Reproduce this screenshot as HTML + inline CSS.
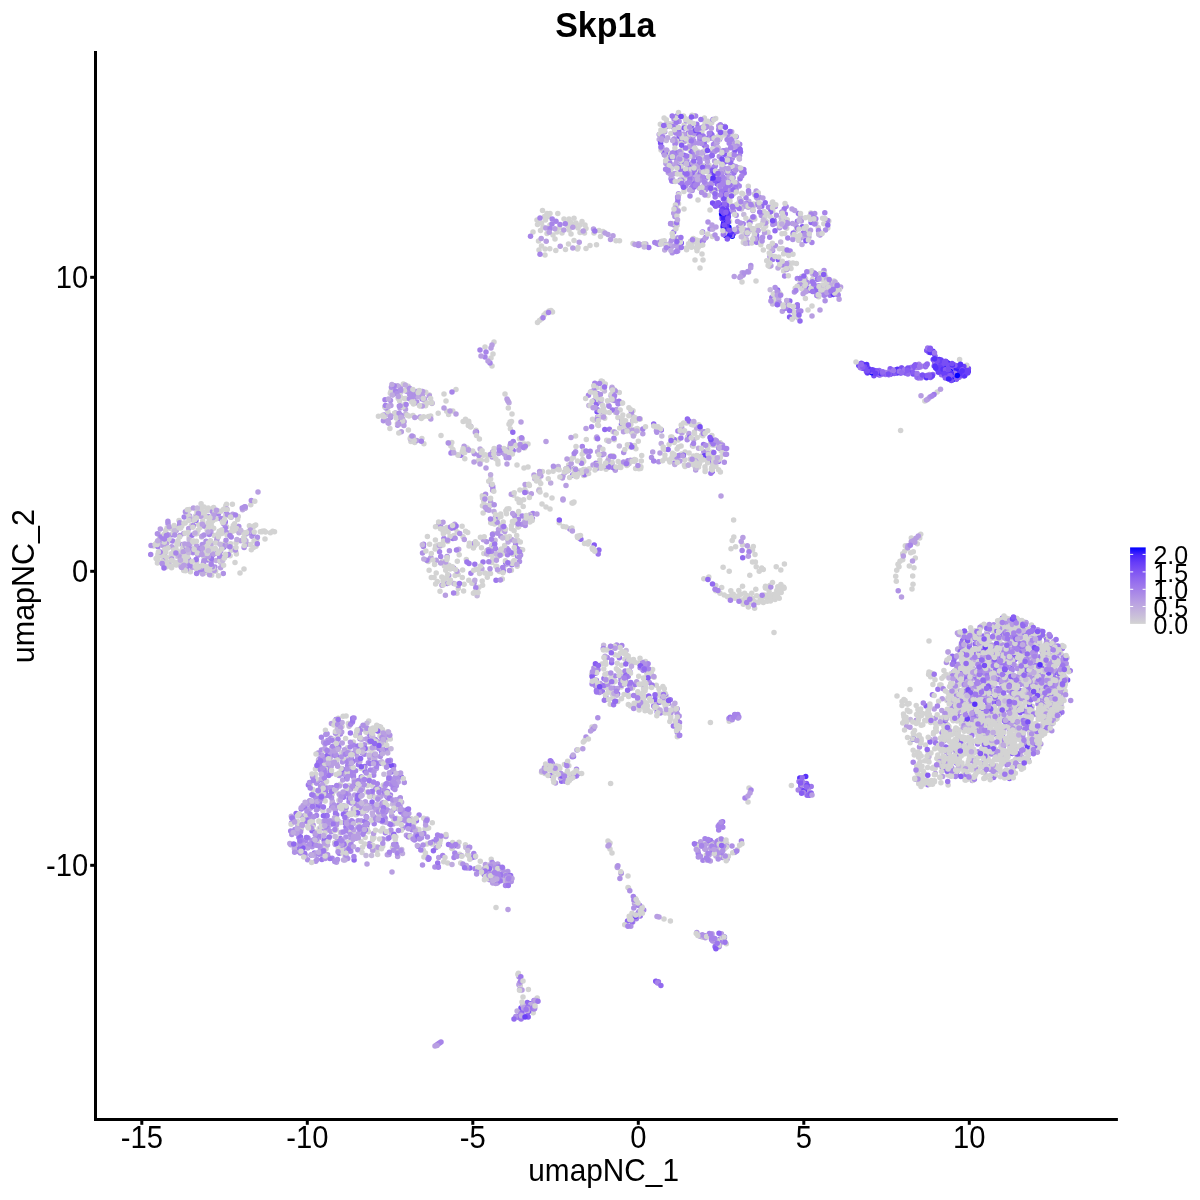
<!DOCTYPE html>
<html><head><meta charset="utf-8"><title>Skp1a</title>
<style>
html,body{margin:0;padding:0;background:#fff;}
body{width:1200px;height:1200px;overflow:hidden;}
svg{display:block;will-change:transform;}
text{font-family:"Liberation Sans",Arial,Helvetica,sans-serif;fill:#000;}
.tk{font-size:29.2px;}
.ax{font-size:29.8px;}
.lg{font-size:25px;}
</style></head>
<body>
<svg width="1200" height="1200" viewBox="0 0 1200 1200">
<defs>
<linearGradient id="cb" x1="0" y1="1" x2="0" y2="0">
<stop offset="0" stop-color="#d3d3d3"/><stop offset=".1" stop-color="#cac0d9"/><stop offset=".2" stop-color="#c1aede"/>
<stop offset=".3" stop-color="#b69ce3"/><stop offset=".4" stop-color="#aa89e7"/><stop offset=".5" stop-color="#9d77ec"/>
<stop offset=".6" stop-color="#8e65f0"/><stop offset=".7" stop-color="#7c51f4"/><stop offset=".8" stop-color="#673df8"/>
<stop offset=".9" stop-color="#4926fb"/><stop offset="1" stop-color="#0000ff"/>
</linearGradient>
</defs>
<text transform="translate(555.2 37.2) scale(1 1.045)" font-size="34" font-weight="bold">Skp1a</text>
<g fill="none" stroke-width="5.5" stroke-linecap="round">
<path stroke="#9d77ec" d="M728.1 195.6h.01M727.1 172.9h.01M706.2 186.8h.01M720.3 135.3h.01M680.1 182.2h.01M661.8 147.0h.01M732.4 184.2h.01M721.1 178.7h.01M667.0 153.1h.01M666.1 126.8h.01M667.3 158.2h.01M732.2 191.0h.01M743.8 169.5h.01M736.3 182.9h.01M738.3 144.3h.01M671.1 178.8h.01M699.9 139.5h.01M680.6 165.9h.01M723.4 198.6h.01M797.4 221.3h.01M737.8 229.5h.01M798.4 213.4h.01M786.1 220.3h.01M788.7 263.3h.01M836.8 291.6h.01M771.8 297.4h.01M673.7 231.9h.01M659.0 243.9h.01M461.0 455.2h.01M517.5 520.1h.01M453.5 567.9h.01M593.4 401.0h.01M597.8 393.8h.01M674.5 462.9h.01M892.3 370.1h.01M890.7 373.7h.01M918.3 377.9h.01M932.8 374.5h.01M928.4 348.8h.01M944.2 375.7h.01M946.0 372.8h.01M951.6 375.2h.01M947.8 374.8h.01M194.1 541.6h.01M953.9 687.0h.01M1015.7 748.2h.01M987.8 639.0h.01M1057.9 713.3h.01M982.8 742.2h.01M1070.2 670.7h.01M965.9 653.7h.01M994.2 662.2h.01M968.2 654.1h.01M1030.9 689.5h.01M947.2 760.3h.01M994.0 754.0h.01M1009.5 730.8h.01M1023.9 724.6h.01M1014.5 623.6h.01M1034.9 653.5h.01M1031.0 643.4h.01M1013.5 637.1h.01M1038.4 645.4h.01M1038.6 637.1h.01M1042.7 665.8h.01M1034.0 634.1h.01M981.6 638.0h.01M1025.8 622.6h.01M1004.3 623.4h.01M1018.5 641.1h.01M981.2 692.2h.01M1010.9 676.6h.01M1056.2 658.9h.01M980.8 675.7h.01M1040.6 696.2h.01M991.8 699.1h.01M1036.6 677.1h.01M1026.2 671.3h.01M1021.5 709.6h.01M979.2 687.2h.01M991.8 734.9h.01M970.0 680.8h.01M1034.0 674.7h.01M1009.6 653.6h.01M1044.8 727.2h.01M1057.7 708.5h.01M990.1 749.6h.01M998.6 703.3h.01M959.8 676.1h.01M981.0 684.8h.01M927.8 784.8h.01M314.4 853.0h.01M383.2 744.6h.01M344.5 822.4h.01M330.0 739.8h.01M328.8 821.2h.01M374.4 817.3h.01M350.4 733.0h.01M385.3 812.0h.01M383.4 820.4h.01M296.7 847.0h.01M336.1 719.4h.01M340.3 838.4h.01M301.3 809.1h.01M384.7 740.6h.01M348.0 830.9h.01M376.9 742.4h.01M345.9 826.9h.01M372.5 849.2h.01M437.7 862.9h.01M427.3 857.3h.01M602.4 691.2h.01M603.9 678.4h.01M665.7 695.2h.01M573.5 756.4h.01M577.6 774.0h.01M698.2 853.2h.01M712.0 842.6h.01M710.5 840.6h.01M716.1 845.8h.01M637.6 913.7h.01M526.3 1007.5h.01"/>
<path stroke="#0000ff" d="M725.4 215.4h.01M859.0 365.2h.01"/>
<path stroke="#794ff4" d="M733.6 233.5h.01M681.3 243.0h.01M597.1 411.7h.01M621.5 424.0h.01M859.0 365.7h.01M873.9 375.7h.01M904.1 370.9h.01M905.3 373.0h.01M913.1 374.1h.01M931.5 376.3h.01M930.4 352.5h.01M964.0 376.1h.01M947.0 374.7h.01M961.0 370.8h.01M987.8 631.5h.01M978.4 686.6h.01M1067.6 680.0h.01M966.9 651.4h.01M521.0 1008.1h.01"/>
<path stroke="#926aef" d="M714.2 138.1h.01M715.1 189.9h.01M712.8 150.2h.01M692.5 182.0h.01M697.0 184.6h.01M715.2 205.1h.01M725.1 202.6h.01M717.7 176.6h.01M721.7 211.0h.01M755.4 204.4h.01M775.0 230.8h.01M756.6 235.3h.01M598.9 550.0h.01M661.3 429.9h.01M883.2 372.7h.01M928.9 352.3h.01M950.7 364.6h.01M941.5 374.7h.01M959.2 377.2h.01M1049.7 677.9h.01M973.2 670.1h.01M993.2 625.9h.01M986.5 664.2h.01M1009.5 778.5h.01M1033.7 647.6h.01M954.7 702.9h.01M1053.4 687.8h.01M994.2 702.7h.01M1011.1 661.8h.01M996.6 643.9h.01M995.8 658.2h.01M985.9 682.2h.01M1039.7 633.1h.01M1063.6 675.3h.01M966.6 649.0h.01M1006.9 662.5h.01M973.8 638.2h.01M1019.4 733.9h.01M1044.6 645.9h.01M999.5 739.7h.01M1003.1 685.1h.01M1008.2 649.6h.01M401.5 777.1h.01M296.1 813.5h.01M333.5 822.4h.01M384.0 791.6h.01M361.3 776.9h.01M386.3 733.8h.01M379.4 796.9h.01M498.1 877.1h.01M469.9 868.1h.01M617.6 694.1h.01M804.1 790.6h.01M627.5 921.1h.01M711.4 938.6h.01"/>
<path stroke="#875cf2" d="M716.9 205.6h.01M724.5 196.8h.01M712.4 461.9h.01M867.8 369.1h.01M904.4 372.0h.01M916.8 373.9h.01M956.4 379.3h.01M956.5 372.4h.01M942.0 371.5h.01M943.6 373.1h.01M940.0 368.1h.01M953.5 373.2h.01M948.7 370.3h.01M999.0 734.7h.01M958.1 755.0h.01M953.9 671.9h.01M989.2 766.7h.01M1015.3 685.9h.01M956.8 763.2h.01M1007.8 638.0h.01M995.9 658.2h.01M1031.8 663.8h.01M1011.8 670.8h.01M1003.8 720.3h.01M987.0 633.0h.01M1015.3 650.3h.01M969.8 694.0h.01M348.2 762.7h.01M336.8 756.7h.01M386.6 750.6h.01M629.8 671.5h.01M605.7 696.4h.01M800.8 786.0h.01M656.6 981.6h.01M658.2 982.6h.01"/>
<path stroke="#c6b9db" d="M690.5 124.7h.01M683.2 179.2h.01M754.7 194.1h.01M746.5 239.6h.01M800.3 217.0h.01M818.4 287.3h.01M820.0 290.4h.01M772.6 304.1h.01M495.1 540.3h.01M604.4 391.0h.01M1023.5 738.4h.01M1065.2 656.8h.01M973.0 678.6h.01M973.9 697.1h.01M331.5 748.1h.01M351.4 773.7h.01M376.6 741.8h.01M391.3 833.8h.01M372.7 850.8h.01M401.7 849.4h.01M494.9 874.5h.01M626.1 650.4h.01M657.6 709.3h.01"/>
<path stroke="#3e1ffc" d="M723.5 223.9h.01M959.6 371.2h.01M964.4 372.3h.01M947.8 363.1h.01M945.4 371.9h.01M958.3 370.2h.01M1006.4 619.2h.01"/>
<path stroke="#6a40f7" d="M730.8 170.2h.01M720.9 204.9h.01M877.5 371.5h.01M862.3 366.7h.01M874.4 370.5h.01M876.0 371.4h.01M922.4 376.6h.01M933.2 359.5h.01M938.5 369.2h.01M934.9 360.0h.01M961.0 374.9h.01"/>
<path stroke="#af91e5" d="M726.9 171.5h.01M711.4 168.3h.01M719.7 171.4h.01M702.2 152.3h.01M659.2 134.5h.01M732.4 145.5h.01M689.3 167.6h.01M723.4 151.4h.01M733.1 177.8h.01M715.3 140.6h.01M691.4 187.8h.01M738.4 227.4h.01M814.7 213.5h.01M748.6 243.0h.01M818.7 285.7h.01M837.3 286.6h.01M822.7 289.5h.01M831.9 283.7h.01M786.7 308.1h.01M678.5 193.8h.01M673.5 224.8h.01M640.2 244.4h.01M657.0 243.6h.01M415.1 397.0h.01M470.6 426.2h.01M501.7 452.2h.01M452.5 450.6h.01M506.2 457.8h.01M525.2 525.6h.01M532.4 518.4h.01M486.6 541.7h.01M492.6 534.7h.01M430.5 558.4h.01M447.1 556.6h.01M438.5 524.9h.01M507.3 548.6h.01M422.5 553.1h.01M568.2 470.6h.01M569.8 528.9h.01M597.5 417.3h.01M602.5 411.5h.01M726.5 454.3h.01M909.3 370.6h.01M929.4 374.5h.01M208.2 516.5h.01M209.4 549.2h.01M217.3 553.1h.01M187.4 557.8h.01M251.9 536.3h.01M203.1 553.3h.01M177.9 556.6h.01M212.0 511.3h.01M197.9 555.2h.01M228.3 545.4h.01M188.6 559.3h.01M165.1 556.4h.01M1040.8 743.9h.01M1006.9 684.8h.01M971.0 674.0h.01M946.1 751.5h.01M972.2 760.3h.01M970.3 678.8h.01M985.0 712.9h.01M1051.2 656.0h.01M1006.8 740.1h.01M994.2 637.4h.01M1051.2 658.9h.01M1053.2 667.7h.01M1025.3 696.0h.01M972.3 780.6h.01M1014.8 638.9h.01M990.5 644.3h.01M975.9 654.5h.01M1022.6 638.4h.01M993.8 624.8h.01M1036.6 664.0h.01M979.2 688.6h.01M998.4 699.4h.01M1007.9 686.1h.01M996.7 664.0h.01M1009.6 723.7h.01M1049.6 707.8h.01M1035.0 652.2h.01M980.4 656.6h.01M1052.0 723.8h.01M1004.7 681.3h.01M974.4 657.5h.01M1050.4 663.6h.01M1045.4 693.4h.01M973.9 711.1h.01M1043.2 681.3h.01M916.3 720.3h.01M404.3 782.5h.01M374.0 729.8h.01M396.4 782.3h.01M351.3 802.9h.01M317.0 859.6h.01M359.6 790.8h.01M383.2 821.8h.01M321.4 750.1h.01M351.1 838.9h.01M400.1 806.5h.01M347.7 858.6h.01M312.9 794.9h.01M403.2 827.7h.01M380.3 756.4h.01M306.0 821.5h.01M343.1 796.5h.01M364.7 825.9h.01M370.7 796.3h.01M345.6 811.5h.01M399.4 820.8h.01M315.3 834.5h.01M320.6 849.0h.01M317.9 800.8h.01M336.0 808.5h.01M298.0 825.4h.01M303.7 806.9h.01M327.8 740.3h.01M314.2 840.4h.01M353.4 774.7h.01M373.6 759.1h.01M342.5 762.0h.01M307.6 859.8h.01M372.8 807.1h.01M370.6 757.0h.01M328.2 830.0h.01M369.7 843.6h.01M382.8 839.1h.01M403.8 820.0h.01M467.0 867.9h.01M511.2 881.4h.01M497.3 883.0h.01M485.5 870.7h.01M501.3 877.3h.01M502.2 869.1h.01M628.0 672.6h.01M649.3 682.5h.01M627.8 660.5h.01M613.8 688.3h.01M677.2 719.8h.01M643.4 662.5h.01M717.1 846.5h.01M717.7 850.6h.01M697.9 850.8h.01M722.4 857.5h.01M700.1 844.0h.01M630.3 916.8h.01M719.4 945.6h.01M711.9 936.5h.01M519.0 984.7h.01"/>
<path stroke="#d3d3d3" d="M712.0 180.2h.01M663.8 150.6h.01M709.5 126.5h.01M690.8 132.0h.01M674.7 139.1h.01M697.1 170.0h.01M671.9 173.3h.01M685.8 136.7h.01M718.5 148.7h.01M684.1 125.1h.01M698.4 129.1h.01M730.9 135.4h.01M660.9 130.1h.01M681.5 150.5h.01M697.1 130.4h.01M659.8 133.9h.01M705.1 122.7h.01M669.7 154.3h.01M684.1 188.6h.01M690.1 175.4h.01M679.3 166.7h.01M719.5 182.7h.01M732.7 154.1h.01M705.5 148.2h.01M702.3 137.5h.01M784.1 213.6h.01M764.8 214.1h.01M786.7 228.2h.01M740.0 231.1h.01M796.7 236.5h.01M761.4 204.8h.01M741.8 193.2h.01M787.3 219.8h.01M753.1 207.0h.01M818.2 227.7h.01M739.9 205.9h.01M781.3 222.8h.01M757.9 198.9h.01M761.4 241.0h.01M749.1 231.8h.01M735.4 205.3h.01M828.8 220.9h.01M772.8 210.9h.01M772.2 203.1h.01M753.4 204.0h.01M768.0 232.2h.01M729.6 221.5h.01M763.9 211.6h.01M780.0 266.2h.01M772.7 245.4h.01M789.7 266.0h.01M773.2 245.5h.01M772.5 256.2h.01M789.8 263.2h.01M811.7 270.7h.01M805.6 278.8h.01M818.7 296.8h.01M774.6 299.4h.01M779.0 292.6h.01M793.2 311.4h.01M780.7 294.6h.01M677.9 209.9h.01M676.4 207.9h.01M678.5 203.7h.01M677.1 225.3h.01M664.3 240.7h.01M688.5 243.8h.01M697.0 250.7h.01M700.2 240.7h.01M686.6 249.7h.01M712.4 236.4h.01M425.6 405.8h.01M413.2 439.6h.01M412.1 399.1h.01M424.9 400.9h.01M408.1 386.3h.01M429.4 394.9h.01M384.1 418.2h.01M405.7 398.6h.01M394.6 413.6h.01M391.0 391.2h.01M438.2 413.2h.01M468.8 423.3h.01M468.3 425.4h.01M476.0 430.3h.01M470.9 426.4h.01M508.3 454.1h.01M448.2 442.8h.01M452.9 449.5h.01M486.7 460.3h.01M483.3 455.2h.01M519.5 438.8h.01M494.1 448.4h.01M509.6 446.0h.01M490.6 479.1h.01M482.3 495.7h.01M527.6 518.3h.01M531.2 514.6h.01M501.4 529.9h.01M497.9 518.1h.01M517.9 514.0h.01M438.4 544.9h.01M458.1 574.6h.01M431.3 577.6h.01M517.2 566.2h.01M458.3 588.6h.01M511.4 570.3h.01M480.5 566.4h.01M490.5 573.5h.01M435.4 540.0h.01M512.0 553.5h.01M493.4 533.6h.01M451.6 538.0h.01M493.1 543.8h.01M447.7 541.4h.01M496.8 566.6h.01M449.0 565.2h.01M427.0 560.4h.01M483.8 553.5h.01M487.0 550.5h.01M503.7 567.6h.01M492.8 558.4h.01M478.9 587.2h.01M447.2 557.5h.01M474.3 546.1h.01M443.1 531.1h.01M516.7 535.4h.01M467.7 532.5h.01M428.2 561.4h.01M500.5 550.4h.01M513.0 554.2h.01M492.2 554.7h.01M515.0 552.1h.01M502.1 550.6h.01M455.2 528.6h.01M453.7 525.4h.01M569.8 468.6h.01M539.0 480.8h.01M523.2 506.4h.01M580.6 470.7h.01M553.8 468.4h.01M589.2 468.8h.01M519.9 489.9h.01M583.7 461.4h.01M599.8 460.1h.01M579.0 537.9h.01M579.2 536.2h.01M592.7 549.4h.01M572.0 530.6h.01M625.9 423.7h.01M593.1 391.8h.01M603.8 410.2h.01M624.3 426.0h.01M605.3 384.0h.01M622.0 403.0h.01M598.5 425.5h.01M601.2 380.9h.01M613.5 397.3h.01M617.9 417.6h.01M620.0 401.9h.01M635.7 420.8h.01M640.3 419.1h.01M596.5 387.9h.01M582.4 463.3h.01M619.7 428.1h.01M596.2 438.2h.01M634.5 445.4h.01M586.3 439.5h.01M608.7 458.1h.01M638.3 441.3h.01M638.9 468.7h.01M606.0 469.3h.01M583.6 475.5h.01M640.6 468.4h.01M599.7 463.2h.01M641.3 461.1h.01M620.8 467.6h.01M620.2 466.2h.01M720.1 442.8h.01M678.2 440.1h.01M699.9 462.0h.01M702.5 431.5h.01M714.4 444.8h.01M708.3 456.4h.01M684.4 464.9h.01M658.0 426.8h.01M696.6 455.4h.01M718.6 469.8h.01M710.4 443.9h.01M701.7 435.0h.01M684.8 459.8h.01M705.0 466.8h.01M720.4 472.1h.01M691.4 424.5h.01M723.0 454.0h.01M703.4 459.4h.01M693.4 456.1h.01M720.3 457.1h.01M765.5 587.9h.01M768.5 595.4h.01M765.2 587.3h.01M773.5 594.4h.01M784.1 588.3h.01M776.4 594.6h.01M256.7 540.0h.01M225.8 505.7h.01M205.1 572.8h.01M195.1 517.8h.01M176.0 564.5h.01M179.7 544.1h.01M238.3 516.5h.01M171.2 553.8h.01M196.9 511.8h.01M187.7 556.5h.01M180.6 553.1h.01M236.0 552.6h.01M211.2 524.1h.01M243.3 532.6h.01M225.0 543.3h.01M214.2 535.6h.01M200.1 512.3h.01M211.6 548.2h.01M198.8 550.3h.01M232.4 504.2h.01M187.2 511.6h.01M226.5 504.3h.01M227.4 515.3h.01M159.8 537.5h.01M157.6 557.2h.01M201.6 536.9h.01M163.2 552.9h.01M198.1 530.2h.01M164.3 536.9h.01M175.8 547.8h.01M253.3 526.8h.01M200.0 527.6h.01M215.0 511.7h.01M171.6 567.8h.01M213.7 528.3h.01M189.1 536.9h.01M211.7 575.2h.01M163.4 540.0h.01M256.0 546.2h.01M204.1 557.3h.01M249.0 531.0h.01M170.7 528.6h.01M161.7 540.5h.01M201.1 571.9h.01M236.4 553.9h.01M201.3 568.8h.01M190.4 571.7h.01M223.2 523.4h.01M169.0 541.1h.01M163.8 559.5h.01M250.8 504.7h.01M260.3 531.8h.01M265.5 532.0h.01M997.3 649.3h.01M952.1 750.0h.01M1049.7 694.9h.01M996.6 643.8h.01M986.2 673.3h.01M996.2 652.1h.01M1028.7 745.0h.01M963.9 746.2h.01M961.5 635.6h.01M1045.4 666.8h.01M973.3 685.6h.01M1038.9 640.5h.01M1037.8 734.4h.01M948.0 774.9h.01M1057.1 651.3h.01M1029.7 713.3h.01M1004.0 688.5h.01M1032.2 706.2h.01M987.9 744.5h.01M954.3 678.6h.01M961.5 743.0h.01M968.8 641.5h.01M988.8 720.7h.01M1027.3 671.2h.01M963.4 719.9h.01M1008.9 773.3h.01M1044.4 655.5h.01M1003.4 638.0h.01M983.6 643.8h.01M1031.5 624.9h.01M1027.7 692.6h.01M994.8 732.2h.01M1002.6 657.4h.01M962.4 661.3h.01M969.8 693.6h.01M961.0 748.2h.01M1000.1 626.8h.01M952.1 716.1h.01M1063.5 692.4h.01M1039.4 690.7h.01M1052.7 683.1h.01M949.5 741.4h.01M1024.9 652.6h.01M987.8 649.4h.01M1004.9 687.7h.01M986.3 667.9h.01M989.6 753.9h.01M996.5 646.4h.01M1067.5 667.5h.01M991.3 740.3h.01M986.0 775.4h.01M1057.8 691.5h.01M964.9 684.5h.01M1008.1 762.2h.01M983.2 658.6h.01M952.5 760.2h.01M996.3 767.5h.01M966.4 767.0h.01M950.4 757.3h.01M984.5 717.5h.01M1034.9 736.6h.01M1008.7 774.1h.01M991.6 656.2h.01M941.6 766.9h.01M1021.7 749.6h.01M956.8 679.3h.01M979.5 648.1h.01M1039.3 738.4h.01M968.2 762.0h.01M970.8 632.3h.01M1020.3 648.0h.01M1055.7 696.9h.01M946.4 726.4h.01M975.9 690.3h.01M981.9 723.7h.01M954.6 755.4h.01M938.5 764.3h.01M1022.4 717.9h.01M1061.5 668.4h.01M983.0 718.3h.01M1012.4 636.6h.01M951.1 685.0h.01M984.2 738.8h.01M1037.5 676.3h.01M1031.6 694.0h.01M952.3 746.0h.01M958.7 694.5h.01M1020.4 629.7h.01M1065.6 677.7h.01M973.4 694.4h.01M974.8 758.3h.01M984.8 706.6h.01M1022.8 621.5h.01M1019.5 681.7h.01M1036.0 635.6h.01M1026.9 750.2h.01M1000.4 757.1h.01M1007.6 705.2h.01M975.8 773.8h.01M1050.8 721.5h.01M964.4 680.5h.01M1008.1 756.8h.01M981.2 661.2h.01M1042.4 633.9h.01M1030.2 642.3h.01M988.6 652.4h.01M987.8 724.3h.01M952.2 700.2h.01M1062.1 664.8h.01M1038.6 681.6h.01M1005.9 689.6h.01M1015.8 710.9h.01M1001.4 674.6h.01M1060.1 678.4h.01M1015.7 706.4h.01M1048.9 701.9h.01M1001.6 732.2h.01M1008.7 717.7h.01M989.6 737.6h.01M1039.6 709.3h.01M1038.2 719.0h.01M1044.6 636.5h.01M988.8 738.1h.01M984.5 772.7h.01M1003.2 757.4h.01M986.9 691.8h.01M990.5 660.0h.01M945.6 734.4h.01M1005.7 648.0h.01M973.8 716.1h.01M980.5 696.1h.01M1033.6 729.5h.01M1017.2 618.9h.01M1010.5 661.6h.01M1013.9 741.1h.01M997.1 695.2h.01M1015.6 630.5h.01M991.6 669.8h.01M1060.4 707.9h.01M983.3 732.6h.01M1024.7 667.6h.01M1034.6 741.8h.01M1054.8 661.3h.01M998.3 668.8h.01M1003.2 692.8h.01M1037.6 729.1h.01M967.6 776.5h.01M983.0 720.1h.01M1038.0 675.6h.01M969.4 751.0h.01M975.1 760.4h.01M1017.8 728.5h.01M1026.5 711.5h.01M985.7 697.9h.01M971.9 694.2h.01M1001.6 772.5h.01M984.1 749.6h.01M1012.0 648.5h.01M965.0 719.8h.01M1033.8 687.4h.01M999.5 648.4h.01M986.3 658.8h.01M945.8 750.4h.01M1022.6 623.3h.01M968.3 744.8h.01M1016.5 719.3h.01M959.9 648.3h.01M1001.9 744.8h.01M949.0 770.4h.01M1011.5 645.5h.01M970.5 669.8h.01M973.3 660.8h.01M945.7 735.9h.01M1021.6 632.9h.01M973.1 780.2h.01M1003.7 705.3h.01M1004.9 649.9h.01M954.3 760.4h.01M976.4 767.8h.01M947.2 709.3h.01M971.8 757.2h.01M996.3 756.9h.01M953.0 701.9h.01M948.9 726.4h.01M1000.1 627.7h.01M1012.2 697.6h.01M986.1 706.9h.01M993.6 745.4h.01M968.1 762.6h.01M1023.4 638.0h.01M990.0 686.8h.01M993.6 766.7h.01M989.7 717.7h.01M995.6 661.5h.01M1017.4 645.5h.01M1008.3 727.4h.01M1026.6 727.8h.01M1044.3 672.2h.01M1009.3 732.5h.01M954.5 750.1h.01M1050.5 714.6h.01M973.3 726.3h.01M1004.4 759.4h.01M993.9 660.4h.01M1013.5 696.7h.01M989.0 682.4h.01M1003.9 632.2h.01M945.0 723.0h.01M1037.0 733.4h.01M982.1 657.3h.01M990.6 669.8h.01M965.7 769.5h.01M968.2 693.2h.01M983.7 696.4h.01M963.3 766.9h.01M1060.5 711.5h.01M1012.7 686.9h.01M1013.2 770.9h.01M1034.8 642.0h.01M989.0 626.8h.01M965.2 655.4h.01M1022.8 731.7h.01M996.2 728.4h.01M1003.5 691.3h.01M990.2 713.7h.01M964.9 639.8h.01M1015.0 648.5h.01M1056.0 719.2h.01M982.4 733.8h.01M1057.7 677.7h.01M1004.1 623.1h.01M946.3 769.6h.01M996.2 673.7h.01M1001.4 764.6h.01M964.9 683.5h.01M1016.2 633.7h.01M1006.1 638.8h.01M1046.8 637.9h.01M1034.6 697.5h.01M914.3 755.1h.01M930.7 722.5h.01M940.9 782.8h.01M921.0 786.4h.01M908.9 711.5h.01M907.1 703.9h.01M930.4 672.7h.01M916.5 714.4h.01M921.1 725.3h.01M917.9 721.4h.01M921.2 756.0h.01M948.2 651.7h.01M917.9 709.4h.01M940.1 723.5h.01M918.4 711.7h.01M946.9 700.6h.01M922.6 713.6h.01M907.6 704.3h.01M902.0 705.5h.01M939.8 685.0h.01M922.0 766.3h.01M933.4 733.9h.01M904.3 720.7h.01M918.3 720.0h.01M924.7 720.6h.01M935.0 768.2h.01M920.7 775.3h.01M920.0 767.5h.01M918.7 783.8h.01M917.2 772.5h.01M349.1 785.4h.01M320.2 768.0h.01M360.2 737.4h.01M382.4 748.2h.01M319.1 828.5h.01M326.1 848.7h.01M362.3 777.6h.01M368.9 742.3h.01M339.7 795.3h.01M326.8 789.9h.01M398.3 773.7h.01M360.8 787.8h.01M362.3 831.1h.01M353.4 742.0h.01M378.9 805.4h.01M378.8 813.8h.01M345.0 856.1h.01M347.3 747.7h.01M356.9 797.7h.01M340.3 784.3h.01M314.6 831.8h.01M324.0 840.9h.01M298.6 823.7h.01M373.0 770.6h.01M315.4 769.1h.01M319.5 805.3h.01M379.6 797.6h.01M366.9 826.6h.01M346.2 808.1h.01M345.9 847.2h.01M348.3 723.6h.01M385.9 740.4h.01M349.3 758.6h.01M310.8 783.6h.01M363.8 729.7h.01M398.2 849.1h.01M395.8 836.7h.01M376.4 846.8h.01M364.7 844.1h.01M377.0 850.5h.01M423.3 850.3h.01M443.7 861.8h.01M413.7 823.7h.01M447.6 862.9h.01M428.6 828.0h.01M425.0 828.9h.01M465.4 844.8h.01M491.2 859.3h.01M409.0 836.9h.01M467.6 854.5h.01M504.1 871.5h.01M494.0 870.7h.01M495.8 865.0h.01M630.5 706.0h.01M655.0 708.2h.01M633.5 659.5h.01M613.3 681.7h.01M631.3 660.4h.01M631.1 661.9h.01M660.2 694.5h.01M628.2 655.9h.01M660.7 696.1h.01M621.2 687.1h.01M612.5 694.6h.01M605.6 699.6h.01M676.3 710.7h.01M656.3 685.2h.01M629.8 683.0h.01M638.7 696.7h.01M616.4 668.7h.01M594.9 681.1h.01M591.6 674.5h.01M670.8 715.8h.01M661.9 694.0h.01M605.4 687.2h.01M621.4 672.7h.01M642.2 693.4h.01M632.7 687.9h.01M608.0 692.6h.01M648.7 675.3h.01M572.5 773.8h.01M567.4 771.1h.01M575.5 773.4h.01M541.5 772.2h.01M544.9 773.4h.01M729.2 721.3h.01M737.7 717.7h.01M707.7 842.0h.01M702.9 844.0h.01M725.0 847.4h.01M714.4 851.5h.01M726.7 843.6h.01M716.1 848.5h.01M621.0 873.9h.01M628.0 887.6h.01M632.0 913.3h.01M702.5 937.3h.01M726.3 943.8h.01M715.5 944.5h.01M724.4 938.3h.01M518.4 973.3h.01M537.2 998.1h.01"/>
<path stroke="#5731fa" d="M729.0 235.4h.01M728.1 222.3h.01M723.3 210.4h.01M877.2 371.1h.01M897.1 373.0h.01M947.9 373.1h.01M946.1 361.7h.01M950.9 374.8h.01M963.0 368.1h.01M963.8 370.9h.01M1062.2 686.0h.01M809.0 793.3h.01"/>
<path stroke="#b89ee2" d="M696.5 166.9h.01M721.1 134.7h.01M662.7 150.2h.01M703.8 143.7h.01M720.8 181.9h.01M732.1 146.0h.01M692.0 136.4h.01M684.5 141.6h.01M705.1 151.0h.01M667.2 151.5h.01M732.1 140.9h.01M717.4 182.1h.01M689.6 173.8h.01M677.1 157.4h.01M665.9 163.4h.01M766.3 222.1h.01M781.2 222.2h.01M801.3 221.1h.01M737.1 205.1h.01M796.8 227.6h.01M840.6 287.1h.01M838.1 287.1h.01M822.6 291.8h.01M741.0 276.6h.01M743.0 275.2h.01M429.3 395.7h.01M404.1 421.7h.01M400.5 387.2h.01M424.5 399.0h.01M492.1 457.1h.01M490.6 501.8h.01M443.0 522.2h.01M430.9 557.5h.01M483.4 539.8h.01M454.7 524.3h.01M563.0 476.1h.01M526.0 492.1h.01M531.3 493.8h.01M562.4 477.9h.01M531.1 515.4h.01M530.7 514.6h.01M616.4 409.5h.01M586.2 451.9h.01M656.4 430.8h.01M681.7 427.4h.01M240.6 540.8h.01M210.9 531.7h.01M196.4 545.7h.01M232.7 514.2h.01M189.6 515.9h.01M171.7 546.7h.01M258.0 492.0h.01M965.3 738.4h.01M1036.9 714.7h.01M1001.7 743.3h.01M961.1 672.2h.01M938.9 764.7h.01M1031.0 717.6h.01M949.3 730.5h.01M1029.0 718.5h.01M1061.0 694.1h.01M1025.8 622.8h.01M1002.0 650.4h.01M1022.3 680.5h.01M1010.0 645.9h.01M1043.6 690.4h.01M990.1 726.1h.01M1002.6 712.8h.01M1024.4 675.1h.01M1018.4 678.1h.01M1016.2 736.8h.01M1010.9 750.9h.01M1020.8 730.7h.01M935.3 773.6h.01M353.2 768.3h.01M310.4 808.2h.01M321.5 806.8h.01M362.4 788.7h.01M339.1 794.1h.01M386.3 810.2h.01M366.3 739.1h.01M332.1 804.1h.01M361.2 820.7h.01M314.7 776.2h.01M376.5 740.7h.01M373.5 769.8h.01M378.6 762.9h.01M393.3 824.0h.01M331.1 821.0h.01M374.6 759.8h.01M328.7 838.6h.01M376.4 768.4h.01M408.8 813.5h.01M347.3 752.4h.01M314.8 802.8h.01M350.9 838.2h.01M342.7 779.9h.01M380.8 796.2h.01M397.6 856.6h.01M406.4 835.2h.01M438.7 857.4h.01M417.4 829.6h.01M495.7 883.4h.01M497.7 864.1h.01M487.3 869.9h.01M600.2 683.4h.01M593.0 728.5h.01M710.6 848.1h.01M637.1 902.3h.01M534.5 1005.2h.01"/>
<path stroke="#a784e9" d="M729.2 175.8h.01M706.6 166.9h.01M722.0 163.9h.01M695.4 153.4h.01M663.6 152.4h.01M727.1 139.4h.01M707.9 137.9h.01M717.1 141.9h.01M701.1 132.6h.01M732.3 158.3h.01M693.5 151.4h.01M662.7 136.7h.01M665.1 152.9h.01M727.8 134.6h.01M736.1 136.7h.01M697.7 182.5h.01M670.0 153.8h.01M723.3 190.7h.01M768.5 207.2h.01M815.8 218.8h.01M757.9 204.1h.01M786.1 206.6h.01M787.8 238.1h.01M814.0 291.5h.01M829.4 293.8h.01M677.3 203.1h.01M422.1 399.1h.01M476.5 432.0h.01M439.5 551.7h.01M423.6 544.3h.01M595.9 463.2h.01M624.9 426.6h.01M629.1 427.7h.01M712.7 457.0h.01M921.0 366.0h.01M946.7 374.4h.01M209.3 534.6h.01M200.8 547.9h.01M199.3 570.1h.01M218.4 513.9h.01M222.0 530.4h.01M172.6 541.1h.01M244.3 507.1h.01M978.9 682.0h.01M1059.5 685.7h.01M947.7 761.4h.01M961.2 646.0h.01M955.6 761.0h.01M1042.7 675.6h.01M1013.0 741.4h.01M1019.2 738.9h.01M1051.4 671.9h.01M1016.8 636.4h.01M1063.2 656.3h.01M1001.9 644.6h.01M991.6 671.7h.01M968.0 711.7h.01M991.1 663.2h.01M1009.3 737.2h.01M975.8 760.4h.01M1038.7 637.3h.01M1018.6 658.2h.01M996.5 651.1h.01M993.1 659.7h.01M1004.0 649.3h.01M1035.7 690.8h.01M1042.3 679.1h.01M975.7 692.0h.01M976.6 675.6h.01M1030.6 646.2h.01M1057.0 657.9h.01M978.7 708.1h.01M1002.7 670.9h.01M962.6 682.9h.01M976.0 648.8h.01M963.1 709.7h.01M988.7 637.3h.01M1002.7 678.6h.01M991.5 754.0h.01M1026.4 718.1h.01M978.2 751.8h.01M995.5 658.7h.01M986.5 733.9h.01M913.2 762.3h.01M370.2 729.5h.01M297.4 851.3h.01M328.0 760.0h.01M373.7 775.2h.01M347.3 787.7h.01M305.0 815.5h.01M347.1 821.7h.01M341.9 772.3h.01M296.4 832.4h.01M381.3 732.3h.01M390.4 795.0h.01M378.9 789.0h.01M294.9 829.5h.01M324.3 756.8h.01M375.2 739.5h.01M382.0 804.0h.01M328.8 765.4h.01M321.1 828.2h.01M364.4 754.3h.01M356.0 837.1h.01M315.1 854.6h.01M339.6 803.9h.01M331.7 807.6h.01M347.6 789.6h.01M328.1 742.5h.01M375.6 788.4h.01M395.9 843.9h.01M409.6 821.1h.01M442.7 855.6h.01M492.1 862.4h.01M607.2 657.6h.01M660.5 713.0h.01M620.1 676.6h.01M671.0 712.3h.01M653.7 705.9h.01M679.5 722.5h.01M615.0 675.9h.01M679.7 735.2h.01M645.7 668.1h.01M552.3 763.6h.01M738.8 716.9h.01M734.9 714.5h.01M718.4 840.5h.01M699.4 855.8h.01M702.9 860.3h.01M721.3 825.2h.01M803.1 782.4h.01M643.7 910.0h.01M720.1 938.9h.01M711.6 939.8h.01M520.5 982.1h.01"/>
<path stroke="#bfabdf" d="M672.1 124.3h.01M733.2 154.2h.01M666.9 123.4h.01M752.0 219.6h.01M748.2 207.2h.01M808.9 236.9h.01M748.8 201.2h.01M804.2 237.7h.01M757.7 197.9h.01M793.2 317.4h.01M393.0 394.7h.01M413.2 436.4h.01M419.5 394.0h.01M510.5 446.7h.01M492.5 451.9h.01M500.1 528.3h.01M453.9 583.5h.01M520.3 549.5h.01M618.2 403.8h.01M600.6 417.1h.01M597.6 451.8h.01M717.6 445.3h.01M661.2 443.6h.01M698.5 448.3h.01M216.6 540.5h.01M169.1 563.1h.01M211.8 543.4h.01M158.5 542.8h.01M186.4 564.3h.01M947.5 725.1h.01M1034.9 731.1h.01M1053.7 641.3h.01M1049.3 665.7h.01M1051.9 648.0h.01M1012.5 641.4h.01M1001.2 683.2h.01M971.8 671.0h.01M1014.8 629.4h.01M974.0 695.4h.01M969.1 680.3h.01M930.1 739.6h.01M341.3 797.5h.01M338.9 841.3h.01M361.3 807.8h.01M345.6 759.7h.01M351.3 754.8h.01M361.8 789.4h.01M291.3 816.2h.01M336.3 721.4h.01M305.5 855.2h.01M399.6 809.8h.01M350.3 828.3h.01M310.0 819.1h.01M361.3 813.4h.01M332.3 801.3h.01M382.9 750.7h.01M364.2 802.8h.01M388.6 780.4h.01M388.7 737.8h.01M374.7 747.7h.01M372.9 815.8h.01M493.0 866.2h.01M643.2 698.4h.01M675.6 709.8h.01M541.7 771.0h.01M576.7 773.4h.01M716.0 944.6h.01M517.1 1010.9h.01"/>
<path stroke="#794ff4" d="M691.8 163.7h.01M725.3 225.6h.01M727.8 229.3h.01M913.4 373.4h.01M947.6 376.4h.01M968.4 368.6h.01M937.0 363.3h.01M994.0 646.1h.01M989.7 748.2h.01M1011.8 668.8h.01M1024.1 710.9h.01M1055.7 672.2h.01M1051.4 716.6h.01M997.6 702.9h.01M715.6 940.1h.01M530.7 1003.7h.01"/>
<path stroke="#926aef" d="M673.5 180.9h.01M691.1 151.2h.01M683.3 186.4h.01M684.2 162.8h.01M725.8 169.8h.01M811.1 222.5h.01M761.8 206.2h.01M817.3 279.2h.01M831.7 293.4h.01M580.9 539.3h.01M621.7 421.1h.01M653.7 424.0h.01M871.8 370.6h.01M881.8 373.2h.01M863.0 368.1h.01M893.4 371.3h.01M897.9 371.4h.01M925.5 366.8h.01M925.7 365.3h.01M920.1 376.3h.01M956.1 369.3h.01M953.6 369.1h.01M1029.8 650.3h.01M1003.4 680.7h.01M962.6 640.4h.01M1032.2 638.3h.01M1011.4 722.6h.01M974.2 707.6h.01M1013.5 761.5h.01M1028.2 759.8h.01M1018.5 696.5h.01M1057.0 671.9h.01M967.2 644.6h.01M958.0 746.1h.01M950.8 767.2h.01M967.4 716.4h.01M968.8 652.5h.01M1035.3 696.8h.01M1027.9 649.4h.01M1048.5 648.3h.01M1046.7 639.6h.01M990.8 686.7h.01M981.6 677.6h.01M992.5 686.3h.01M1018.2 707.8h.01M980.3 658.0h.01M980.6 683.9h.01M945.3 720.8h.01M311.1 854.9h.01M372.1 801.9h.01M349.1 798.4h.01M365.0 771.1h.01M312.0 830.7h.01M399.1 799.2h.01M320.0 761.9h.01M343.4 814.2h.01M326.8 815.3h.01M393.8 834.3h.01M438.1 866.4h.01M412.2 820.4h.01M428.4 859.3h.01M639.6 664.1h.01M599.2 686.4h.01M657.2 711.9h.01M561.6 781.3h.01M527.3 1002.4h.01"/>
<path stroke="#9d77ec" d="M716.7 143.1h.01M691.7 175.7h.01M704.4 145.2h.01M718.8 130.1h.01M697.7 176.3h.01M757.5 230.3h.01M784.2 209.0h.01M736.9 231.5h.01M746.2 203.5h.01M737.0 206.5h.01M830.0 295.2h.01M830.5 288.2h.01M797.3 304.8h.01M797.3 307.0h.01M671.4 246.4h.01M706.0 237.2h.01M513.2 450.4h.01M494.9 518.5h.01M496.0 580.3h.01M511.8 564.8h.01M598.2 554.0h.01M619.0 401.3h.01M609.4 429.2h.01M680.9 438.0h.01M718.5 461.5h.01M703.5 444.6h.01M674.2 439.5h.01M906.9 371.3h.01M885.6 374.4h.01M926.6 365.2h.01M918.3 367.6h.01M929.2 350.4h.01M1021.6 744.5h.01M1019.4 627.1h.01M987.3 629.2h.01M999.3 660.8h.01M1013.0 742.6h.01M999.2 636.0h.01M1002.0 750.8h.01M1002.2 698.7h.01M991.1 691.8h.01M1055.3 687.7h.01M976.0 657.6h.01M1019.1 642.5h.01M970.0 670.0h.01M1025.6 672.8h.01M1049.9 636.3h.01M976.5 695.5h.01M1030.0 637.1h.01M1016.9 646.2h.01M975.5 731.4h.01M1043.7 703.3h.01M1032.2 649.4h.01M1029.5 692.9h.01M981.3 679.0h.01M969.7 756.0h.01M1002.8 668.9h.01M977.7 743.9h.01M937.9 689.3h.01M408.0 818.6h.01M368.6 733.3h.01M358.4 764.8h.01M336.7 814.7h.01M351.9 840.3h.01M393.7 765.8h.01M343.4 797.2h.01M355.2 808.3h.01M387.4 797.2h.01M347.6 824.1h.01M380.9 763.2h.01M304.6 853.2h.01M298.9 837.5h.01M308.4 785.0h.01M408.5 809.1h.01M376.2 743.0h.01M305.0 807.2h.01M643.1 670.3h.01M648.6 669.6h.01M593.2 679.0h.01M604.0 685.4h.01M652.0 685.1h.01M677.5 730.8h.01M597.4 665.9h.01M801.3 782.5h.01M636.9 904.9h.01M720.2 939.8h.01M717.4 946.0h.01"/>
<path stroke="#875cf2" d="M724.8 162.1h.01M710.2 135.7h.01M818.1 289.0h.01M789.6 316.9h.01M867.9 367.8h.01M883.1 373.7h.01M879.3 374.9h.01M888.8 374.5h.01M890.2 368.7h.01M945.9 375.5h.01M934.6 361.9h.01M949.8 372.6h.01M951.9 373.7h.01M947.6 375.0h.01M934.8 363.8h.01M944.5 375.1h.01M949.2 377.4h.01M985.9 634.8h.01M995.1 772.3h.01M963.5 701.5h.01M1048.6 697.7h.01M987.7 679.1h.01M1005.8 656.9h.01M979.4 714.8h.01M1011.3 684.7h.01M1046.3 666.7h.01M989.4 697.1h.01M638.0 701.9h.01M643.2 685.3h.01M809.2 795.2h.01"/>
<path stroke="#af91e5" d="M711.2 184.5h.01M728.9 191.7h.01M692.4 178.4h.01M702.8 156.0h.01M674.0 119.1h.01M664.3 152.5h.01M732.4 166.2h.01M664.7 131.8h.01M712.2 172.8h.01M679.3 152.1h.01M707.4 171.2h.01M737.4 184.4h.01M693.8 140.8h.01M692.2 190.5h.01M761.3 215.4h.01M781.8 211.9h.01M752.9 210.4h.01M751.9 206.4h.01M775.0 223.6h.01M779.5 227.8h.01M762.6 237.3h.01M775.5 245.8h.01M769.9 256.4h.01M786.6 263.4h.01M825.1 300.7h.01M824.0 270.5h.01M799.5 284.8h.01M828.7 285.3h.01M836.9 284.5h.01M829.6 281.4h.01M770.9 300.9h.01M778.6 303.9h.01M674.9 216.5h.01M678.1 244.9h.01M672.3 252.8h.01M725.2 233.1h.01M397.6 425.2h.01M406.5 391.2h.01M499.3 447.1h.01M499.4 449.3h.01M520.1 446.2h.01M474.3 453.8h.01M491.6 522.8h.01M514.4 515.4h.01M448.7 575.4h.01M474.1 582.9h.01M449.4 550.8h.01M575.6 451.7h.01M574.5 468.5h.01M658.7 461.8h.01M713.0 463.5h.01M707.2 456.8h.01M223.3 573.6h.01M226.0 540.3h.01M244.1 547.5h.01M195.6 516.7h.01M257.4 537.3h.01M214.9 566.9h.01M209.7 551.5h.01M204.6 526.3h.01M165.3 559.2h.01M202.3 544.4h.01M206.0 541.3h.01M251.3 500.5h.01M1025.8 723.2h.01M952.2 707.3h.01M944.1 740.8h.01M1005.1 772.3h.01M955.9 750.6h.01M961.9 700.1h.01M1021.9 673.6h.01M1002.5 753.5h.01M1037.4 743.4h.01M983.8 753.9h.01M1021.9 680.9h.01M1050.2 671.6h.01M1009.0 690.4h.01M1007.2 630.5h.01M1032.1 680.9h.01M956.2 656.9h.01M1033.6 641.7h.01M1017.3 657.0h.01M1061.4 665.5h.01M1013.1 643.1h.01M1062.0 662.1h.01M1034.2 656.5h.01M1006.1 639.0h.01M973.7 655.5h.01M999.2 715.9h.01M1007.9 673.3h.01M990.0 662.6h.01M1048.6 645.5h.01M1042.4 700.8h.01M1057.0 660.2h.01M971.5 702.1h.01M962.9 682.3h.01M1003.9 728.6h.01M1044.8 702.0h.01M999.3 658.8h.01M1025.0 744.0h.01M919.5 746.9h.01M390.9 830.1h.01M348.4 825.4h.01M317.7 790.4h.01M330.8 738.3h.01M321.6 826.0h.01M356.0 838.2h.01M337.1 844.2h.01M396.3 785.7h.01M383.0 742.1h.01M326.9 765.3h.01M397.6 778.7h.01M364.4 744.7h.01M330.1 821.0h.01M331.2 831.8h.01M311.9 840.6h.01M360.9 750.7h.01M324.6 796.2h.01M381.6 741.2h.01M361.4 808.0h.01M327.3 838.8h.01M345.9 836.9h.01M309.4 817.2h.01M360.0 738.8h.01M369.9 758.0h.01M387.2 763.2h.01M327.1 733.8h.01M363.9 811.4h.01M334.9 843.1h.01M313.1 825.0h.01M319.3 854.2h.01M352.4 722.2h.01M338.8 732.8h.01M365.0 826.1h.01M294.5 847.1h.01M421.4 837.8h.01M436.1 847.4h.01M422.5 865.0h.01M507.8 871.5h.01M498.8 878.3h.01M486.4 870.6h.01M502.6 867.9h.01M677.3 732.4h.01M679.1 716.1h.01M642.3 667.3h.01M670.5 712.0h.01M595.4 685.8h.01M592.7 728.5h.01M577.0 750.1h.01M552.9 765.5h.01M544.9 772.1h.01M726.6 846.3h.01M705.1 844.9h.01M710.5 852.7h.01M534.1 1000.4h.01M536.1 1001.1h.01M534.1 1009.1h.01"/>
<path stroke="#a784e9" d="M668.4 165.8h.01M695.6 116.0h.01M736.3 143.2h.01M719.5 139.6h.01M732.5 168.1h.01M729.2 143.2h.01M683.9 160.7h.01M683.9 156.2h.01M725.6 183.5h.01M738.6 168.0h.01M711.7 150.7h.01M734.6 186.5h.01M694.1 115.9h.01M687.7 167.4h.01M713.5 144.4h.01M692.5 175.4h.01M706.0 178.3h.01M756.3 195.3h.01M733.5 211.7h.01M769.7 237.3h.01M739.2 186.1h.01M805.3 230.8h.01M772.6 250.4h.01M790.1 251.1h.01M816.8 295.4h.01M837.4 292.4h.01M837.6 287.3h.01M384.2 414.9h.01M416.7 391.4h.01M518.5 519.5h.01M515.6 544.0h.01M443.9 538.6h.01M470.9 573.2h.01M475.8 587.7h.01M507.5 554.8h.01M491.5 539.2h.01M517.6 556.3h.01M532.9 513.6h.01M618.1 403.7h.01M593.9 390.6h.01M591.6 426.8h.01M582.3 446.5h.01M724.5 448.4h.01M918.9 364.3h.01M915.4 367.7h.01M936.8 366.7h.01M182.9 544.5h.01M231.2 537.0h.01M239.0 530.6h.01M184.2 517.1h.01M172.0 534.8h.01M207.7 560.0h.01M211.4 560.7h.01M244.1 508.2h.01M976.0 677.9h.01M973.1 658.2h.01M955.6 694.6h.01M999.0 756.3h.01M945.5 761.6h.01M954.0 706.5h.01M1015.4 719.6h.01M1007.0 764.7h.01M972.0 708.1h.01M979.7 734.9h.01M1052.7 661.7h.01M1010.7 627.7h.01M1050.0 712.2h.01M1049.0 704.9h.01M1029.9 733.5h.01M979.8 653.7h.01M1026.4 685.2h.01M980.2 659.9h.01M980.7 694.9h.01M994.6 653.5h.01M1056.9 685.1h.01M962.8 649.5h.01M991.3 649.5h.01M1041.1 646.4h.01M1059.9 681.0h.01M965.3 633.0h.01M1024.7 674.7h.01M1002.0 654.0h.01M976.8 661.4h.01M1048.0 686.3h.01M1038.0 704.1h.01M1048.0 653.1h.01M1063.6 661.1h.01M1043.4 678.4h.01M995.0 655.6h.01M1001.4 653.6h.01M1015.9 718.8h.01M1041.3 713.1h.01M995.0 712.6h.01M972.3 723.1h.01M915.6 779.3h.01M308.7 813.5h.01M380.4 808.8h.01M385.0 793.6h.01M332.1 858.3h.01M388.7 798.6h.01M319.6 801.7h.01M367.6 823.3h.01M298.5 815.6h.01M386.1 805.2h.01M346.1 830.6h.01M352.3 753.4h.01M353.5 776.7h.01M364.1 810.0h.01M340.4 734.1h.01M290.7 831.1h.01M325.6 765.0h.01M382.3 748.1h.01M347.6 765.7h.01M379.1 748.7h.01M393.1 788.1h.01M333.9 788.5h.01M332.5 787.7h.01M337.4 840.5h.01M356.4 814.2h.01M351.7 820.8h.01M330.2 768.9h.01M370.1 736.1h.01M368.4 762.7h.01M385.3 832.8h.01M411.9 829.7h.01M408.2 836.8h.01M475.0 868.7h.01M419.1 815.0h.01M409.9 835.8h.01M473.8 853.6h.01M487.0 871.7h.01M625.1 671.0h.01M596.4 680.2h.01M598.0 669.8h.01M593.4 672.2h.01M719.1 845.0h.01M721.1 842.3h.01M714.2 852.3h.01M716.6 847.3h.01M721.3 826.3h.01M634.8 901.7h.01M518.6 1017.4h.01"/>
<path stroke="#d3d3d3" d="M675.5 126.3h.01M686.2 177.1h.01M701.8 130.5h.01M730.6 180.6h.01M718.6 186.0h.01M704.4 118.0h.01M660.3 124.2h.01M734.8 182.3h.01M669.3 124.1h.01M669.6 158.6h.01M705.5 166.7h.01M687.5 148.4h.01M739.7 177.7h.01M671.6 173.4h.01M661.0 150.0h.01M669.9 163.5h.01M734.5 155.5h.01M670.9 133.5h.01M686.7 184.0h.01M707.9 121.3h.01M679.4 140.3h.01M754.8 233.7h.01M765.7 226.3h.01M743.8 234.6h.01M760.1 225.4h.01M779.8 226.0h.01M743.3 242.4h.01M731.7 192.3h.01M827.8 228.0h.01M810.8 213.1h.01M743.9 239.5h.01M751.8 242.9h.01M800.5 213.5h.01M769.6 266.6h.01M783.7 265.9h.01M783.6 253.8h.01M782.5 248.5h.01M793.0 254.3h.01M771.1 257.7h.01M788.7 255.6h.01M760.8 244.7h.01M763.3 250.1h.01M812.4 280.2h.01M817.0 288.9h.01M818.2 295.0h.01M820.2 273.4h.01M822.4 284.9h.01M824.6 273.7h.01M797.2 286.3h.01M801.1 277.7h.01M824.4 284.8h.01M775.6 293.3h.01M787.0 301.5h.01M784.7 306.5h.01M773.3 294.2h.01M777.5 295.6h.01M675.9 228.7h.01M677.8 212.1h.01M672.3 223.5h.01M696.8 248.1h.01M691.4 247.3h.01M694.9 241.7h.01M701.0 245.2h.01M430.6 398.4h.01M418.9 394.2h.01M393.8 387.0h.01M390.3 393.2h.01M400.0 424.0h.01M413.0 415.4h.01M487.6 455.5h.01M511.2 447.7h.01M510.4 452.3h.01M480.0 454.1h.01M522.8 444.5h.01M524.6 448.1h.01M493.7 452.1h.01M492.1 455.3h.01M462.3 451.8h.01M507.6 400.2h.01M488.7 481.3h.01M525.2 518.1h.01M482.5 498.0h.01M518.6 526.8h.01M482.4 505.7h.01M527.6 519.1h.01M490.1 498.8h.01M486.6 506.5h.01M496.2 522.8h.01M506.5 513.8h.01M438.6 521.9h.01M495.9 566.2h.01M484.8 572.9h.01M504.6 545.4h.01M488.2 554.7h.01M491.8 562.5h.01M459.2 554.7h.01M457.3 561.2h.01M465.6 531.2h.01M443.5 541.0h.01M435.6 545.9h.01M471.9 583.2h.01M442.6 561.2h.01M491.5 545.8h.01M455.1 575.5h.01M446.4 578.0h.01M487.3 577.2h.01M491.5 551.3h.01M502.3 579.1h.01M502.4 553.7h.01M585.1 475.1h.01M559.2 469.8h.01M568.6 465.0h.01M523.6 499.7h.01M524.8 489.5h.01M569.3 466.1h.01M542.4 471.4h.01M540.7 483.6h.01M553.1 471.3h.01M594.8 551.2h.01M577.3 536.2h.01M615.6 412.4h.01M624.4 426.4h.01M622.4 421.6h.01M622.8 415.1h.01M604.7 418.2h.01M592.0 401.5h.01M596.5 397.0h.01M622.0 422.8h.01M614.7 390.0h.01M598.1 417.3h.01M597.3 395.0h.01M634.0 417.3h.01M597.7 384.1h.01M613.9 398.4h.01M603.4 415.7h.01M622.1 418.6h.01M600.5 467.8h.01M608.9 440.5h.01M573.4 457.3h.01M612.9 455.8h.01M575.6 436.0h.01M575.7 470.1h.01M577.0 476.6h.01M607.9 467.5h.01M575.4 468.8h.01M621.5 463.9h.01M708.0 455.4h.01M687.4 437.0h.01M681.1 446.0h.01M674.2 442.6h.01M689.1 452.9h.01M705.1 471.6h.01M705.2 469.7h.01M714.2 458.2h.01M669.1 444.4h.01M698.5 467.0h.01M686.6 422.9h.01M711.9 435.4h.01M669.1 460.0h.01M695.2 466.9h.01M702.9 435.8h.01M721.2 451.0h.01M719.6 442.7h.01M765.3 596.7h.01M769.9 585.4h.01M767.4 599.4h.01M776.1 593.7h.01M780.7 589.3h.01M780.9 584.4h.01M775.7 597.7h.01M775.2 594.2h.01M182.4 549.1h.01M229.6 534.7h.01M196.6 562.0h.01M219.9 554.0h.01M218.0 533.9h.01M253.5 547.6h.01M206.0 550.7h.01M202.7 520.9h.01M157.4 563.0h.01M230.1 555.7h.01M231.3 550.2h.01M209.0 552.2h.01M206.5 570.2h.01M211.5 518.8h.01M180.7 527.9h.01M196.4 541.2h.01M206.9 510.8h.01M156.6 542.8h.01M232.2 548.2h.01M230.3 545.4h.01M191.5 525.6h.01M249.4 525.8h.01M245.0 535.1h.01M220.9 511.3h.01M157.3 559.7h.01M210.5 540.8h.01M162.6 555.4h.01M201.1 503.7h.01M251.3 549.7h.01M208.4 571.7h.01M204.1 513.0h.01M187.7 513.6h.01M173.0 533.3h.01M196.0 568.6h.01M236.1 542.8h.01M165.8 551.9h.01M189.5 552.2h.01M183.6 544.8h.01M153.4 546.0h.01M211.8 520.8h.01M205.8 553.0h.01M177.0 556.2h.01M245.1 508.1h.01M262.0 531.7h.01M1004.5 628.2h.01M999.1 637.5h.01M1011.0 678.5h.01M1020.5 679.1h.01M965.7 773.7h.01M947.8 725.2h.01M1043.4 656.1h.01M1047.1 660.9h.01M1008.1 641.5h.01M993.6 714.1h.01M1061.8 707.2h.01M971.6 758.8h.01M1040.8 671.5h.01M977.2 717.9h.01M971.1 739.4h.01M1005.3 705.1h.01M993.3 630.7h.01M975.1 707.2h.01M1037.5 687.2h.01M1043.7 696.4h.01M1043.7 684.6h.01M1005.6 754.2h.01M1020.3 753.8h.01M1007.4 770.9h.01M953.1 742.0h.01M980.6 718.2h.01M1004.1 744.8h.01M1011.2 685.4h.01M1021.5 727.8h.01M1053.7 717.5h.01M958.9 747.5h.01M972.5 757.9h.01M987.4 758.6h.01M1039.8 742.8h.01M981.8 625.8h.01M1048.4 638.2h.01M985.2 687.7h.01M990.8 740.4h.01M986.5 633.9h.01M1005.3 739.0h.01M995.3 757.3h.01M1010.3 641.5h.01M1049.5 687.0h.01M943.2 756.0h.01M988.2 677.3h.01M978.8 632.9h.01M981.0 742.0h.01M993.1 731.6h.01M951.2 710.8h.01M1025.5 649.5h.01M986.3 715.7h.01M969.1 640.0h.01M1065.2 691.1h.01M1028.2 708.6h.01M1014.1 701.0h.01M1027.2 671.5h.01M965.2 647.5h.01M997.0 668.2h.01M1017.3 699.7h.01M1065.3 684.2h.01M1041.8 651.0h.01M1032.2 706.8h.01M1047.8 686.1h.01M1001.3 737.6h.01M984.4 657.6h.01M1029.4 687.7h.01M1000.3 643.9h.01M1031.4 634.2h.01M1016.6 747.4h.01M983.4 678.4h.01M966.7 651.4h.01M995.7 719.8h.01M1021.6 692.3h.01M1006.6 658.8h.01M995.5 648.9h.01M985.3 759.6h.01M1016.6 712.7h.01M983.7 736.8h.01M1046.9 682.6h.01M1057.0 718.6h.01M961.3 645.2h.01M1015.0 697.2h.01M998.8 672.2h.01M991.6 644.6h.01M1029.8 734.4h.01M1042.9 711.1h.01M1037.7 678.3h.01M994.9 693.5h.01M999.7 645.3h.01M1013.9 735.5h.01M949.0 713.9h.01M1002.5 651.0h.01M1033.2 687.4h.01M1025.8 689.3h.01M1048.4 712.1h.01M990.6 724.4h.01M966.4 689.0h.01M1024.7 677.7h.01M1012.7 746.2h.01M1036.9 658.3h.01M1011.4 644.3h.01M972.5 689.6h.01M991.5 655.1h.01M1028.7 657.3h.01M1007.5 738.1h.01M1025.7 716.1h.01M1016.9 626.6h.01M1012.7 661.6h.01M999.9 733.5h.01M981.3 716.5h.01M1023.6 656.2h.01M964.2 648.6h.01M1064.0 700.6h.01M1025.3 643.4h.01M984.9 777.9h.01M978.2 757.2h.01M994.6 706.4h.01M1002.8 689.3h.01M1012.0 761.8h.01M961.4 776.1h.01M1011.4 676.3h.01M956.3 664.7h.01M947.5 769.4h.01M1009.5 619.2h.01M1031.4 682.2h.01M1028.9 675.8h.01M947.7 766.0h.01M1028.8 670.9h.01M951.3 694.3h.01M1067.1 657.7h.01M996.3 765.2h.01M957.1 684.7h.01M1052.6 711.3h.01M955.0 690.9h.01M1020.2 706.0h.01M943.0 762.6h.01M954.9 758.0h.01M1025.0 664.2h.01M970.1 659.3h.01M1052.8 646.6h.01M965.4 666.9h.01M1028.0 728.9h.01M1038.9 717.3h.01M950.0 765.9h.01M994.0 744.0h.01M989.6 707.1h.01M999.3 759.7h.01M976.7 726.1h.01M970.6 627.8h.01M961.0 768.1h.01M986.9 719.8h.01M976.9 651.5h.01M1036.8 694.3h.01M1023.1 705.9h.01M956.9 688.6h.01M959.2 729.9h.01M977.1 682.3h.01M1038.3 638.4h.01M1037.0 700.3h.01M1030.4 678.4h.01M996.4 650.0h.01M957.4 713.4h.01M978.2 644.8h.01M1027.4 758.1h.01M977.6 739.8h.01M995.3 749.0h.01M1003.3 710.2h.01M991.6 763.2h.01M1004.2 644.6h.01M1015.6 713.9h.01M1060.3 702.9h.01M950.0 746.8h.01M1055.4 664.9h.01M1015.1 676.3h.01M1031.9 734.3h.01M1042.7 732.4h.01M967.1 765.8h.01M1058.4 711.7h.01M1039.1 743.2h.01M1004.6 761.2h.01M986.8 729.3h.01M988.1 758.7h.01M1020.6 693.8h.01M1030.1 733.9h.01M1019.5 673.0h.01M1021.5 669.1h.01M957.3 720.2h.01M1052.8 671.2h.01M1019.4 620.4h.01M972.5 759.0h.01M1046.1 683.1h.01M1037.1 712.6h.01M984.7 651.9h.01M1023.2 719.5h.01M1011.5 710.7h.01M1015.6 697.2h.01M1037.4 694.0h.01M979.2 645.7h.01M1010.1 727.9h.01M994.2 724.3h.01M969.1 653.9h.01M1020.8 661.6h.01M997.6 620.7h.01M1049.9 673.5h.01M1043.1 684.7h.01M1056.9 717.3h.01M963.2 712.7h.01M975.6 725.8h.01M992.2 734.8h.01M958.2 648.8h.01M998.8 637.5h.01M1001.2 747.3h.01M1032.1 690.4h.01M1037.1 640.1h.01M1025.8 739.8h.01M985.8 762.3h.01M1053.0 709.6h.01M962.7 677.6h.01M963.7 776.0h.01M1039.3 670.8h.01M1040.4 695.6h.01M1041.9 663.5h.01M1059.5 673.7h.01M1028.5 664.4h.01M1021.3 744.6h.01M986.0 648.2h.01M1062.3 696.9h.01M943.1 766.0h.01M995.5 775.5h.01M975.7 727.6h.01M986.0 709.5h.01M1037.1 699.5h.01M1011.3 744.0h.01M1016.8 752.9h.01M1015.3 759.5h.01M1054.6 708.1h.01M939.8 758.8h.01M951.9 664.2h.01M948.1 692.7h.01M919.2 735.0h.01M918.0 755.1h.01M945.0 714.0h.01M903.5 713.9h.01M902.0 701.4h.01M941.0 717.9h.01M928.2 760.2h.01M943.0 731.3h.01M921.7 715.4h.01M941.0 742.3h.01M936.8 758.4h.01M928.2 717.8h.01M941.0 685.0h.01M919.6 753.6h.01M928.0 752.1h.01M928.4 710.6h.01M916.2 705.5h.01M928.6 674.5h.01M939.4 748.4h.01M933.6 767.2h.01M951.0 673.8h.01M933.6 732.5h.01M924.5 773.8h.01M943.8 726.6h.01M941.0 750.9h.01M935.4 723.5h.01M914.0 735.1h.01M921.1 779.9h.01M324.5 762.5h.01M350.4 813.2h.01M362.0 726.7h.01M329.0 857.4h.01M380.0 736.1h.01M336.0 836.7h.01M353.0 832.5h.01M393.5 771.2h.01M312.7 827.0h.01M376.3 743.2h.01M323.6 845.7h.01M377.1 789.4h.01M371.6 732.8h.01M369.3 776.1h.01M340.4 832.9h.01M334.5 830.8h.01M367.6 749.0h.01M323.6 772.9h.01M365.0 809.5h.01M371.9 735.5h.01M387.1 805.2h.01M341.1 853.1h.01M363.7 750.8h.01M356.5 808.5h.01M323.0 810.8h.01M374.0 759.4h.01M392.6 816.8h.01M351.4 814.4h.01M379.5 729.4h.01M341.4 752.7h.01M335.1 751.5h.01M301.3 828.9h.01M312.6 821.1h.01M403.3 778.6h.01M325.5 769.2h.01M376.9 727.3h.01M368.7 721.1h.01M387.7 735.5h.01M395.2 839.6h.01M401.5 830.3h.01M392.5 847.4h.01M372.6 839.6h.01M372.8 845.2h.01M480.3 861.3h.01M490.5 876.8h.01M477.7 867.6h.01M426.8 828.6h.01M440.8 837.7h.01M433.0 843.2h.01M423.9 856.9h.01M412.9 825.8h.01M437.4 839.9h.01M610.2 704.2h.01M646.6 703.1h.01M676.5 730.5h.01M645.5 661.5h.01M670.8 718.6h.01M643.7 678.6h.01M615.0 654.8h.01M604.9 674.5h.01M606.4 679.2h.01M615.1 681.3h.01M618.8 670.9h.01M614.5 681.7h.01M642.7 668.5h.01M646.7 673.1h.01M645.1 690.8h.01M624.8 659.0h.01M639.1 710.0h.01M656.8 715.7h.01M617.2 663.2h.01M628.6 696.5h.01M611.0 679.0h.01M645.1 696.2h.01M621.5 665.2h.01M624.0 694.5h.01M665.1 713.0h.01M661.5 694.9h.01M639.8 697.5h.01M668.7 713.2h.01M679.4 726.4h.01M638.3 663.1h.01M615.3 694.6h.01M577.8 749.7h.01M571.8 777.6h.01M575.9 773.0h.01M550.9 764.2h.01M556.4 765.9h.01M577.3 772.8h.01M555.4 770.6h.01M718.7 855.7h.01M726.4 847.1h.01M734.7 852.6h.01M617.0 866.4h.01M635.4 898.6h.01M642.0 906.9h.01M722.1 938.0h.01M520.3 985.8h.01M528.4 989.6h.01M533.2 1012.7h.01"/>
<path stroke="#5731fa" d="M727.4 194.7h.01M728.6 228.7h.01M729.3 233.1h.01M725.9 219.0h.01M926.5 377.7h.01M937.8 361.6h.01M949.7 369.0h.01M964.8 375.4h.01M963.2 372.5h.01M968.3 371.4h.01M941.7 364.4h.01M939.2 359.5h.01M805.7 776.6h.01M799.8 778.1h.01M808.5 786.6h.01"/>
<path stroke="#6a40f7" d="M720.8 205.6h.01M726.5 198.6h.01M723.0 226.1h.01M725.2 234.9h.01M729.3 234.4h.01M731.3 234.0h.01M722.3 218.7h.01M863.0 364.3h.01M896.0 371.2h.01M933.0 351.2h.01M954.5 375.8h.01M941.4 371.7h.01M944.1 367.3h.01M941.3 366.4h.01M961.5 373.1h.01M956.0 374.9h.01M1031.1 689.7h.01M963.5 698.6h.01M960.6 720.4h.01"/>
<path stroke="#b89ee2" d="M675.8 142.6h.01M696.4 175.6h.01M675.0 123.9h.01M724.2 167.9h.01M692.7 163.6h.01M741.3 170.5h.01M674.7 130.2h.01M714.2 177.8h.01M718.7 125.9h.01M680.1 180.1h.01M733.4 146.3h.01M707.0 167.3h.01M676.7 161.5h.01M667.4 168.7h.01M715.4 193.9h.01M702.3 186.9h.01M698.7 176.3h.01M745.7 203.9h.01M792.0 209.1h.01M792.5 223.4h.01M744.5 206.2h.01M814.1 272.7h.01M825.1 276.9h.01M803.7 287.3h.01M794.7 314.2h.01M638.6 243.8h.01M672.7 246.1h.01M403.9 425.4h.01M405.5 409.2h.01M388.7 423.3h.01M413.8 393.6h.01M390.9 405.5h.01M399.7 391.2h.01M421.8 391.4h.01M420.0 416.9h.01M414.8 417.6h.01M513.6 443.1h.01M506.0 550.8h.01M451.9 527.9h.01M534.0 475.0h.01M528.2 518.6h.01M599.5 398.3h.01M642.8 433.7h.01M623.5 431.8h.01M624.5 463.0h.01M716.4 440.8h.01M660.0 453.1h.01M205.0 569.8h.01M189.8 544.7h.01M220.6 567.7h.01M183.7 533.6h.01M222.1 518.6h.01M200.9 553.6h.01M1037.1 636.3h.01M1024.5 721.0h.01M993.3 765.8h.01M959.0 749.1h.01M1024.8 696.1h.01M1011.3 705.7h.01M1021.5 757.0h.01M958.7 673.8h.01M1019.8 753.9h.01M1051.9 703.1h.01M1044.3 656.2h.01M1053.0 680.1h.01M977.8 636.3h.01M957.3 675.8h.01M1045.7 686.6h.01M1045.8 662.6h.01M994.4 636.4h.01M1003.3 698.7h.01M1004.8 637.5h.01M990.4 684.1h.01M1041.8 663.5h.01M942.2 698.8h.01M934.2 709.0h.01M941.8 710.6h.01M910.0 727.3h.01M335.3 810.5h.01M365.4 801.7h.01M347.8 791.4h.01M323.3 821.4h.01M383.3 736.4h.01M381.6 761.9h.01M362.9 804.9h.01M336.5 862.3h.01M341.4 832.2h.01M346.5 774.5h.01M372.7 755.7h.01M350.7 763.5h.01M346.7 823.6h.01M356.5 837.7h.01M388.9 777.1h.01M381.5 808.7h.01M352.7 839.7h.01M328.9 754.5h.01M364.3 803.4h.01M372.3 794.2h.01M307.3 803.8h.01M354.8 808.0h.01M358.1 833.7h.01M378.4 809.1h.01M378.0 847.3h.01M372.9 850.0h.01M496.3 876.3h.01M485.4 864.5h.01M655.6 696.0h.01M555.5 783.0h.01M708.4 843.2h.01M712.5 843.4h.01M710.3 860.9h.01M727.1 858.9h.01M519.5 983.3h.01"/>
<path stroke="#bfabdf" d="M704.0 158.3h.01M672.1 178.3h.01M679.0 129.2h.01M728.7 177.1h.01M717.9 173.1h.01M727.4 159.1h.01M661.8 148.5h.01M691.2 189.7h.01M659.2 139.4h.01M722.1 172.6h.01M693.0 161.8h.01M715.3 175.1h.01M731.7 131.8h.01M674.8 155.5h.01M747.6 205.7h.01M802.4 237.5h.01M812.8 274.3h.01M402.6 418.8h.01M397.6 385.7h.01M468.9 450.2h.01M494.0 511.4h.01M474.8 580.2h.01M558.2 466.5h.01M693.9 439.6h.01M674.8 464.5h.01M695.8 460.4h.01M202.2 569.3h.01M176.3 530.6h.01M231.1 517.2h.01M220.6 562.3h.01M182.5 551.8h.01M216.2 560.5h.01M969.4 744.5h.01M1048.6 655.3h.01M1043.1 702.6h.01M957.6 649.3h.01M1008.0 637.0h.01M981.2 666.2h.01M999.6 668.3h.01M979.0 683.0h.01M993.5 698.6h.01M1006.2 676.9h.01M1013.8 719.8h.01M350.9 768.3h.01M320.7 786.0h.01M409.9 819.9h.01M344.9 859.9h.01M372.3 813.1h.01M299.4 850.1h.01M329.8 760.5h.01M402.5 853.5h.01M597.1 686.7h.01M706.7 860.0h.01M632.8 922.1h.01"/>
<path stroke="#3e1ffc" d="M724.7 234.7h.01M723.7 223.0h.01M949.3 366.6h.01M955.0 369.6h.01"/>
<path stroke="#c6b9db" d="M683.5 137.0h.01M741.5 208.9h.01M781.1 217.7h.01M799.2 220.4h.01M802.9 282.0h.01M405.8 414.0h.01M524.5 521.6h.01M534.7 478.7h.01M207.0 567.2h.01M1002.7 773.4h.01M1055.4 699.1h.01M987.4 646.3h.01M986.6 695.1h.01M910.3 719.5h.01M929.0 756.6h.01M385.5 819.1h.01M392.6 804.3h.01M382.0 762.1h.01M386.2 791.1h.01M330.0 825.1h.01M379.0 726.4h.01M349.8 752.8h.01M373.2 757.0h.01M465.8 847.4h.01M673.2 705.8h.01M632.3 917.6h.01"/>
<path stroke="#926aef" d="M740.5 151.9h.01M704.5 145.1h.01M700.8 133.6h.01M684.2 155.2h.01M732.8 165.8h.01M722.0 207.8h.01M723.5 198.9h.01M815.3 274.0h.01M836.9 292.5h.01M777.6 290.1h.01M789.8 300.9h.01M493.7 547.7h.01M596.4 404.3h.01M689.0 421.0h.01M687.4 419.0h.01M904.0 370.6h.01M891.4 372.1h.01M917.0 377.3h.01M916.8 376.3h.01M935.1 356.2h.01M958.4 374.2h.01M1056.5 705.4h.01M945.8 747.0h.01M942.8 768.0h.01M1033.3 627.4h.01M1017.4 704.5h.01M1031.0 708.5h.01M976.3 730.9h.01M1038.9 692.1h.01M1042.5 635.1h.01M1031.5 677.8h.01M1014.8 659.7h.01M1024.0 680.5h.01M983.0 690.3h.01M1023.1 692.3h.01M975.6 633.8h.01M1028.0 643.2h.01M1025.1 667.7h.01M1021.9 728.4h.01M1016.2 719.6h.01M981.3 711.8h.01M983.6 658.7h.01M395.9 806.5h.01M321.5 779.3h.01M321.3 764.7h.01M370.1 783.1h.01M324.2 840.1h.01M364.8 766.6h.01M433.4 850.7h.01M496.5 879.1h.01M625.0 683.7h.01M648.8 696.0h.01M594.0 673.6h.01M801.6 783.7h.01M522.0 1012.6h.01"/>
<path stroke="#af91e5" d="M718.7 185.1h.01M709.2 171.6h.01M705.8 126.5h.01M679.1 121.4h.01M732.7 193.1h.01M734.5 187.3h.01M710.3 138.2h.01M664.8 153.1h.01M727.7 171.8h.01M691.1 172.5h.01M696.7 154.4h.01M676.0 156.5h.01M725.5 202.7h.01M736.2 215.2h.01M759.2 197.0h.01M792.8 239.5h.01M732.9 210.6h.01M811.9 217.5h.01M753.7 217.0h.01M775.3 206.6h.01M830.6 284.7h.01M750.8 265.5h.01M743.2 274.2h.01M670.6 223.5h.01M676.8 243.6h.01M717.1 238.4h.01M391.4 387.3h.01M401.7 391.1h.01M383.4 420.8h.01M399.5 418.8h.01M390.5 400.4h.01M401.3 390.1h.01M492.8 488.4h.01M485.6 494.3h.01M441.0 527.2h.01M500.3 580.1h.01M519.5 561.5h.01M500.8 536.3h.01M520.6 555.0h.01M568.6 467.8h.01M632.1 432.4h.01M565.0 472.2h.01M623.7 452.5h.01M692.5 445.5h.01M704.8 431.7h.01M725.5 454.3h.01M651.5 457.4h.01M724.3 462.3h.01M703.8 451.7h.01M224.8 523.8h.01M220.6 551.1h.01M151.0 545.5h.01M226.4 532.3h.01M205.6 570.0h.01M235.4 549.9h.01M168.0 523.5h.01M186.5 569.6h.01M163.6 561.8h.01M247.7 533.1h.01M212.4 555.3h.01M203.5 563.1h.01M180.0 535.6h.01M242.8 508.8h.01M1062.8 659.6h.01M976.3 762.5h.01M987.7 766.6h.01M1041.2 631.2h.01M1011.2 747.3h.01M985.5 675.5h.01M1008.5 764.3h.01M1017.4 737.4h.01M1001.5 673.9h.01M1044.2 703.8h.01M1031.5 733.9h.01M954.0 676.6h.01M1032.2 740.6h.01M1060.3 693.2h.01M1022.6 737.4h.01M1053.1 719.5h.01M972.2 653.5h.01M966.3 657.5h.01M991.5 681.3h.01M979.7 652.1h.01M1049.1 691.1h.01M971.9 659.6h.01M1015.1 626.7h.01M1070.7 700.4h.01M973.6 669.6h.01M977.5 642.6h.01M1025.3 660.9h.01M1014.4 633.0h.01M1045.6 657.7h.01M1014.8 719.2h.01M957.6 696.1h.01M970.7 651.9h.01M1002.1 645.1h.01M989.3 739.3h.01M946.4 662.4h.01M935.2 718.3h.01M389.2 823.7h.01M312.1 846.7h.01M300.6 831.7h.01M368.1 805.6h.01M320.6 787.3h.01M348.9 795.3h.01M345.9 855.8h.01M325.3 820.5h.01M309.7 800.7h.01M327.8 827.4h.01M394.9 789.6h.01M379.2 816.9h.01M319.0 837.4h.01M356.2 753.8h.01M390.5 778.5h.01M316.6 783.2h.01M395.5 776.9h.01M315.3 844.2h.01M383.8 788.9h.01M337.3 744.3h.01M291.8 834.6h.01M358.1 820.8h.01M335.3 844.4h.01M366.2 773.1h.01M315.6 797.4h.01M366.1 816.4h.01M406.2 820.9h.01M374.5 807.1h.01M387.8 838.8h.01M388.9 854.6h.01M427.4 837.0h.01M434.9 866.9h.01M416.0 832.7h.01M415.8 835.6h.01M454.0 844.9h.01M411.4 819.9h.01M500.3 875.9h.01M503.8 872.3h.01M628.3 676.4h.01M607.9 684.3h.01M677.1 713.6h.01M616.7 644.9h.01M599.5 692.4h.01M573.2 776.2h.01M728.9 718.4h.01M698.3 857.1h.01M735.1 851.8h.01M802.1 784.9h.01M633.8 907.9h.01M696.8 932.4h.01M523.0 1005.5h.01M526.7 1016.0h.01"/>
<path stroke="#0000ff" d="M725.8 235.3h.01M952.5 379.8h.01"/>
<path stroke="#875cf2" d="M684.1 127.9h.01M724.5 154.2h.01M734.9 150.5h.01M682.0 162.6h.01M714.5 204.3h.01M717.0 183.8h.01M726.2 189.9h.01M806.8 287.7h.01M712.3 471.4h.01M863.5 365.5h.01M877.8 374.2h.01M905.0 372.0h.01M894.2 373.6h.01M915.3 364.8h.01M919.5 366.5h.01M915.2 365.5h.01M920.2 377.5h.01M932.4 374.9h.01M912.3 371.9h.01M930.5 377.5h.01M926.7 350.5h.01M947.3 371.0h.01M934.7 365.2h.01M948.0 372.6h.01M1012.3 753.4h.01M1002.4 734.9h.01M969.3 750.5h.01M972.9 652.4h.01M1055.9 688.5h.01M1020.1 712.8h.01M977.6 684.2h.01M1030.7 669.6h.01M1026.8 750.5h.01M926.1 706.1h.01M361.0 728.9h.01M592.1 676.6h.01M800.3 782.1h.01M806.5 783.6h.01M656.7 981.5h.01M655.7 981.3h.01M528.6 1011.5h.01M528.2 1017.0h.01M516.7 1016.4h.01"/>
<path stroke="#a784e9" d="M705.4 127.7h.01M686.0 136.9h.01M678.3 152.8h.01M714.6 166.6h.01M715.5 165.8h.01M739.7 144.3h.01M719.2 129.0h.01M675.0 144.1h.01M674.7 157.2h.01M698.2 172.1h.01M693.0 136.1h.01M730.9 161.3h.01M670.0 163.3h.01M694.1 151.2h.01M686.4 163.2h.01M697.0 181.0h.01M677.9 154.1h.01M716.8 203.1h.01M798.8 240.1h.01M753.4 229.3h.01M782.4 264.8h.01M797.3 278.5h.01M808.9 290.4h.01M804.7 280.4h.01M800.8 311.1h.01M677.6 197.1h.01M666.0 244.7h.01M394.2 385.7h.01M395.5 391.0h.01M502.7 567.6h.01M447.2 583.5h.01M440.7 556.6h.01M423.4 546.5h.01M492.5 534.2h.01M474.0 543.4h.01M588.5 395.2h.01M594.8 383.3h.01M614.3 400.5h.01M610.6 456.2h.01M604.7 466.4h.01M602.1 454.7h.01M579.7 472.5h.01M611.9 464.1h.01M710.9 439.9h.01M706.3 458.4h.01M157.9 546.8h.01M220.4 518.8h.01M179.7 525.3h.01M174.3 527.2h.01M253.3 533.5h.01M219.8 557.7h.01M958.7 702.6h.01M1004.7 757.2h.01M978.2 680.0h.01M965.7 676.0h.01M1008.5 685.6h.01M1048.4 687.4h.01M1052.2 701.1h.01M974.6 675.1h.01M1036.6 672.2h.01M1011.9 669.4h.01M968.9 704.1h.01M991.5 735.0h.01M952.6 675.8h.01M987.6 666.9h.01M965.5 691.5h.01M972.7 710.3h.01M1002.1 661.6h.01M1002.1 740.8h.01M989.4 664.2h.01M1033.9 693.4h.01M1054.5 692.9h.01M965.0 636.8h.01M985.9 688.8h.01M1012.3 677.9h.01M961.8 647.0h.01M1022.5 679.4h.01M1028.1 647.6h.01M1036.0 675.9h.01M1050.8 681.2h.01M957.6 681.1h.01M1028.5 681.0h.01M1044.3 719.9h.01M1030.5 682.7h.01M984.4 733.3h.01M1026.4 698.5h.01M1038.2 642.4h.01M1021.6 670.3h.01M1033.2 748.9h.01M1009.1 701.9h.01M320.6 764.8h.01M320.4 769.8h.01M313.6 802.1h.01M316.5 815.4h.01M318.0 781.1h.01M384.9 817.8h.01M319.3 835.4h.01M323.1 770.5h.01M347.0 761.2h.01M364.4 727.9h.01M313.6 795.3h.01M353.4 745.3h.01M343.8 806.0h.01M352.5 821.7h.01M291.5 823.0h.01M387.9 749.6h.01M328.1 795.4h.01M358.0 827.3h.01M374.2 823.8h.01M347.1 774.6h.01M354.4 783.6h.01M356.1 804.6h.01M343.4 773.9h.01M335.3 790.4h.01M376.5 766.4h.01M343.1 849.5h.01M397.2 853.0h.01M478.7 870.7h.01M423.8 833.5h.01M428.1 858.8h.01M454.0 857.4h.01M414.5 839.9h.01M418.9 834.9h.01M493.9 865.3h.01M488.0 875.6h.01M504.9 880.4h.01M665.9 703.1h.01M621.8 645.6h.01M596.8 687.1h.01M592.1 683.9h.01M648.1 663.8h.01M553.2 768.6h.01M570.7 778.6h.01M574.3 775.8h.01M576.4 775.9h.01M576.5 769.3h.01M551.1 761.5h.01M705.0 838.8h.01M721.4 852.5h.01M714.9 845.9h.01M716.1 854.4h.01M724.7 856.6h.01M741.4 841.0h.01M718.7 829.9h.01M804.2 784.1h.01M633.3 896.4h.01M709.4 933.6h.01M533.9 1009.1h.01"/>
<path stroke="#3e1ffc" d="M728.4 235.5h.01M946.4 377.6h.01"/>
<path stroke="#794ff4" d="M724.8 126.4h.01M691.5 127.2h.01M727.1 205.5h.01M865.0 368.6h.01M908.2 371.8h.01M882.9 372.1h.01M890.5 374.2h.01M896.8 371.2h.01M921.1 376.3h.01M928.5 351.1h.01M929.8 352.0h.01M958.0 374.2h.01M951.3 380.6h.01M946.9 365.9h.01M942.7 362.7h.01M934.2 366.1h.01M1008.1 772.5h.01M1031.3 715.8h.01M1029.4 704.8h.01M1024.5 632.9h.01M982.1 709.8h.01M971.3 706.7h.01M391.2 765.6h.01"/>
<path stroke="#9d77ec" d="M699.0 163.8h.01M704.3 166.3h.01M722.3 133.0h.01M740.1 178.8h.01M715.2 196.9h.01M671.8 180.9h.01M710.8 133.2h.01M704.4 178.4h.01M681.7 140.2h.01M686.8 160.2h.01M680.4 169.9h.01M750.8 228.7h.01M785.3 214.0h.01M759.7 212.1h.01M829.3 290.1h.01M676.7 222.7h.01M474.8 564.2h.01M469.0 563.6h.01M451.4 527.9h.01M596.5 468.5h.01M584.5 474.6h.01M710.9 473.2h.01M873.5 370.7h.01M888.8 372.0h.01M888.8 374.8h.01M165.2 544.6h.01M223.4 547.5h.01M965.5 695.5h.01M1056.1 639.5h.01M949.0 755.0h.01M956.6 774.8h.01M1034.3 744.4h.01M951.7 768.1h.01M1027.7 674.0h.01M982.5 640.5h.01M956.7 713.7h.01M981.6 693.5h.01M985.2 730.6h.01M1060.1 707.8h.01M983.8 771.8h.01M1025.0 630.9h.01M1055.5 646.2h.01M1036.2 632.2h.01M1012.2 650.9h.01M1062.4 648.6h.01M1029.3 691.5h.01M1031.7 688.7h.01M1053.4 676.9h.01M975.0 729.6h.01M1014.5 652.8h.01M1012.6 627.5h.01M1002.1 681.8h.01M1037.0 731.6h.01M1027.7 687.3h.01M1048.3 720.3h.01M374.2 762.3h.01M355.5 786.5h.01M311.8 794.7h.01M385.7 784.6h.01M338.7 774.8h.01M329.9 858.5h.01M395.3 808.3h.01M366.4 826.5h.01M383.9 738.4h.01M325.3 791.9h.01M363.1 780.8h.01M330.3 771.0h.01M335.5 813.4h.01M299.3 815.4h.01M391.6 771.9h.01M299.3 848.1h.01M364.8 821.2h.01M429.0 858.3h.01M432.9 842.1h.01M472.3 857.6h.01M416.4 820.7h.01M418.1 846.3h.01M510.6 875.4h.01M469.2 847.5h.01M407.7 826.1h.01M498.9 866.9h.01M496.5 869.4h.01M504.2 880.8h.01M619.4 657.8h.01M635.1 684.6h.01M673.4 726.0h.01M604.3 700.2h.01M645.3 669.8h.01M574.9 775.9h.01M709.0 840.6h.01M722.6 821.8h.01M658.4 981.8h.01"/>
<path stroke="#6a40f7" d="M719.8 183.8h.01M722.9 182.7h.01M728.2 213.7h.01M833.3 294.5h.01M964.8 368.3h.01M943.6 362.5h.01M951.3 374.5h.01M955.6 374.9h.01M950.4 371.8h.01M946.4 377.0h.01M954.4 372.5h.01M983.5 686.0h.01M802.6 791.4h.01M724.4 937.0h.01"/>
<path stroke="#bfabdf" d="M739.4 159.0h.01M701.1 130.1h.01M678.9 157.5h.01M694.9 174.5h.01M695.6 165.7h.01M726.4 195.9h.01M733.9 193.2h.01M772.1 249.8h.01M778.0 268.0h.01M769.3 246.5h.01M820.7 277.9h.01M645.8 244.0h.01M664.7 250.1h.01M388.6 414.5h.01M415.3 402.9h.01M480.1 449.1h.01M481.9 568.7h.01M508.1 542.0h.01M550.7 482.9h.01M588.9 405.6h.01M608.5 405.3h.01M599.6 447.2h.01M693.6 423.0h.01M205.2 555.3h.01M185.4 547.1h.01M202.6 574.0h.01M196.4 559.8h.01M1011.6 701.2h.01M1062.1 669.9h.01M1049.6 679.4h.01M957.4 709.2h.01M1047.6 667.4h.01M983.8 771.9h.01M1045.4 684.2h.01M1025.0 645.3h.01M978.8 672.7h.01M988.9 704.9h.01M334.5 817.7h.01M331.1 756.5h.01M338.1 729.0h.01M359.7 750.7h.01M373.9 739.7h.01M294.4 848.7h.01M313.5 855.2h.01M318.4 762.8h.01M318.3 808.5h.01M354.1 780.3h.01M394.2 803.6h.01M338.2 720.8h.01M370.1 795.5h.01M346.5 843.3h.01M373.1 754.6h.01M483.7 869.0h.01M605.0 656.3h.01M699.9 936.2h.01"/>
<path stroke="#d3d3d3" d="M711.5 190.2h.01M708.9 164.9h.01M730.4 194.9h.01M670.1 123.9h.01M701.3 155.2h.01M704.5 181.7h.01M708.2 195.4h.01M732.0 177.9h.01M734.0 172.3h.01M681.1 174.4h.01M702.5 165.6h.01M733.1 147.5h.01M729.5 155.0h.01M700.7 175.6h.01M689.4 169.9h.01M703.7 126.2h.01M681.7 135.7h.01M686.1 128.0h.01M707.4 140.0h.01M702.8 172.0h.01M675.2 181.4h.01M700.8 168.4h.01M701.0 131.5h.01M696.1 150.3h.01M728.1 198.1h.01M693.2 134.8h.01M711.7 122.7h.01M681.0 160.6h.01M667.2 158.6h.01M681.0 165.9h.01M713.0 179.3h.01M783.2 216.5h.01M783.7 216.7h.01M734.5 214.5h.01M736.2 188.2h.01M757.8 226.0h.01M750.9 228.7h.01M798.3 240.3h.01M770.0 216.2h.01M795.9 230.5h.01M766.8 222.0h.01M743.7 228.9h.01M820.4 233.4h.01M808.2 231.6h.01M805.3 217.7h.01M779.8 223.5h.01M768.7 246.8h.01M768.7 246.9h.01M796.4 263.6h.01M783.6 271.1h.01M824.4 289.9h.01M833.9 281.1h.01M812.0 286.6h.01M825.7 276.7h.01M797.1 312.4h.01M794.6 315.7h.01M672.2 233.4h.01M691.5 243.3h.01M697.2 244.7h.01M686.5 248.0h.01M399.3 393.9h.01M399.5 395.8h.01M411.0 391.4h.01M421.9 438.5h.01M417.6 395.6h.01M419.9 406.0h.01M398.2 398.6h.01M410.9 441.4h.01M387.8 411.6h.01M423.9 443.8h.01M431.9 403.5h.01M404.8 404.2h.01M446.7 411.2h.01M421.3 418.5h.01M463.1 421.5h.01M462.8 451.2h.01M512.4 453.9h.01M524.6 444.0h.01M464.2 452.8h.01M467.2 448.1h.01M510.3 428.7h.01M486.6 505.5h.01M517.9 526.9h.01M490.5 505.5h.01M518.6 511.5h.01M483.7 501.3h.01M532.2 520.6h.01M495.7 521.8h.01M514.3 522.6h.01M503.2 521.9h.01M511.3 528.7h.01M484.3 496.7h.01M491.4 522.2h.01M441.8 577.0h.01M440.9 545.7h.01M473.4 548.0h.01M497.6 556.8h.01M473.7 570.2h.01M466.3 559.6h.01M522.6 549.7h.01M445.7 570.2h.01M488.6 573.7h.01M443.4 533.7h.01M474.8 592.2h.01M446.8 527.6h.01M501.5 553.8h.01M429.1 570.2h.01M427.4 536.5h.01M475.6 569.6h.01M487.3 550.5h.01M468.8 580.2h.01M443.0 545.1h.01M462.3 577.4h.01M517.6 540.1h.01M477.3 543.8h.01M452.4 566.7h.01M489.9 549.9h.01M581.9 471.4h.01M548.3 478.8h.01M582.7 459.4h.01M539.4 489.2h.01M559.9 476.9h.01M574.2 470.8h.01M558.2 469.5h.01M580.5 535.4h.01M636.5 418.4h.01M635.4 429.3h.01M633.0 410.7h.01M594.1 420.2h.01M630.3 429.6h.01M620.2 410.0h.01M585.6 398.4h.01M598.7 399.8h.01M602.5 381.4h.01M634.3 433.9h.01M595.4 394.3h.01M566.6 468.5h.01M606.7 440.2h.01M613.0 431.8h.01M602.9 449.3h.01M634.4 459.6h.01M630.2 446.9h.01M619.2 467.2h.01M564.3 472.1h.01M629.2 463.5h.01M635.6 468.5h.01M581.8 472.8h.01M608.0 465.1h.01M640.9 466.8h.01M603.6 466.3h.01M612.1 462.3h.01M715.9 466.3h.01M691.3 460.2h.01M663.2 446.9h.01M711.4 469.2h.01M685.1 452.0h.01M692.6 458.8h.01M690.1 458.9h.01M701.5 448.2h.01M698.8 424.8h.01M693.1 422.4h.01M664.9 455.0h.01M707.6 462.7h.01M711.7 467.4h.01M676.6 457.8h.01M696.2 465.2h.01M683.6 423.0h.01M703.5 456.7h.01M694.8 461.8h.01M699.4 463.7h.01M718.0 446.0h.01M682.1 433.1h.01M707.5 460.1h.01M716.3 458.8h.01M678.3 456.3h.01M675.7 458.4h.01M712.4 470.0h.01M685.0 466.5h.01M719.9 458.5h.01M767.2 601.3h.01M781.2 592.4h.01M772.8 597.9h.01M776.5 594.2h.01M195.7 515.7h.01M173.6 550.1h.01M176.3 565.1h.01M179.0 520.6h.01M166.8 557.6h.01M188.7 563.9h.01M254.4 525.8h.01M159.0 534.3h.01M213.6 507.6h.01M226.7 527.0h.01M155.1 544.6h.01M207.0 546.2h.01M166.6 566.7h.01M167.0 528.1h.01M222.4 521.7h.01M219.9 561.1h.01M159.8 553.0h.01M174.5 528.6h.01M177.7 553.0h.01M215.6 571.3h.01M219.2 531.2h.01M212.0 568.1h.01M207.1 529.9h.01M183.9 554.5h.01M166.0 533.2h.01M177.9 540.8h.01M221.5 544.4h.01M237.8 531.0h.01M174.9 551.6h.01M215.3 548.6h.01M171.6 555.1h.01M209.6 558.8h.01M192.6 548.4h.01M179.1 561.8h.01M254.8 501.3h.01M270.4 532.8h.01M264.3 531.0h.01M1047.0 682.5h.01M988.9 626.3h.01M957.3 740.8h.01M1034.8 650.4h.01M1014.2 628.1h.01M1038.3 659.6h.01M1046.3 730.5h.01M970.9 742.1h.01M1010.1 695.4h.01M975.0 630.7h.01M1053.9 661.3h.01M1009.6 675.9h.01M1045.5 722.1h.01M946.2 758.3h.01M1041.9 735.5h.01M982.7 656.9h.01M1026.1 701.7h.01M1000.6 679.7h.01M985.1 721.7h.01M998.7 713.3h.01M987.3 651.3h.01M945.1 750.1h.01M1015.3 652.7h.01M1009.0 744.5h.01M1019.5 719.0h.01M984.9 747.9h.01M1006.8 648.7h.01M996.5 693.5h.01M1023.8 661.2h.01M1059.1 699.5h.01M1025.3 729.0h.01M973.3 701.0h.01M964.0 686.3h.01M963.4 720.7h.01M999.7 640.7h.01M1060.7 653.1h.01M1008.6 651.2h.01M939.8 759.4h.01M1031.1 638.0h.01M1052.5 649.3h.01M1037.6 746.8h.01M1004.2 718.2h.01M991.3 650.5h.01M985.5 777.4h.01M964.2 770.9h.01M997.7 670.8h.01M1023.5 767.9h.01M1006.8 775.1h.01M973.8 696.3h.01M1029.6 717.1h.01M1017.8 734.1h.01M987.1 711.4h.01M984.0 624.2h.01M984.0 713.2h.01M1043.2 723.0h.01M974.9 684.3h.01M992.9 638.1h.01M975.9 740.9h.01M979.0 692.0h.01M974.7 631.2h.01M1039.0 747.4h.01M972.1 631.8h.01M1060.4 679.7h.01M1029.5 656.8h.01M962.0 763.0h.01M963.6 662.0h.01M948.3 715.8h.01M1043.1 666.4h.01M988.5 642.6h.01M1000.3 771.5h.01M993.0 668.2h.01M948.1 697.5h.01M1044.4 654.5h.01M1058.4 682.9h.01M987.2 741.6h.01M1006.4 739.9h.01M959.5 761.8h.01M965.0 780.0h.01M1021.0 664.4h.01M1038.3 685.3h.01M1063.9 676.4h.01M1017.6 657.4h.01M1017.8 746.3h.01M1024.0 692.9h.01M985.8 744.4h.01M970.2 766.5h.01M999.6 768.9h.01M1007.4 657.4h.01M1058.2 663.2h.01M971.8 745.7h.01M1052.6 716.0h.01M1047.1 677.9h.01M1045.7 700.5h.01M1035.9 723.5h.01M1012.7 705.6h.01M954.7 730.4h.01M1038.7 709.6h.01M972.6 732.0h.01M964.2 731.3h.01M1014.1 762.1h.01M955.8 728.1h.01M964.1 767.4h.01M1051.1 711.2h.01M1029.3 676.4h.01M960.5 678.7h.01M962.3 667.0h.01M961.1 654.6h.01M990.0 708.2h.01M958.2 655.2h.01M950.0 761.8h.01M1020.7 693.2h.01M971.2 702.3h.01M975.4 724.3h.01M1054.2 694.4h.01M1046.0 643.2h.01M990.4 638.7h.01M1049.8 695.6h.01M959.7 767.7h.01M974.9 635.5h.01M955.4 772.5h.01M1004.6 624.1h.01M966.0 776.6h.01M976.1 731.9h.01M978.8 665.1h.01M981.1 627.3h.01M950.9 694.6h.01M968.4 708.5h.01M1063.8 672.2h.01M987.7 631.0h.01M997.8 737.5h.01M1020.7 708.7h.01M985.9 696.3h.01M957.6 748.8h.01M1004.6 744.7h.01M977.1 700.9h.01M986.2 754.7h.01M1015.4 716.8h.01M988.0 665.5h.01M1029.3 738.4h.01M969.5 702.0h.01M1020.9 670.7h.01M969.0 655.2h.01M958.4 730.7h.01M1024.0 762.0h.01M1051.8 680.9h.01M1008.2 618.9h.01M966.3 708.5h.01M1004.5 771.5h.01M1016.7 618.2h.01M1021.5 769.2h.01M966.9 659.5h.01M980.1 703.7h.01M992.8 683.7h.01M1034.2 680.0h.01M1060.6 698.9h.01M1010.2 711.4h.01M1032.2 710.9h.01M1018.5 624.5h.01M990.9 732.5h.01M1024.4 726.7h.01M1007.9 680.7h.01M996.7 732.2h.01M961.2 756.0h.01M1034.4 686.3h.01M1035.7 699.5h.01M1005.0 647.2h.01M968.5 697.9h.01M1017.2 666.4h.01M992.0 677.6h.01M1047.4 706.9h.01M1045.6 684.6h.01M1029.5 702.3h.01M1011.0 675.1h.01M1043.8 728.1h.01M988.2 744.0h.01M954.1 719.5h.01M982.6 728.1h.01M950.5 776.1h.01M1000.3 677.4h.01M1012.6 660.4h.01M1031.9 657.7h.01M1005.0 684.3h.01M992.3 763.9h.01M999.7 717.0h.01M990.7 761.7h.01M1035.3 666.2h.01M962.6 708.9h.01M968.1 689.2h.01M961.3 677.0h.01M978.2 769.0h.01M1035.5 656.6h.01M969.6 672.3h.01M1053.2 649.3h.01M1027.9 648.0h.01M1049.3 728.3h.01M1051.0 721.2h.01M1006.7 618.3h.01M1047.3 660.6h.01M1020.7 678.2h.01M1016.8 691.8h.01M1030.7 720.5h.01M1028.2 699.2h.01M971.6 753.2h.01M987.5 638.2h.01M1053.3 714.6h.01M992.4 626.9h.01M952.2 762.1h.01M1031.0 748.1h.01M1042.2 663.4h.01M1005.8 647.8h.01M983.6 751.3h.01M991.0 723.7h.01M1023.8 655.2h.01M1021.9 678.4h.01M1009.0 706.7h.01M1018.9 756.2h.01M999.0 638.6h.01M1049.9 704.4h.01M1001.7 761.7h.01M998.6 730.9h.01M1002.6 648.8h.01M1013.0 675.4h.01M979.3 677.4h.01M983.0 743.5h.01M957.8 735.3h.01M1003.5 732.8h.01M980.8 715.4h.01M950.9 710.4h.01M999.0 712.8h.01M964.3 651.1h.01M1014.0 708.8h.01M1006.1 743.3h.01M955.4 761.4h.01M935.3 774.4h.01M923.4 770.9h.01M922.8 724.7h.01M943.0 749.4h.01M926.4 780.1h.01M905.1 700.6h.01M943.9 670.4h.01M943.9 676.3h.01M903.9 699.4h.01M914.8 778.2h.01M928.2 709.9h.01M920.7 709.0h.01M937.2 714.8h.01M937.8 755.1h.01M920.8 780.8h.01M930.0 706.7h.01M923.5 784.0h.01M948.1 785.0h.01M918.6 757.2h.01M935.7 728.3h.01M931.6 780.5h.01M920.5 739.8h.01M919.7 769.2h.01M934.9 768.2h.01M396.8 818.3h.01M338.9 800.2h.01M393.8 820.5h.01M312.9 789.4h.01M323.7 742.5h.01M338.3 848.5h.01M291.1 824.3h.01M336.3 829.7h.01M377.8 818.0h.01M359.0 825.0h.01M389.8 797.1h.01M371.9 751.1h.01M355.8 814.8h.01M320.2 790.1h.01M387.6 731.7h.01M346.1 715.9h.01M332.2 794.2h.01M326.0 787.1h.01M383.1 785.3h.01M357.9 747.2h.01M382.4 729.6h.01M323.7 793.7h.01M411.4 818.7h.01M351.0 831.5h.01M332.4 761.8h.01M339.3 732.3h.01M332.1 763.9h.01M398.6 800.3h.01M334.5 745.9h.01M375.3 797.3h.01M404.2 810.4h.01M334.8 842.8h.01M370.1 748.9h.01M367.7 730.3h.01M376.6 726.9h.01M366.1 732.3h.01M373.9 837.8h.01M361.1 841.6h.01M362.5 847.2h.01M382.7 846.2h.01M459.7 854.2h.01M469.8 859.2h.01M505.4 875.3h.01M490.3 868.0h.01M432.3 822.8h.01M497.7 875.2h.01M451.8 847.9h.01M427.1 843.9h.01M419.0 829.4h.01M432.0 844.0h.01M490.2 868.4h.01M495.4 870.6h.01M460.7 862.9h.01M459.0 842.2h.01M425.4 852.9h.01M416.0 829.1h.01M413.6 822.4h.01M623.5 653.3h.01M618.1 655.4h.01M643.9 701.2h.01M664.6 702.1h.01M610.8 674.8h.01M621.5 698.7h.01M637.5 704.9h.01M597.6 686.8h.01M607.3 673.5h.01M620.2 653.3h.01M618.1 670.5h.01M609.2 690.8h.01M638.8 696.9h.01M605.4 695.1h.01M656.8 694.9h.01M645.9 683.7h.01M622.1 651.5h.01M606.4 681.3h.01M643.1 699.3h.01M665.2 693.5h.01M603.9 657.5h.01M601.9 664.0h.01M608.8 649.1h.01M658.9 688.8h.01M612.6 698.4h.01M637.8 691.8h.01M643.4 706.2h.01M646.1 677.6h.01M635.1 662.6h.01M630.5 673.2h.01M628.8 670.4h.01M656.7 707.5h.01M646.0 687.7h.01M597.6 683.0h.01M679.3 728.0h.01M677.6 725.6h.01M570.3 779.0h.01M564.4 764.4h.01M558.7 766.6h.01M560.6 773.8h.01M550.3 775.1h.01M554.8 770.9h.01M550.6 768.1h.01M706.2 854.9h.01M726.2 860.7h.01M721.1 842.2h.01M739.6 845.3h.01M629.7 919.6h.01M634.7 917.0h.01M520.3 989.7h.01"/>
<path stroke="#b89ee2" d="M735.7 166.4h.01M670.2 126.1h.01M707.4 161.4h.01M689.3 146.4h.01M730.2 160.7h.01M738.0 145.4h.01M714.6 161.0h.01M672.0 166.8h.01M762.9 198.0h.01M764.5 232.8h.01M807.5 282.6h.01M734.2 276.6h.01M679.5 239.8h.01M422.3 406.0h.01M506.5 450.1h.01M498.6 453.5h.01M518.8 450.1h.01M498.5 529.6h.01M512.0 539.7h.01M504.8 531.4h.01M571.2 463.6h.01M600.7 402.3h.01M603.9 453.9h.01M615.3 470.2h.01M708.3 453.5h.01M695.7 470.0h.01M700.1 428.8h.01M681.8 432.8h.01M166.4 543.4h.01M162.9 545.5h.01M250.4 530.0h.01M246.8 544.3h.01M188.2 563.5h.01M201.9 536.3h.01M188.9 549.4h.01M1023.5 629.8h.01M1027.1 711.7h.01M1011.8 723.8h.01M970.6 744.8h.01M965.5 768.7h.01M1011.1 681.8h.01M1056.6 692.7h.01M994.5 637.6h.01M972.3 650.7h.01M960.6 691.0h.01M1005.8 687.1h.01M1029.8 675.1h.01M1046.4 711.0h.01M1030.5 697.2h.01M971.9 716.2h.01M1009.8 649.7h.01M1037.4 752.2h.01M1029.3 667.1h.01M942.6 776.6h.01M906.6 726.5h.01M935.1 738.9h.01M304.4 845.7h.01M398.2 782.1h.01M406.1 818.0h.01M346.2 819.6h.01M393.5 769.7h.01M323.6 742.0h.01M386.0 795.8h.01M354.7 795.0h.01M315.5 833.2h.01M319.4 758.8h.01M385.8 822.3h.01M316.8 809.3h.01M366.9 817.5h.01M359.4 792.2h.01M333.3 751.7h.01M317.3 780.2h.01M296.0 821.6h.01M389.8 761.1h.01M315.8 853.6h.01M438.2 841.4h.01M486.2 868.9h.01M500.4 880.0h.01M492.7 883.0h.01M497.9 873.8h.01M505.6 878.5h.01M666.0 700.4h.01M707.5 858.3h.01M704.7 849.1h.01M700.7 846.1h.01M705.3 937.8h.01M704.7 937.2h.01"/>
<path stroke="#5731fa" d="M863.0 367.4h.01M872.9 371.1h.01M869.4 369.5h.01M948.5 365.9h.01M950.0 378.0h.01M944.9 374.8h.01M939.5 366.3h.01M948.0 373.9h.01M952.4 373.4h.01M962.0 370.0h.01"/>
<path stroke="#c6b9db" d="M729.6 190.5h.01M746.2 233.0h.01M745.4 243.6h.01M815.8 223.3h.01M834.1 285.2h.01M410.3 438.7h.01M522.2 438.7h.01M496.3 553.8h.01M608.8 441.3h.01M701.0 456.2h.01M661.8 436.0h.01M174.6 530.6h.01M969.7 725.8h.01M1019.5 690.2h.01M976.6 663.3h.01M975.0 684.9h.01M1023.2 631.0h.01M1007.0 701.9h.01M1047.7 644.2h.01M334.2 753.7h.01M368.8 755.0h.01M311.5 803.0h.01M372.7 736.1h.01M318.5 760.0h.01M349.1 726.3h.01M364.9 728.7h.01M371.6 855.5h.01M489.0 864.9h.01M504.4 880.5h.01M616.9 695.3h.01M603.6 645.2h.01M522.8 1004.8h.01"/>
<path stroke="#0000ff" d="M727.3 221.2h.01M728.9 227.3h.01M732.2 236.2h.01M871.8 372.7h.01M944.6 366.1h.01"/>
<path stroke="#3e1ffc" d="M953.3 364.8h.01M946.2 371.1h.01"/>
<path stroke="#5731fa" d="M726.9 225.8h.01M960.1 370.4h.01M951.8 368.8h.01M949.1 373.2h.01M976.8 711.9h.01"/>
<path stroke="#926aef" d="M711.9 134.7h.01M693.8 161.1h.01M704.0 142.0h.01M671.1 157.7h.01M714.9 170.3h.01M698.4 157.8h.01M694.1 186.9h.01M724.5 204.0h.01M721.6 188.2h.01M815.9 289.8h.01M816.2 287.4h.01M833.5 290.0h.01M789.6 310.7h.01M512.8 432.2h.01M907.9 374.0h.01M903.6 371.4h.01M966.0 368.9h.01M952.1 367.2h.01M958.3 367.3h.01M953.2 369.6h.01M995.8 669.7h.01M1002.5 618.1h.01M959.4 738.0h.01M987.7 767.5h.01M947.1 771.3h.01M956.2 670.7h.01M987.5 702.7h.01M968.4 721.5h.01M1065.8 658.7h.01M995.8 645.8h.01M1005.8 665.2h.01M1000.6 661.3h.01M1020.7 690.7h.01M1038.1 657.4h.01M1025.7 666.0h.01M1017.1 649.7h.01M976.2 649.0h.01M1036.2 643.7h.01M1020.8 648.9h.01M1031.0 699.8h.01M1014.5 620.5h.01M960.3 651.5h.01M976.0 645.4h.01M996.9 631.0h.01M1059.5 673.9h.01M984.9 756.3h.01M1026.4 661.0h.01M930.0 742.1h.01M345.4 806.8h.01M300.4 836.8h.01M382.5 803.6h.01M318.0 806.2h.01M346.6 777.0h.01M342.4 769.1h.01M365.1 748.4h.01M338.3 821.4h.01M354.1 859.9h.01M509.8 875.7h.01M611.6 662.8h.01M567.1 763.4h.01M632.1 922.1h.01"/>
<path stroke="#9d77ec" d="M700.9 119.4h.01M675.0 151.5h.01M700.6 141.7h.01M672.8 126.7h.01M696.8 124.2h.01M685.5 147.9h.01M729.6 185.6h.01M733.9 173.1h.01M687.7 173.3h.01M676.5 122.3h.01M700.4 173.0h.01M742.2 171.2h.01M744.2 173.0h.01M692.9 186.1h.01M725.8 190.2h.01M749.2 221.9h.01M812.9 217.7h.01M803.3 233.0h.01M756.6 242.3h.01M735.9 187.6h.01M739.1 208.5h.01M749.9 222.5h.01M757.0 237.9h.01M772.7 259.5h.01M819.0 287.3h.01M677.9 199.7h.01M677.6 238.0h.01M702.5 241.5h.01M702.6 232.0h.01M452.9 538.6h.01M483.0 561.9h.01M494.7 544.1h.01M511.1 552.8h.01M517.1 548.6h.01M454.0 527.5h.01M456.1 526.1h.01M597.6 409.8h.01M612.4 410.1h.01M630.3 445.1h.01M613.3 467.7h.01M718.7 448.0h.01M880.7 374.8h.01M927.7 348.0h.01M955.8 374.9h.01M225.3 521.7h.01M192.0 535.3h.01M211.4 558.4h.01M196.1 559.5h.01M185.1 550.4h.01M1039.8 657.1h.01M1030.1 660.7h.01M971.8 735.4h.01M1004.2 624.4h.01M954.0 659.3h.01M974.5 675.0h.01M1009.1 657.1h.01M973.9 716.5h.01M1005.3 665.0h.01M1061.9 712.2h.01M998.3 679.4h.01M997.8 663.3h.01M993.6 777.5h.01M976.0 676.6h.01M978.4 676.9h.01M1047.0 651.9h.01M961.5 643.3h.01M971.3 689.4h.01M994.1 645.7h.01M981.8 671.4h.01M1050.1 636.2h.01M989.3 669.6h.01M1003.5 634.8h.01M1017.3 642.6h.01M985.4 639.7h.01M1001.2 663.0h.01M997.7 688.5h.01M975.2 644.5h.01M1027.2 650.8h.01M1015.9 652.2h.01M1048.1 647.9h.01M1046.7 695.9h.01M1002.2 655.2h.01M1007.0 649.3h.01M993.2 636.1h.01M1004.8 720.3h.01M1056.2 703.0h.01M1052.5 660.5h.01M1049.5 683.3h.01M1035.0 665.6h.01M988.2 747.4h.01M1034.0 694.3h.01M983.2 653.5h.01M981.2 763.2h.01M1035.8 648.9h.01M1015.1 766.0h.01M947.7 781.5h.01M935.6 743.0h.01M942.1 732.8h.01M932.4 694.7h.01M306.6 820.3h.01M389.7 798.0h.01M313.0 843.8h.01M339.2 853.2h.01M338.8 747.3h.01M400.8 812.0h.01M381.7 752.0h.01M357.8 746.1h.01M386.8 734.3h.01M372.2 791.2h.01M342.9 807.7h.01M389.0 837.8h.01M475.0 856.8h.01M495.9 879.8h.01M645.6 669.5h.01M630.8 682.5h.01M613.6 704.7h.01M629.5 684.8h.01M596.0 673.1h.01M677.1 708.8h.01M596.6 692.0h.01M545.5 766.4h.01M550.3 760.8h.01M551.3 775.5h.01M730.2 717.2h.01M713.1 852.7h.01M811.2 786.4h.01M799.0 781.6h.01M640.2 916.1h.01M639.0 911.8h.01M725.0 942.3h.01M657.4 982.5h.01"/>
<path stroke="#b89ee2" d="M716.2 144.6h.01M668.3 172.8h.01M713.5 138.6h.01M719.0 185.8h.01M718.0 175.8h.01M680.1 158.5h.01M690.9 179.8h.01M737.1 143.3h.01M699.3 187.9h.01M756.2 191.0h.01M759.3 206.9h.01M794.7 210.5h.01M810.5 230.3h.01M770.9 265.8h.01M836.8 285.1h.01M748.6 272.0h.01M673.7 213.3h.01M395.5 413.1h.01M432.0 403.1h.01M400.0 408.1h.01M492.6 490.3h.01M441.9 585.2h.01M439.4 546.0h.01M496.4 560.3h.01M540.9 476.1h.01M593.0 465.1h.01M528.6 518.8h.01M632.5 430.3h.01M595.1 407.5h.01M591.5 391.6h.01M614.5 431.9h.01M565.8 469.1h.01M673.6 456.1h.01M688.9 433.5h.01M160.3 529.1h.01M192.4 567.3h.01M196.8 516.7h.01M192.9 552.8h.01M188.7 528.5h.01M217.1 538.7h.01M184.8 544.1h.01M226.8 509.0h.01M168.5 537.5h.01M208.4 556.6h.01M1030.5 659.2h.01M958.1 711.2h.01M970.4 686.5h.01M1010.3 707.7h.01M1018.8 694.0h.01M1037.3 682.1h.01M1047.1 687.5h.01M1049.1 687.1h.01M987.2 634.6h.01M958.7 634.4h.01M1035.3 688.5h.01M1019.4 630.3h.01M994.6 636.1h.01M1008.3 625.3h.01M963.2 727.2h.01M1016.5 754.5h.01M1016.2 679.8h.01M314.6 838.9h.01M375.9 755.7h.01M380.0 746.8h.01M320.4 846.4h.01M384.8 735.7h.01M399.0 807.9h.01M331.4 723.6h.01M336.8 764.1h.01M381.8 748.8h.01M344.5 749.7h.01M345.8 786.4h.01M340.3 800.2h.01M296.5 833.2h.01M290.8 844.8h.01M389.3 772.8h.01M297.4 828.7h.01M340.9 796.7h.01M325.4 829.6h.01M345.8 774.4h.01M328.9 760.0h.01M339.4 786.1h.01M324.6 743.6h.01M457.9 846.2h.01M445.9 836.5h.01M439.3 844.7h.01M512.0 878.6h.01M493.5 863.9h.01M564.8 777.6h.01M544.3 768.1h.01M696.4 844.4h.01M719.4 847.4h.01M617.4 867.5h.01M633.8 900.3h.01M519.6 989.5h.01M522.0 990.0h.01"/>
<path stroke="#bfabdf" d="M695.7 133.8h.01M689.9 121.3h.01M701.6 171.0h.01M699.3 176.9h.01M802.0 244.5h.01M805.0 290.7h.01M778.7 299.3h.01M669.7 243.8h.01M391.9 384.6h.01M418.3 396.8h.01M509.0 402.8h.01M458.7 549.2h.01M486.7 553.8h.01M612.0 387.3h.01M631.6 414.4h.01M632.8 420.4h.01M236.9 539.5h.01M239.0 532.7h.01M178.8 556.0h.01M226.8 555.5h.01M245.2 508.2h.01M242.6 509.7h.01M991.8 740.7h.01M1009.9 674.2h.01M1005.7 773.3h.01M1021.7 757.0h.01M1016.2 763.7h.01M1017.3 653.8h.01M1037.5 660.4h.01M974.0 688.6h.01M997.2 647.9h.01M1010.8 676.2h.01M344.0 752.7h.01M359.8 761.7h.01M401.6 802.2h.01M382.5 753.8h.01M327.5 845.0h.01M295.5 845.1h.01M353.3 809.1h.01M311.6 854.8h.01M378.0 797.9h.01M362.1 795.2h.01M374.8 757.9h.01M361.9 739.3h.01M366.6 810.2h.01M293.2 832.5h.01M417.3 845.4h.01M466.3 865.5h.01M415.1 830.0h.01M631.5 666.3h.01M664.8 701.9h.01M637.5 702.9h.01M597.7 687.3h.01M674.3 710.0h.01M560.5 778.1h.01M716.0 855.9h.01M717.7 850.6h.01M527.3 1011.0h.01"/>
<path stroke="#875cf2" d="M702.6 167.2h.01M711.6 170.3h.01M712.1 155.4h.01M679.1 136.2h.01M805.9 240.8h.01M802.3 226.7h.01M778.5 259.9h.01M594.2 545.1h.01M572.8 474.9h.01M871.3 371.5h.01M866.4 371.5h.01M912.6 368.3h.01M926.8 375.5h.01M930.3 348.3h.01M952.1 366.1h.01M958.3 367.2h.01M956.6 378.8h.01M963.5 704.0h.01M949.1 753.4h.01M961.0 669.2h.01M981.2 677.8h.01M960.8 743.2h.01M988.0 717.5h.01M981.1 635.9h.01M979.3 659.0h.01M975.8 643.4h.01M980.6 705.7h.01M1003.5 657.5h.01M1051.1 693.7h.01M1001.9 658.8h.01M970.6 722.7h.01M1058.9 714.4h.01M1044.8 726.4h.01M1017.7 753.9h.01M561.5 776.0h.01M801.3 790.6h.01M811.1 793.1h.01M800.5 783.1h.01M527.3 1016.0h.01"/>
<path stroke="#a784e9" d="M702.0 191.8h.01M676.8 115.9h.01M731.4 139.2h.01M720.4 124.7h.01M686.3 120.7h.01M739.5 155.8h.01M702.8 177.1h.01M688.3 133.1h.01M734.3 154.9h.01M705.9 189.5h.01M811.3 214.1h.01M736.0 190.0h.01M811.9 242.5h.01M746.0 197.8h.01M754.2 237.4h.01M818.5 230.5h.01M827.6 220.5h.01M743.2 223.8h.01M784.6 276.0h.01M838.2 295.0h.01M820.6 278.0h.01M658.3 243.9h.01M654.8 242.6h.01M703.4 240.6h.01M396.8 393.4h.01M513.2 441.5h.01M492.7 486.2h.01M522.2 516.1h.01M488.8 561.7h.01M426.9 560.3h.01M450.5 526.9h.01M581.4 463.3h.01M599.6 383.4h.01M611.2 395.9h.01M613.8 456.7h.01M574.2 453.5h.01M609.5 466.9h.01M627.9 460.7h.01M703.3 433.6h.01M677.9 431.0h.01M726.6 448.6h.01M920.4 367.1h.01M226.3 514.0h.01M190.0 565.8h.01M193.3 525.4h.01M201.5 569.2h.01M193.2 552.1h.01M220.4 556.4h.01M225.3 527.8h.01M244.4 539.5h.01M228.3 554.5h.01M219.1 554.6h.01M1013.4 685.9h.01M1006.3 721.2h.01M985.2 657.7h.01M1006.8 656.6h.01M980.5 651.7h.01M960.8 716.7h.01M1008.6 710.3h.01M981.3 707.0h.01M981.1 698.2h.01M952.1 771.3h.01M1003.5 698.6h.01M1051.6 648.0h.01M955.5 776.5h.01M976.5 642.5h.01M977.4 719.2h.01M999.3 673.0h.01M986.3 662.7h.01M1054.2 661.0h.01M974.4 779.3h.01M1038.2 693.4h.01M1052.7 686.0h.01M969.3 685.2h.01M962.5 720.1h.01M965.3 669.1h.01M965.2 672.5h.01M1009.1 652.8h.01M1003.6 650.1h.01M983.5 655.3h.01M977.8 642.8h.01M1024.1 699.4h.01M1007.0 667.6h.01M991.2 665.4h.01M1023.1 734.1h.01M1017.6 700.3h.01M991.4 737.5h.01M1027.2 697.2h.01M1009.2 663.7h.01M998.6 702.7h.01M981.3 653.2h.01M991.6 711.3h.01M983.2 651.0h.01M1058.9 702.4h.01M1003.1 747.5h.01M1032.3 661.5h.01M1034.7 685.5h.01M1018.7 654.7h.01M923.3 702.9h.01M943.2 688.8h.01M320.7 758.8h.01M326.2 788.3h.01M345.9 807.4h.01M391.2 784.2h.01M351.3 771.8h.01M334.1 755.1h.01M350.6 724.2h.01M360.1 729.2h.01M387.5 791.6h.01M355.6 770.7h.01M379.0 792.3h.01M370.4 770.1h.01M325.3 789.4h.01M359.6 829.3h.01M349.9 775.0h.01M398.4 830.5h.01M305.3 840.7h.01M308.0 838.0h.01M343.3 832.0h.01M324.1 769.7h.01M349.0 801.8h.01M508.4 876.6h.01M437.6 835.0h.01M454.8 853.0h.01M420.8 850.0h.01M505.5 885.5h.01M496.9 871.0h.01M495.1 878.6h.01M621.0 680.2h.01M639.3 705.4h.01M620.6 683.6h.01M668.4 703.4h.01M611.7 660.0h.01M625.6 681.0h.01M603.3 648.4h.01M640.1 667.8h.01M565.0 781.3h.01M737.8 714.4h.01M695.7 844.9h.01M724.4 847.5h.01M717.0 841.6h.01M734.8 851.9h.01M718.2 826.3h.01M719.2 824.8h.01M621.2 872.9h.01M639.5 905.3h.01M720.4 942.8h.01"/>
<path stroke="#c6b9db" d="M666.3 140.4h.01M691.0 131.3h.01M674.8 238.8h.01M726.1 232.8h.01M477.1 595.7h.01M514.7 541.1h.01M612.0 400.1h.01M695.8 468.3h.01M189.2 539.6h.01M969.7 692.1h.01M989.7 661.4h.01M1002.7 659.9h.01M972.3 667.6h.01M359.0 782.7h.01M380.5 815.3h.01M656.2 703.6h.01"/>
<path stroke="#d3d3d3" d="M714.2 138.1h.01M703.5 192.3h.01M680.3 134.2h.01M681.8 159.4h.01M692.0 115.2h.01M730.7 166.4h.01M695.2 170.1h.01M718.4 140.6h.01M675.5 118.0h.01M670.5 153.3h.01M720.3 188.9h.01M712.7 148.7h.01M701.8 132.1h.01M700.4 132.3h.01M732.9 191.7h.01M703.5 172.1h.01M720.3 180.8h.01M720.6 137.7h.01M693.5 123.5h.01M695.5 170.4h.01M732.1 166.2h.01M700.3 132.3h.01M686.2 163.7h.01M683.9 191.5h.01M689.2 121.4h.01M664.5 129.1h.01M727.2 150.2h.01M740.6 167.9h.01M737.4 142.4h.01M792.6 234.5h.01M759.1 202.7h.01M758.3 192.8h.01M804.1 228.2h.01M754.8 219.0h.01M752.4 217.8h.01M781.9 233.8h.01M822.6 218.2h.01M732.0 205.5h.01M772.7 202.1h.01M752.8 210.1h.01M823.8 223.7h.01M825.0 218.4h.01M769.7 253.9h.01M786.6 250.2h.01M784.6 250.1h.01M769.3 253.0h.01M766.7 260.8h.01M769.8 262.9h.01M784.9 252.8h.01M768.1 265.4h.01M772.4 243.2h.01M779.7 264.6h.01M839.5 289.5h.01M801.8 288.8h.01M819.0 286.4h.01M835.2 282.3h.01M810.8 288.4h.01M828.2 289.5h.01M795.0 312.8h.01M675.4 204.9h.01M666.1 244.9h.01M694.0 240.8h.01M696.5 239.9h.01M402.7 421.0h.01M413.5 404.1h.01M400.2 396.2h.01M431.7 402.8h.01M394.6 413.3h.01M390.4 416.1h.01M425.8 392.3h.01M378.4 416.2h.01M396.6 417.6h.01M404.4 398.5h.01M410.6 438.1h.01M414.7 442.4h.01M410.5 437.4h.01M408.4 430.0h.01M421.3 417.7h.01M409.0 416.0h.01M430.7 416.0h.01M458.2 455.3h.01M515.9 445.3h.01M451.8 442.4h.01M450.9 446.0h.01M481.3 460.2h.01M510.1 422.0h.01M508.3 407.9h.01M510.1 423.5h.01M500.4 525.2h.01M483.1 513.0h.01M500.9 516.6h.01M529.8 514.9h.01M490.7 522.8h.01M482.8 497.8h.01M505.4 529.0h.01M529.8 522.0h.01M494.5 523.9h.01M484.2 536.7h.01M473.4 593.3h.01M513.0 561.8h.01M435.5 526.7h.01M449.3 567.8h.01M443.0 580.9h.01M447.7 574.5h.01M453.8 535.5h.01M431.3 553.4h.01M444.4 565.9h.01M440.0 591.3h.01M443.2 585.1h.01M509.4 536.4h.01M448.1 531.9h.01M440.1 544.4h.01M499.4 571.5h.01M450.0 536.4h.01M512.3 563.4h.01M480.5 565.9h.01M463.0 536.8h.01M492.6 549.1h.01M492.2 550.2h.01M501.3 549.1h.01M440.5 528.8h.01M534.5 477.0h.01M517.2 498.9h.01M519.1 502.4h.01M548.5 472.0h.01M583.5 469.6h.01M559.2 522.7h.01M571.9 528.0h.01M588.9 541.8h.01M577.6 537.6h.01M585.9 543.3h.01M563.2 526.4h.01M613.5 391.0h.01M634.4 417.6h.01M595.0 393.1h.01M611.1 394.6h.01M590.1 405.5h.01M592.5 419.2h.01M625.6 420.8h.01M633.7 420.3h.01M619.3 392.6h.01M632.6 433.6h.01M603.3 407.9h.01M635.9 448.8h.01M567.1 470.9h.01M595.6 467.0h.01M641.7 455.4h.01M614.3 439.7h.01M624.4 463.6h.01M588.6 473.6h.01M569.6 477.6h.01M634.5 461.3h.01M573.9 474.5h.01M597.4 464.4h.01M576.3 472.3h.01M669.9 462.1h.01M681.5 454.0h.01M653.7 425.9h.01M712.3 451.9h.01M715.8 459.1h.01M713.2 456.5h.01M696.7 465.6h.01M714.3 445.0h.01M658.0 427.4h.01M670.8 436.9h.01M707.7 448.5h.01M677.4 460.0h.01M720.4 445.6h.01M665.0 449.6h.01M671.8 437.1h.01M694.4 431.9h.01M705.1 433.3h.01M712.9 464.8h.01M769.3 587.8h.01M767.1 596.1h.01M767.1 600.5h.01M772.4 595.4h.01M779.7 591.6h.01M781.1 589.3h.01M776.8 590.4h.01M966.8 365.2h.01M205.3 516.5h.01M165.7 530.5h.01M195.0 533.4h.01M199.1 566.2h.01M218.4 536.8h.01M206.9 569.8h.01M218.0 511.1h.01M181.8 525.9h.01M176.9 543.5h.01M198.5 516.2h.01M181.0 561.0h.01M209.6 521.8h.01M156.1 558.6h.01M211.5 549.8h.01M162.1 561.6h.01M157.2 544.5h.01M193.5 520.4h.01M230.3 545.4h.01M244.3 545.6h.01M233.3 525.4h.01M198.9 550.1h.01M219.4 551.0h.01M183.7 568.3h.01M216.0 518.9h.01M255.7 524.9h.01M208.0 523.2h.01M182.2 550.4h.01M161.0 540.5h.01M207.1 553.5h.01M221.9 533.5h.01M160.1 555.1h.01M185.7 561.0h.01M183.7 570.5h.01M221.6 530.1h.01M225.8 515.7h.01M211.2 568.9h.01M238.0 527.2h.01M163.4 565.2h.01M179.3 528.1h.01M205.9 566.4h.01M223.6 509.3h.01M212.8 520.7h.01M189.3 509.5h.01M185.5 570.8h.01M195.3 566.4h.01M198.7 524.8h.01M203.7 548.2h.01M227.1 509.8h.01M192.9 527.2h.01M189.0 517.0h.01M225.4 555.5h.01M161.6 553.5h.01M967.9 776.9h.01M973.0 729.2h.01M1002.6 626.5h.01M979.9 638.5h.01M979.1 736.2h.01M1026.2 753.1h.01M1024.4 662.4h.01M1008.0 776.9h.01M994.6 690.3h.01M956.4 740.5h.01M959.8 753.1h.01M1011.6 637.1h.01M954.4 759.4h.01M1017.7 703.9h.01M1013.3 777.7h.01M1045.2 669.0h.01M1033.0 669.8h.01M986.6 696.0h.01M978.7 655.5h.01M1042.6 691.5h.01M979.2 677.3h.01M1038.9 740.3h.01M977.3 707.8h.01M1053.3 723.0h.01M1004.3 619.7h.01M983.4 725.7h.01M973.1 670.5h.01M1034.8 689.4h.01M1011.9 773.5h.01M1025.3 660.2h.01M950.1 734.5h.01M976.5 710.1h.01M997.3 635.5h.01M989.4 731.3h.01M987.8 709.4h.01M961.4 677.6h.01M1021.7 765.6h.01M949.0 753.2h.01M1022.0 683.4h.01M956.8 676.0h.01M1068.7 671.8h.01M1011.7 627.5h.01M1052.1 699.6h.01M994.3 759.8h.01M988.8 650.5h.01M1058.2 715.3h.01M1047.4 648.0h.01M969.5 662.6h.01M990.4 698.4h.01M981.9 704.8h.01M975.7 649.2h.01M1019.1 657.3h.01M959.3 759.0h.01M951.7 756.6h.01M957.2 671.6h.01M1043.5 662.0h.01M1001.3 754.2h.01M1019.9 719.1h.01M1040.6 710.4h.01M1003.0 657.7h.01M1029.3 761.7h.01M962.8 775.2h.01M1011.9 680.3h.01M987.5 746.9h.01M980.9 642.0h.01M1006.9 742.9h.01M1033.0 686.0h.01M1000.5 623.3h.01M989.3 668.2h.01M962.6 651.7h.01M1023.6 661.7h.01M986.0 664.0h.01M1029.9 709.4h.01M961.9 738.6h.01M999.4 741.8h.01M966.2 695.7h.01M1017.7 737.1h.01M989.0 737.7h.01M979.0 734.1h.01M1024.8 640.0h.01M971.5 654.0h.01M969.7 667.8h.01M993.8 734.2h.01M981.7 741.0h.01M951.0 758.7h.01M983.5 646.4h.01M958.3 733.2h.01M1065.5 682.0h.01M994.0 719.3h.01M1016.5 731.1h.01M1045.6 669.6h.01M953.2 720.8h.01M1009.6 718.0h.01M959.1 736.1h.01M951.5 762.1h.01M953.5 688.7h.01M1035.6 634.2h.01M966.7 643.6h.01M974.2 674.0h.01M975.5 634.3h.01M1013.0 643.2h.01M1061.3 678.0h.01M991.9 752.0h.01M973.1 741.3h.01M970.9 746.4h.01M1011.8 736.3h.01M1018.1 693.9h.01M1035.6 728.4h.01M1056.1 660.9h.01M994.0 717.1h.01M1051.7 643.6h.01M1021.8 620.5h.01M969.6 712.8h.01M1020.7 731.6h.01M1012.9 675.1h.01M1043.8 715.2h.01M964.8 705.8h.01M968.6 731.6h.01M1047.6 725.3h.01M965.1 727.8h.01M973.8 777.3h.01M970.1 665.0h.01M1042.8 732.6h.01M969.3 636.2h.01M1019.3 702.7h.01M961.6 776.3h.01M1038.5 676.9h.01M990.0 726.8h.01M1003.2 732.1h.01M1051.6 668.1h.01M950.9 763.2h.01M1012.2 642.5h.01M1020.6 723.1h.01M973.5 689.7h.01M1052.1 657.1h.01M1042.0 662.9h.01M1022.2 657.0h.01M961.4 723.9h.01M964.0 771.0h.01M976.5 637.3h.01M957.0 721.0h.01M1011.4 751.8h.01M964.6 651.1h.01M961.2 682.6h.01M1005.6 619.3h.01M1039.7 719.2h.01M1021.9 663.0h.01M1058.9 698.5h.01M1028.0 643.5h.01M971.0 664.0h.01M1009.1 673.4h.01M1000.0 714.2h.01M1042.9 650.7h.01M1000.5 707.2h.01M973.5 704.2h.01M951.5 776.3h.01M983.8 778.4h.01M968.8 649.2h.01M989.5 768.7h.01M970.1 640.7h.01M1016.5 738.5h.01M1004.9 634.6h.01M942.8 766.8h.01M948.6 738.0h.01M1033.3 647.9h.01M943.3 765.7h.01M956.1 759.4h.01M1057.0 691.7h.01M996.1 650.2h.01M982.7 772.5h.01M961.8 697.0h.01M1063.9 646.5h.01M990.9 729.8h.01M1012.9 689.2h.01M1031.1 751.5h.01M1013.1 688.6h.01M1058.8 689.7h.01M958.1 769.5h.01M1006.1 770.1h.01M1012.4 691.5h.01M1039.8 648.0h.01M1002.0 698.4h.01M1038.8 742.0h.01M994.2 731.2h.01M974.8 775.5h.01M980.7 727.1h.01M956.2 686.2h.01M965.1 698.7h.01M969.8 654.5h.01M1042.9 659.4h.01M1025.2 698.8h.01M945.7 735.9h.01M1020.6 638.5h.01M1046.8 712.0h.01M1015.3 752.2h.01M1055.8 691.7h.01M979.6 682.8h.01M1011.4 715.1h.01M1060.8 672.5h.01M1049.6 650.1h.01M1005.2 696.5h.01M965.8 667.7h.01M992.7 656.9h.01M1008.6 643.7h.01M957.3 749.4h.01M955.9 731.2h.01M1044.5 671.8h.01M1004.7 752.4h.01M960.9 703.8h.01M1031.2 725.7h.01M966.9 682.6h.01M990.8 679.5h.01M965.8 642.2h.01M988.2 697.4h.01M1011.5 694.3h.01M968.0 708.5h.01M981.9 748.4h.01M1046.5 671.0h.01M1060.1 703.1h.01M971.7 687.0h.01M1028.0 652.3h.01M972.6 723.9h.01M974.9 752.2h.01M967.8 779.1h.01M1030.1 749.2h.01M950.7 683.5h.01M1022.3 698.3h.01M956.9 730.8h.01M1012.9 720.5h.01M1035.8 644.9h.01M1030.5 683.7h.01M997.9 648.4h.01M1049.9 715.0h.01M1049.3 670.2h.01M983.0 706.6h.01M1042.5 725.8h.01M997.7 696.5h.01M1011.4 734.3h.01M1054.6 663.9h.01M1028.5 729.0h.01M994.9 710.4h.01M973.5 662.7h.01M1034.9 669.0h.01M990.2 775.6h.01M1023.9 682.3h.01M1016.3 725.4h.01M1002.7 674.2h.01M968.3 730.0h.01M1008.3 623.6h.01M984.2 732.5h.01M997.1 710.4h.01M980.7 686.9h.01M974.7 762.4h.01M988.2 660.0h.01M963.0 698.8h.01M967.9 642.5h.01M1028.2 628.9h.01M995.6 773.9h.01M988.2 680.1h.01M1010.4 773.4h.01M912.8 737.6h.01M928.2 737.3h.01M943.6 740.5h.01M902.7 722.9h.01M926.9 756.2h.01M926.4 720.7h.01M907.5 737.4h.01M919.3 764.0h.01M921.1 738.7h.01M918.9 782.2h.01M932.2 673.6h.01M912.8 722.0h.01M925.5 745.0h.01M946.4 718.9h.01M927.7 767.6h.01M918.7 717.8h.01M922.1 777.8h.01M925.6 782.3h.01M940.1 777.0h.01M942.9 735.5h.01M938.5 745.5h.01M913.2 732.9h.01M918.2 774.5h.01M922.2 777.7h.01M366.2 806.9h.01M348.5 842.3h.01M372.6 733.3h.01M371.1 742.5h.01M317.5 841.5h.01M322.6 788.6h.01M347.2 772.5h.01M377.9 726.7h.01M357.2 729.7h.01M326.6 750.2h.01M381.3 734.3h.01M380.6 727.0h.01M382.8 828.2h.01M351.0 813.5h.01M346.0 805.9h.01M318.4 793.4h.01M337.3 734.9h.01M297.6 821.5h.01M340.4 822.6h.01M341.9 848.6h.01M343.5 757.9h.01M369.5 796.6h.01M353.2 767.6h.01M316.2 778.8h.01M315.5 774.0h.01M361.1 768.5h.01M341.9 852.2h.01M364.4 779.2h.01M366.8 792.0h.01M367.6 785.5h.01M399.6 809.0h.01M355.5 808.5h.01M325.0 750.5h.01M335.7 790.6h.01M368.5 831.8h.01M346.6 816.2h.01M390.3 738.9h.01M379.4 732.1h.01M372.7 837.3h.01M445.0 857.5h.01M440.4 840.1h.01M423.7 818.2h.01M496.9 871.1h.01M439.8 842.8h.01M438.4 846.2h.01M483.2 874.0h.01M446.0 834.5h.01M496.9 873.8h.01M664.3 688.8h.01M625.0 682.0h.01M608.9 689.7h.01M651.6 687.4h.01M628.3 704.6h.01M654.9 706.8h.01M668.1 699.0h.01M617.8 701.6h.01M596.7 672.6h.01M649.2 676.9h.01M628.2 694.9h.01M644.7 682.6h.01M614.4 646.2h.01M654.1 677.2h.01M647.0 705.4h.01M665.3 706.2h.01M642.3 683.8h.01M649.6 698.6h.01M620.1 647.6h.01M656.8 707.6h.01M603.8 668.9h.01M634.1 703.3h.01M643.6 707.2h.01M613.3 647.6h.01M650.4 712.1h.01M619.1 675.4h.01M677.3 716.9h.01M676.0 709.0h.01M592.0 727.0h.01M565.0 774.5h.01M554.4 772.0h.01M572.8 777.7h.01M550.1 766.1h.01M568.8 765.8h.01M548.0 775.5h.01M559.8 768.6h.01M552.7 770.6h.01M568.4 780.1h.01M553.8 782.2h.01M697.3 846.1h.01M724.8 857.2h.01M724.7 848.4h.01M725.8 856.3h.01M719.2 844.0h.01M721.5 844.6h.01M728.4 856.2h.01M732.7 852.8h.01M636.2 900.6h.01M628.5 887.9h.01M638.4 915.2h.01M640.3 911.1h.01M641.4 912.4h.01M641.6 908.5h.01M642.4 913.3h.01"/>
<path stroke="#af91e5" d="M714.7 151.5h.01M683.8 186.2h.01M699.5 180.3h.01M674.5 139.8h.01M693.6 144.5h.01M696.4 154.7h.01M709.2 157.0h.01M735.6 170.2h.01M731.7 147.6h.01M692.8 156.4h.01M698.5 143.1h.01M719.3 156.6h.01M685.8 185.8h.01M702.8 127.6h.01M686.4 174.9h.01M730.2 190.5h.01M747.5 230.3h.01M825.5 230.1h.01M820.0 235.1h.01M805.3 234.2h.01M786.4 264.0h.01M823.9 276.4h.01M813.9 284.0h.01M804.6 285.5h.01M828.3 287.2h.01M775.1 287.5h.01M777.3 291.7h.01M779.3 303.0h.01M747.8 271.5h.01M671.4 240.6h.01M386.0 408.1h.01M416.7 401.9h.01M399.3 406.0h.01M390.5 417.6h.01M401.1 415.3h.01M413.4 395.0h.01M410.5 390.4h.01M510.5 443.4h.01M490.3 454.4h.01M520.1 444.4h.01M448.4 442.9h.01M522.0 524.3h.01M487.0 509.4h.01M494.2 504.7h.01M447.6 540.2h.01M455.1 538.2h.01M497.6 533.3h.01M507.3 538.6h.01M500.1 555.2h.01M575.7 469.6h.01M553.4 466.3h.01M600.4 394.5h.01M615.2 390.9h.01M596.2 465.2h.01M722.5 445.1h.01M719.0 443.7h.01M716.3 441.6h.01M199.0 549.5h.01M198.9 513.5h.01M163.0 564.1h.01M223.7 545.7h.01M221.9 548.2h.01M203.9 560.8h.01M1027.7 669.5h.01M1012.8 728.6h.01M1016.8 676.9h.01M981.2 728.3h.01M991.2 769.7h.01M1035.0 742.3h.01M1024.2 678.1h.01M979.6 634.4h.01M998.8 703.5h.01M1060.7 683.5h.01M998.2 693.2h.01M1018.4 765.6h.01M974.7 673.2h.01M1029.5 674.4h.01M1025.3 697.0h.01M997.6 714.8h.01M975.8 693.4h.01M980.3 638.4h.01M1051.9 672.9h.01M1009.7 643.5h.01M956.9 667.5h.01M996.6 690.7h.01M1058.6 653.1h.01M1005.6 679.8h.01M998.8 662.1h.01M1065.6 694.8h.01M987.8 732.6h.01M978.5 666.8h.01M982.7 680.8h.01M1033.6 655.3h.01M966.9 681.8h.01M1004.1 714.5h.01M1018.9 728.1h.01M941.7 744.2h.01M364.7 767.6h.01M389.8 735.3h.01M350.8 845.1h.01M387.1 783.8h.01M362.2 753.0h.01M315.8 861.3h.01M347.1 779.0h.01M324.7 824.6h.01M346.9 768.9h.01M320.8 786.8h.01M392.8 781.3h.01M336.7 822.6h.01M351.4 757.2h.01M312.6 776.8h.01M318.0 798.8h.01M294.6 852.2h.01M381.3 804.9h.01M385.1 785.8h.01M308.5 846.0h.01M402.7 810.0h.01M383.2 811.7h.01M361.0 781.6h.01M309.5 782.5h.01M350.3 834.6h.01M387.3 810.1h.01M392.6 800.0h.01M339.2 775.4h.01M334.8 749.8h.01M331.0 773.7h.01M396.8 846.7h.01M393.5 850.2h.01M357.8 849.7h.01M423.1 845.0h.01M476.6 873.9h.01M490.4 866.0h.01M489.7 873.6h.01M489.6 879.8h.01M662.8 697.7h.01M610.8 673.1h.01M644.9 664.0h.01M593.9 667.9h.01M642.7 662.4h.01M593.7 728.4h.01M586.0 736.9h.01M731.6 718.7h.01M738.1 718.1h.01M700.4 856.3h.01M718.2 859.1h.01M721.1 822.3h.01M617.9 865.8h.01M630.8 926.2h.01M702.3 934.7h.01M719.0 946.8h.01M712.7 941.1h.01M519.0 976.7h.01M534.1 1000.4h.01M522.6 1015.8h.01"/>
<path stroke="#6a40f7" d="M712.8 180.6h.01M722.8 209.1h.01M725.9 228.8h.01M722.3 218.4h.01M865.2 368.8h.01M900.6 372.9h.01M932.2 376.1h.01M937.7 365.5h.01M944.1 370.0h.01M963.9 366.5h.01M938.3 372.3h.01M943.4 364.0h.01M1027.7 746.7h.01M985.2 647.3h.01M1039.0 670.9h.01"/>
<path stroke="#794ff4" d="M660.6 142.9h.01M722.9 219.0h.01M730.8 231.1h.01M865.9 366.6h.01M908.3 369.1h.01M933.9 353.6h.01M937.9 363.1h.01M952.1 374.6h.01M942.1 364.7h.01M948.3 375.3h.01M954.7 375.2h.01"/>
<path stroke="#b89ee2" d="M697.4 166.9h.01M726.6 190.3h.01M688.7 139.5h.01M661.4 138.7h.01M722.0 167.7h.01M675.8 163.7h.01M795.7 225.1h.01M753.8 217.1h.01M805.8 291.8h.01M803.1 293.7h.01M777.3 295.3h.01M782.3 311.2h.01M740.9 276.0h.01M739.8 277.5h.01M742.2 272.8h.01M642.7 244.4h.01M677.7 247.5h.01M690.7 241.7h.01M390.7 416.1h.01M388.1 420.6h.01M416.8 440.5h.01M388.0 422.7h.01M409.5 394.2h.01M406.9 390.3h.01M475.3 432.3h.01M507.6 457.2h.01M504.7 454.3h.01M502.6 527.0h.01M536.9 513.9h.01M525.3 522.6h.01M457.0 571.2h.01M464.3 539.6h.01M440.7 563.1h.01M497.5 569.7h.01M436.2 560.3h.01M505.6 562.2h.01M539.6 471.6h.01M525.1 484.6h.01M529.5 516.1h.01M616.8 412.6h.01M593.1 407.7h.01M596.8 436.9h.01M627.7 430.3h.01M679.9 461.0h.01M214.2 570.5h.01M164.7 536.9h.01M209.6 574.7h.01M193.4 507.9h.01M200.8 516.3h.01M202.3 524.3h.01M216.5 510.2h.01M238.2 526.4h.01M183.2 551.7h.01M227.3 545.7h.01M202.3 548.3h.01M213.8 554.0h.01M969.8 705.7h.01M939.9 761.6h.01M1049.0 680.2h.01M1040.7 691.3h.01M963.2 717.1h.01M1030.8 728.3h.01M1017.3 697.5h.01M1065.6 679.5h.01M995.2 733.1h.01M1054.5 688.4h.01M1051.9 708.3h.01M1051.5 665.1h.01M1040.8 667.9h.01M972.0 688.5h.01M1031.4 638.5h.01M1054.9 669.3h.01M1035.8 641.1h.01M1049.4 713.3h.01M1060.9 704.0h.01M940.3 721.8h.01M348.2 815.3h.01M383.3 802.6h.01M383.2 732.9h.01M383.8 820.9h.01M357.6 757.6h.01M351.1 788.9h.01M341.7 732.0h.01M297.9 829.8h.01M353.6 836.2h.01M333.1 763.3h.01M375.9 809.7h.01M300.3 815.3h.01M363.1 748.7h.01M335.4 821.7h.01M342.7 839.8h.01M301.2 807.7h.01M303.1 805.4h.01M355.4 749.8h.01M391.7 815.8h.01M322.0 755.2h.01M349.1 788.9h.01M372.3 747.7h.01M322.8 784.1h.01M324.8 748.6h.01M307.7 848.0h.01M302.9 844.5h.01M309.5 801.2h.01M373.6 833.5h.01M387.3 854.8h.01M498.3 870.0h.01M636.7 681.7h.01M611.2 688.1h.01M627.5 661.0h.01M617.5 688.5h.01M666.3 709.5h.01M597.6 689.4h.01M582.8 748.7h.01M709.0 855.0h.01M705.7 849.6h.01M700.7 841.8h.01M634.5 903.5h.01M721.4 933.8h.01M712.0 933.7h.01M535.6 1000.6h.01M523.6 1007.9h.01M524.2 1007.7h.01"/>
<path stroke="#af91e5" d="M679.9 151.7h.01M706.9 157.3h.01M674.0 139.1h.01M715.9 173.8h.01M726.2 150.2h.01M710.9 183.5h.01M671.9 155.1h.01M711.9 191.1h.01M689.7 127.3h.01M683.0 184.9h.01M704.9 194.9h.01M708.0 166.9h.01M686.5 170.6h.01M720.4 177.5h.01M705.6 183.4h.01M772.8 224.6h.01M786.6 222.6h.01M737.5 221.5h.01M747.1 234.0h.01M776.4 215.3h.01M765.5 222.9h.01M785.0 227.0h.01M794.4 291.9h.01M824.8 294.9h.01M835.5 294.1h.01M837.8 289.4h.01M637.0 244.5h.01M659.6 242.2h.01M677.7 251.0h.01M677.1 239.0h.01M388.3 406.2h.01M396.7 393.4h.01M412.7 396.8h.01M409.5 388.3h.01M499.5 448.6h.01M478.9 455.4h.01M497.2 522.2h.01M458.2 585.4h.01M488.4 549.7h.01M597.4 419.4h.01M631.4 412.1h.01M676.4 457.1h.01M921.1 378.1h.01M185.4 511.8h.01M164.9 541.9h.01M162.4 540.5h.01M157.4 533.7h.01M179.7 522.8h.01M224.3 520.9h.01M227.4 514.5h.01M167.9 521.3h.01M238.8 526.6h.01M171.7 558.9h.01M224.1 523.9h.01M245.2 506.8h.01M975.3 768.7h.01M1066.2 663.4h.01M964.0 725.4h.01M945.0 713.5h.01M1043.7 654.6h.01M1046.8 642.0h.01M980.0 627.3h.01M1042.5 654.5h.01M979.3 630.7h.01M1022.5 665.0h.01M990.0 682.9h.01M1037.8 629.8h.01M958.2 664.2h.01M1051.9 720.5h.01M972.6 760.9h.01M998.4 723.1h.01M1027.9 681.9h.01M984.5 695.1h.01M978.5 673.0h.01M1021.8 677.2h.01M1024.9 646.5h.01M1004.4 637.5h.01M981.8 665.2h.01M1014.0 664.6h.01M1030.1 682.1h.01M1002.3 672.9h.01M1005.6 623.4h.01M992.8 674.7h.01M990.7 656.8h.01M995.2 678.2h.01M974.0 671.9h.01M1049.3 666.8h.01M1024.7 667.4h.01M1046.6 680.4h.01M1021.1 655.6h.01M1022.6 650.8h.01M993.1 673.5h.01M948.4 699.9h.01M351.9 754.9h.01M319.3 846.1h.01M382.0 821.4h.01M323.8 850.4h.01M374.0 771.8h.01M341.2 757.1h.01M322.5 768.4h.01M348.0 851.1h.01M341.7 808.8h.01M363.5 827.3h.01M316.1 845.3h.01M398.1 774.1h.01M363.9 831.9h.01M341.8 845.2h.01M400.3 797.7h.01M329.9 787.8h.01M331.6 797.8h.01M374.8 754.7h.01M361.0 790.3h.01M378.6 811.7h.01M341.7 796.2h.01M350.4 742.2h.01M311.2 828.0h.01M354.5 782.2h.01M358.2 805.6h.01M300.3 852.9h.01M337.5 859.6h.01M347.7 776.6h.01M334.3 804.9h.01M390.4 760.3h.01M334.7 861.5h.01M383.8 814.6h.01M366.7 823.9h.01M335.5 733.2h.01M309.2 844.1h.01M364.2 784.7h.01M337.2 729.8h.01M359.4 733.5h.01M394.9 783.5h.01M393.6 844.5h.01M382.8 843.2h.01M400.9 850.5h.01M425.8 821.7h.01M469.7 847.2h.01M430.4 842.8h.01M461.7 855.7h.01M405.6 820.8h.01M462.9 864.1h.01M457.2 856.2h.01M408.8 819.2h.01M413.1 827.1h.01M495.6 868.1h.01M623.3 678.6h.01M605.8 679.8h.01M633.7 708.6h.01M643.0 668.4h.01M560.9 773.6h.01M732.2 719.8h.01M716.1 853.1h.01M702.0 846.0h.01M721.4 848.9h.01M718.3 853.0h.01M716.0 851.6h.01M808.4 790.7h.01M629.8 890.7h.01M619.9 878.4h.01M705.5 935.7h.01"/>
<path stroke="#6a40f7" d="M714.3 173.2h.01M722.0 215.8h.01M728.4 216.7h.01M704.5 455.8h.01M895.5 370.0h.01M938.9 370.7h.01M940.0 367.1h.01M938.6 370.6h.01M944.1 370.6h.01M962.0 368.4h.01M939.7 361.2h.01M947.5 377.9h.01M941.1 360.1h.01M937.1 369.2h.01M804.3 790.4h.01"/>
<path stroke="#926aef" d="M685.0 173.0h.01M678.4 167.3h.01M733.1 190.1h.01M711.9 155.4h.01M730.3 162.6h.01M724.1 195.8h.01M692.2 172.8h.01M678.9 132.3h.01M715.8 206.1h.01M731.8 235.4h.01M740.1 201.2h.01M770.6 211.7h.01M793.3 233.1h.01M828.3 281.1h.01M506.0 563.0h.01M689.7 437.2h.01M668.1 449.4h.01M671.0 440.4h.01M713.8 452.5h.01M879.2 370.5h.01M862.1 365.7h.01M901.5 367.7h.01M927.2 364.1h.01M920.9 377.2h.01M950.9 370.7h.01M957.0 372.0h.01M946.4 372.3h.01M196.0 520.3h.01M1042.8 631.5h.01M1034.7 745.9h.01M1022.8 624.2h.01M993.4 734.1h.01M1031.6 631.2h.01M996.2 731.7h.01M995.3 696.9h.01M1007.5 686.4h.01M1041.7 668.3h.01M953.7 661.9h.01M952.3 656.3h.01M1035.4 670.1h.01M988.6 657.1h.01M966.8 679.1h.01M962.9 654.3h.01M1019.2 652.7h.01M969.4 646.8h.01M986.8 628.2h.01M1037.6 687.8h.01M1046.3 687.3h.01M1016.6 721.8h.01M984.5 744.5h.01M1023.9 722.2h.01M327.7 755.1h.01M353.7 786.9h.01M377.7 731.0h.01M357.5 812.7h.01M408.9 824.5h.01M453.6 846.3h.01M417.5 836.5h.01M489.4 868.5h.01M485.0 875.5h.01M625.7 675.6h.01M659.3 702.2h.01M807.1 795.3h.01M802.3 777.8h.01M810.7 793.7h.01M719.0 933.3h.01M715.1 946.8h.01"/>
<path stroke="#d3d3d3" d="M678.5 112.4h.01M701.9 187.6h.01M689.5 133.9h.01M686.0 138.8h.01M721.8 152.7h.01M685.6 168.9h.01M666.3 119.7h.01M698.4 151.7h.01M694.9 129.9h.01M715.7 118.5h.01M697.6 152.6h.01M665.0 155.2h.01M718.8 135.8h.01M728.0 171.0h.01M724.0 135.0h.01M691.5 169.4h.01M720.3 161.2h.01M689.2 119.0h.01M735.4 136.3h.01M678.6 127.5h.01M722.2 164.5h.01M700.5 154.2h.01M683.6 115.9h.01M664.1 117.9h.01M725.3 127.1h.01M669.1 165.4h.01M698.8 130.0h.01M708.7 176.8h.01M700.0 188.6h.01M772.5 207.8h.01M754.4 232.3h.01M764.9 217.3h.01M741.5 229.2h.01M730.0 201.0h.01M760.8 242.5h.01M741.1 225.2h.01M754.3 235.7h.01M794.1 234.6h.01M748.2 205.9h.01M799.8 235.0h.01M808.7 217.1h.01M775.8 204.7h.01M808.4 240.1h.01M810.5 219.6h.01M736.3 192.1h.01M748.3 186.3h.01M809.3 234.1h.01M736.8 204.5h.01M762.6 222.8h.01M767.1 213.6h.01M782.3 213.3h.01M742.9 194.0h.01M791.0 268.4h.01M774.9 256.4h.01M792.9 262.9h.01M782.3 261.2h.01M778.7 256.9h.01M779.4 248.8h.01M833.7 282.9h.01M804.9 285.4h.01M810.9 271.4h.01M837.8 290.1h.01M801.9 276.6h.01M820.9 289.9h.01M812.4 279.4h.01M834.5 292.8h.01M795.2 288.2h.01M823.7 278.2h.01M805.4 298.5h.01M822.4 279.4h.01M783.0 305.0h.01M678.9 194.4h.01M676.9 216.0h.01M660.7 244.3h.01M680.4 242.3h.01M661.8 241.2h.01M679.6 238.7h.01M672.7 236.5h.01M693.3 238.5h.01M691.8 246.7h.01M690.7 241.2h.01M690.1 243.6h.01M698.3 247.2h.01M412.9 389.4h.01M397.4 423.6h.01M389.9 428.4h.01M404.4 390.4h.01M384.7 406.8h.01M399.6 400.9h.01M414.2 440.5h.01M403.3 384.1h.01M403.0 407.1h.01M413.9 402.8h.01M407.2 415.2h.01M468.7 421.3h.01M464.8 458.7h.01M495.8 458.7h.01M485.3 454.7h.01M497.8 461.0h.01M464.7 452.5h.01M478.1 460.8h.01M528.0 443.9h.01M506.0 451.1h.01M509.5 452.8h.01M472.7 451.0h.01M503.9 448.5h.01M511.5 421.6h.01M509.0 424.3h.01M511.4 525.7h.01M507.1 509.1h.01M526.2 515.6h.01M514.7 520.5h.01M508.9 508.7h.01M495.4 514.4h.01M531.3 517.8h.01M512.4 521.5h.01M484.8 498.5h.01M493.8 519.4h.01M526.3 518.0h.01M457.2 531.9h.01M505.4 536.7h.01M518.4 554.6h.01M478.0 592.4h.01M475.4 541.7h.01M455.3 583.9h.01M456.9 593.2h.01M450.4 580.0h.01M480.4 537.2h.01M475.8 543.9h.01M482.2 581.0h.01M462.6 570.0h.01M434.1 577.5h.01M435.1 549.1h.01M464.1 584.3h.01M469.0 546.0h.01M463.6 591.1h.01M435.6 583.9h.01M445.0 578.3h.01M425.9 551.1h.01M448.8 583.0h.01M514.2 560.5h.01M595.0 470.1h.01M538.2 475.4h.01M565.6 469.1h.01M576.4 476.7h.01M519.4 500.1h.01M513.7 495.3h.01M529.4 485.6h.01M592.2 548.2h.01M578.4 536.2h.01M588.0 544.1h.01M611.7 398.5h.01M638.2 430.6h.01M600.0 411.0h.01M630.9 424.4h.01M604.8 412.2h.01M598.4 420.6h.01M622.6 403.0h.01M601.9 388.5h.01M637.3 428.4h.01M609.3 412.6h.01M633.1 419.9h.01M593.7 385.8h.01M582.2 454.3h.01M627.4 444.8h.01M583.4 451.0h.01M585.4 469.4h.01M615.9 467.1h.01M610.8 462.9h.01M680.1 430.4h.01M688.7 464.6h.01M663.4 449.1h.01M678.4 447.0h.01M695.7 463.2h.01M693.1 446.3h.01M700.8 458.3h.01M660.7 429.0h.01M700.6 457.1h.01M707.7 430.7h.01M703.2 459.7h.01M694.5 433.6h.01M677.1 448.9h.01M712.4 445.0h.01M693.0 464.6h.01M677.4 462.6h.01M764.3 595.1h.01M764.8 596.0h.01M766.1 587.8h.01M769.1 591.8h.01M777.7 595.0h.01M783.5 587.0h.01M775.0 599.6h.01M779.3 592.0h.01M780.9 588.7h.01M783.7 587.2h.01M959.6 359.5h.01M201.8 512.8h.01M213.1 568.1h.01M254.2 531.9h.01M208.3 507.9h.01M180.9 562.4h.01M207.2 553.1h.01M167.1 564.4h.01M232.4 528.3h.01M221.9 549.0h.01M187.4 546.7h.01M209.2 520.3h.01M250.6 544.4h.01M231.5 531.4h.01M157.9 554.4h.01M223.6 565.2h.01M175.2 562.3h.01M236.6 528.4h.01M168.9 538.9h.01M196.2 533.7h.01M166.8 562.5h.01M197.3 552.9h.01M164.8 549.4h.01M171.6 560.3h.01M211.8 516.7h.01M204.0 507.1h.01M244.0 540.7h.01M237.6 519.6h.01M224.6 519.5h.01M201.4 508.3h.01M244.1 533.2h.01M193.1 541.9h.01M185.2 522.9h.01M171.7 566.1h.01M160.6 555.9h.01M262.2 531.2h.01M272.7 531.2h.01M961.6 719.6h.01M981.6 733.6h.01M1009.7 683.4h.01M999.4 724.7h.01M1008.2 701.3h.01M992.7 678.0h.01M958.9 765.5h.01M1042.7 654.8h.01M1016.5 683.3h.01M1003.0 726.4h.01M959.0 744.9h.01M1032.3 724.1h.01M1012.3 767.6h.01M1047.5 693.2h.01M1040.7 731.2h.01M1034.5 645.1h.01M1032.7 715.3h.01M1037.1 740.9h.01M1033.0 691.5h.01M1051.6 659.3h.01M1029.4 743.1h.01M985.2 722.2h.01M1048.2 720.6h.01M1010.2 698.2h.01M955.5 705.8h.01M1000.5 776.7h.01M1043.5 706.4h.01M997.8 768.2h.01M1046.4 722.6h.01M988.1 767.9h.01M999.5 738.3h.01M1014.9 705.7h.01M1041.5 718.4h.01M981.5 699.5h.01M959.7 684.6h.01M1013.9 720.1h.01M996.5 732.4h.01M1006.9 759.5h.01M1056.9 647.0h.01M971.2 707.8h.01M1044.3 710.1h.01M984.6 678.2h.01M1031.5 673.9h.01M1058.8 695.9h.01M1017.9 627.1h.01M1003.0 691.5h.01M1032.7 644.6h.01M1004.9 686.1h.01M970.7 665.7h.01M1036.7 660.3h.01M1007.3 673.4h.01M966.5 750.4h.01M968.2 723.5h.01M1028.6 719.6h.01M966.2 779.6h.01M1032.5 741.0h.01M1050.3 675.6h.01M1026.1 717.8h.01M990.6 727.1h.01M1055.8 665.6h.01M999.7 648.5h.01M1002.6 685.9h.01M981.9 767.0h.01M987.3 653.2h.01M951.9 689.9h.01M961.7 691.1h.01M974.3 765.8h.01M1006.1 756.5h.01M1001.0 746.9h.01M981.1 663.8h.01M966.1 634.6h.01M969.6 741.6h.01M992.0 738.8h.01M948.9 740.6h.01M1012.5 684.7h.01M1037.4 743.0h.01M1041.0 713.1h.01M1060.9 702.8h.01M978.9 704.1h.01M1044.5 657.2h.01M989.4 665.0h.01M1021.7 709.4h.01M1047.7 712.2h.01M1025.1 750.7h.01M969.7 746.9h.01M965.7 672.0h.01M994.9 724.6h.01M1032.5 661.1h.01M1009.3 687.8h.01M959.4 655.0h.01M1009.3 631.1h.01M999.8 767.8h.01M967.8 721.1h.01M978.0 771.7h.01M1006.0 707.7h.01M1003.1 655.3h.01M1001.0 728.6h.01M965.1 740.2h.01M978.1 735.9h.01M1030.0 638.9h.01M963.4 717.0h.01M1002.7 751.5h.01M1042.3 731.1h.01M972.8 649.8h.01M1009.2 630.4h.01M1006.7 755.8h.01M992.8 724.4h.01M1008.6 771.1h.01M1022.2 720.8h.01M996.4 719.8h.01M945.8 732.7h.01M997.3 759.5h.01M1024.4 758.2h.01M969.0 759.2h.01M1049.1 722.3h.01M983.5 740.1h.01M968.5 737.2h.01M1015.8 715.4h.01M1057.0 710.1h.01M992.6 747.3h.01M1039.0 709.9h.01M1048.8 730.1h.01M955.3 748.4h.01M975.6 760.9h.01M1018.9 710.3h.01M1037.9 671.3h.01M1017.2 699.8h.01M963.2 633.6h.01M955.7 769.9h.01M1044.6 733.8h.01M956.1 686.8h.01M1033.8 741.0h.01M1002.3 673.7h.01M1042.4 646.1h.01M955.5 744.8h.01M954.7 670.7h.01M1004.0 615.9h.01M991.2 746.0h.01M980.1 763.0h.01M1009.4 662.6h.01M1008.1 633.4h.01M1012.7 729.9h.01M987.9 683.1h.01M959.5 678.2h.01M979.7 629.7h.01M989.0 692.9h.01M949.7 758.0h.01M965.6 737.9h.01M1002.2 626.1h.01M993.5 721.0h.01M1055.8 700.8h.01M1002.7 660.6h.01M976.5 688.9h.01M1007.1 751.3h.01M957.7 708.1h.01M1061.9 677.7h.01M961.4 659.5h.01M1018.5 655.2h.01M977.6 691.7h.01M954.9 742.9h.01M1018.5 684.1h.01M1014.5 747.6h.01M1026.5 664.8h.01M1041.6 661.9h.01M974.6 776.6h.01M983.6 658.3h.01M1042.1 670.4h.01M1053.7 680.7h.01M954.1 711.6h.01M956.5 734.6h.01M1026.9 670.4h.01M966.3 683.7h.01M990.8 747.7h.01M981.7 655.5h.01M1016.9 688.1h.01M988.3 683.6h.01M1062.3 645.5h.01M1031.3 717.9h.01M973.7 749.3h.01M1000.8 619.7h.01M1001.5 624.5h.01M948.0 769.0h.01M1032.3 748.0h.01M963.0 658.7h.01M978.3 642.9h.01M1027.8 753.1h.01M938.8 762.9h.01M1029.9 711.1h.01M1037.9 633.5h.01M1010.7 774.6h.01M1047.0 715.7h.01M956.2 709.6h.01M981.4 700.3h.01M1014.5 634.0h.01M1056.1 694.1h.01M965.1 749.8h.01M949.9 749.8h.01M1049.7 719.4h.01M1040.5 686.0h.01M1024.1 639.4h.01M963.1 750.7h.01M997.6 626.0h.01M968.1 667.3h.01M967.5 749.0h.01M944.5 757.3h.01M953.0 741.9h.01M996.2 716.2h.01M983.2 758.1h.01M1012.7 686.2h.01M969.0 775.6h.01M1044.8 731.9h.01M952.1 718.9h.01M970.4 745.3h.01M1056.9 685.1h.01M1038.9 708.0h.01M991.5 654.1h.01M1009.3 733.7h.01M985.8 644.4h.01M1007.8 630.0h.01M1003.1 689.7h.01M970.1 737.8h.01M1048.0 653.9h.01M962.6 737.1h.01M1055.1 702.8h.01M987.1 766.4h.01M1006.8 630.7h.01M1035.1 667.3h.01M1034.4 697.2h.01M989.4 676.6h.01M919.2 763.5h.01M949.3 658.0h.01M935.0 679.8h.01M938.6 701.2h.01M916.7 766.3h.01M946.0 674.6h.01M932.9 684.5h.01M939.8 777.5h.01M907.4 709.9h.01M924.8 760.8h.01M919.0 779.6h.01M903.9 716.8h.01M945.4 690.9h.01M943.9 738.9h.01M936.4 731.3h.01M932.4 768.3h.01M929.9 704.1h.01M930.6 676.8h.01M941.9 678.2h.01M927.8 716.0h.01M929.3 714.5h.01M910.1 742.7h.01M921.2 741.3h.01M929.0 761.9h.01M920.1 761.7h.01M943.6 717.6h.01M932.5 784.3h.01M941.5 771.5h.01M341.1 768.5h.01M383.4 763.7h.01M375.8 741.6h.01M352.7 762.0h.01M302.8 819.5h.01M343.1 716.2h.01M365.0 810.6h.01M321.3 826.4h.01M319.5 831.2h.01M335.3 722.1h.01M334.9 720.9h.01M352.8 801.9h.01M337.2 759.7h.01M351.7 761.3h.01M367.3 829.5h.01M360.1 737.8h.01M299.0 813.9h.01M335.4 731.4h.01M400.3 801.3h.01M323.8 835.7h.01M355.6 788.7h.01M308.4 828.0h.01M311.6 862.5h.01M371.4 820.2h.01M381.9 810.5h.01M326.6 781.5h.01M369.3 780.2h.01M342.0 726.4h.01M336.7 731.6h.01M341.4 805.6h.01M338.2 718.2h.01M341.7 808.5h.01M346.4 788.7h.01M325.2 801.1h.01M333.4 739.2h.01M346.4 853.1h.01M363.0 811.7h.01M305.9 814.8h.01M325.4 730.3h.01M336.4 829.6h.01M324.7 763.4h.01M339.7 807.1h.01M336.2 774.6h.01M324.9 833.0h.01M340.2 844.6h.01M345.6 738.6h.01M310.0 822.0h.01M303.7 857.0h.01M334.0 724.9h.01M373.1 727.9h.01M383.0 744.4h.01M375.5 729.4h.01M376.7 725.3h.01M363.6 725.9h.01M374.4 741.1h.01M362.0 852.4h.01M365.2 837.6h.01M381.5 848.8h.01M372.0 846.4h.01M394.2 836.5h.01M452.6 842.5h.01M461.8 856.3h.01M416.2 818.2h.01M452.0 848.6h.01M478.9 867.3h.01M488.3 878.4h.01M468.6 855.5h.01M486.2 867.8h.01M410.1 836.2h.01M475.6 856.3h.01M497.8 868.4h.01M485.7 876.4h.01M487.2 875.2h.01M484.4 879.8h.01M494.2 879.5h.01M676.4 725.6h.01M592.3 681.3h.01M606.8 649.9h.01M667.5 703.4h.01M636.6 695.6h.01M613.1 693.5h.01M651.3 672.7h.01M648.8 673.2h.01M662.9 686.5h.01M603.4 650.0h.01M614.6 692.6h.01M643.5 689.1h.01M605.3 661.7h.01M647.9 710.2h.01M663.8 703.0h.01M626.7 655.3h.01M659.5 710.4h.01M675.4 721.2h.01M588.4 739.1h.01M584.3 740.7h.01M583.3 741.9h.01M567.7 782.5h.01M553.3 779.6h.01M576.3 770.6h.01M546.1 768.4h.01M568.9 774.1h.01M545.6 763.9h.01M573.8 772.8h.01M569.4 780.6h.01M711.5 845.0h.01M714.3 853.6h.01M721.3 848.2h.01M720.5 839.1h.01M742.0 843.7h.01M635.2 901.3h.01M620.8 871.7h.01M624.7 924.8h.01M636.0 917.6h.01M697.8 935.4h.01M706.6 936.6h.01M717.2 940.6h.01M724.2 937.1h.01M718.9 945.2h.01M517.9 974.6h.01"/>
<path stroke="#0000ff" d="M721.6 213.8h.01"/>
<path stroke="#a784e9" d="M728.3 181.9h.01M699.9 128.0h.01M706.5 146.8h.01M681.6 180.4h.01M672.5 153.0h.01M699.3 158.8h.01M741.7 176.1h.01M723.1 150.8h.01M695.5 185.3h.01M675.8 133.1h.01M704.2 181.8h.01M687.6 182.9h.01M673.9 154.4h.01M668.3 170.9h.01M814.6 223.9h.01M750.9 204.6h.01M824.8 212.7h.01M819.3 232.4h.01M805.9 282.3h.01M824.1 295.3h.01M798.7 311.4h.01M780.6 295.2h.01M784.8 308.5h.01M788.2 305.1h.01M676.4 251.5h.01M710.0 228.9h.01M406.1 404.5h.01M385.0 399.8h.01M521.5 437.7h.01M499.5 450.4h.01M518.1 524.0h.01M503.4 571.0h.01M506.9 563.9h.01M453.6 593.0h.01M491.5 551.2h.01M642.8 429.0h.01M614.5 395.8h.01M609.1 406.2h.01M613.9 438.3h.01M653.7 461.0h.01M693.5 443.5h.01M678.8 455.5h.01M885.7 372.5h.01M160.9 537.1h.01M235.4 514.9h.01M160.2 551.9h.01M1054.6 647.3h.01M1026.2 700.1h.01M1045.2 699.2h.01M1026.6 659.5h.01M964.2 636.9h.01M977.6 681.7h.01M971.0 700.6h.01M1049.2 634.5h.01M994.1 661.2h.01M973.6 684.6h.01M964.3 684.5h.01M984.0 730.4h.01M1014.6 646.5h.01M1014.2 677.7h.01M1054.0 685.6h.01M1012.3 693.7h.01M1003.5 676.1h.01M1012.5 636.8h.01M1057.3 679.2h.01M1002.0 688.2h.01M1060.9 689.4h.01M981.3 724.1h.01M1006.5 653.7h.01M969.8 643.2h.01M1033.5 749.5h.01M1045.4 698.3h.01M937.4 706.0h.01M916.0 770.1h.01M321.4 737.2h.01M351.2 763.1h.01M368.6 792.0h.01M319.3 763.9h.01M364.4 779.6h.01M363.0 834.2h.01M358.4 780.6h.01M310.0 814.0h.01M329.5 795.8h.01M320.8 797.8h.01M321.6 796.0h.01M350.1 747.0h.01M345.4 754.2h.01M332.0 740.3h.01M321.8 854.0h.01M350.8 851.2h.01M392.8 810.6h.01M325.5 826.9h.01M292.8 818.2h.01M326.0 825.2h.01M338.0 739.2h.01M319.5 802.7h.01M332.6 746.2h.01M395.3 818.8h.01M345.5 793.4h.01M359.4 827.0h.01M317.9 799.9h.01M301.9 840.2h.01M353.9 856.5h.01M438.4 867.3h.01M455.6 844.6h.01M441.0 836.1h.01M506.0 875.4h.01M621.6 685.2h.01M600.2 686.7h.01M572.2 756.7h.01M734.7 714.8h.01M711.8 846.0h.01M708.1 860.1h.01M798.2 790.0h.01M803.4 792.5h.01M634.3 900.0h.01M636.3 918.8h.01M639.2 905.8h.01M714.8 938.4h.01M520.5 981.2h.01M531.8 1008.2h.01"/>
<path stroke="#3e1ffc" d="M729.5 235.4h.01M723.4 217.9h.01M956.3 369.3h.01M913.4 739.2h.01"/>
<path stroke="#5731fa" d="M731.2 232.3h.01M727.2 213.0h.01M862.8 365.9h.01M880.8 373.4h.01M897.4 369.3h.01M930.3 352.5h.01M959.1 366.5h.01M956.5 365.7h.01M943.1 369.2h.01M962.9 369.5h.01M959.7 373.6h.01"/>
<path stroke="#bfabdf" d="M667.7 137.7h.01M716.7 140.9h.01M720.9 189.0h.01M834.9 282.0h.01M826.6 279.4h.01M830.5 285.0h.01M677.5 219.7h.01M712.7 229.3h.01M388.5 399.0h.01M392.2 395.0h.01M490.6 474.8h.01M485.4 507.4h.01M539.7 473.7h.01M586.4 471.1h.01M607.9 460.5h.01M627.7 464.6h.01M696.6 428.0h.01M201.0 567.0h.01M245.9 540.7h.01M190.3 519.2h.01M157.7 540.7h.01M975.2 659.8h.01M996.1 718.0h.01M965.1 727.7h.01M1038.8 694.1h.01M1038.5 692.0h.01M967.4 681.4h.01M1029.9 674.4h.01M988.2 717.3h.01M985.6 687.5h.01M342.1 722.6h.01M317.1 801.4h.01M321.4 778.5h.01M306.2 837.6h.01M375.4 753.9h.01M359.3 801.5h.01M316.5 839.5h.01M323.6 835.6h.01M297.3 828.4h.01M427.1 819.1h.01M507.3 878.3h.01M660.1 709.9h.01M613.9 693.4h.01M573.1 754.9h.01M534.3 1005.6h.01M530.7 1004.5h.01"/>
<path stroke="#c6b9db" d="M725.4 133.1h.01M717.9 147.4h.01M743.8 214.6h.01M818.7 234.2h.01M734.6 229.4h.01M770.2 289.7h.01M538.8 490.5h.01M208.3 550.8h.01M197.3 507.9h.01M180.9 566.5h.01M222.7 560.4h.01M240.7 530.3h.01M951.6 700.4h.01M993.0 685.3h.01M1040.8 692.7h.01M958.5 766.3h.01M1039.7 726.0h.01M1026.0 691.7h.01M1054.0 691.5h.01M1025.3 680.3h.01M948.9 678.1h.01M337.7 728.8h.01M367.1 806.0h.01M381.2 743.2h.01M366.9 723.3h.01M362.3 752.0h.01M376.8 804.4h.01"/>
<path stroke="#9d77ec" d="M727.4 161.2h.01M709.5 187.4h.01M728.9 159.6h.01M689.9 179.0h.01M713.0 119.5h.01M703.1 136.1h.01M694.2 170.2h.01M721.7 194.1h.01M725.2 191.5h.01M774.1 220.2h.01M732.7 207.3h.01M752.9 216.9h.01M797.6 228.3h.01M812.4 281.7h.01M723.3 234.6h.01M503.8 526.4h.01M466.9 561.9h.01M524.8 492.4h.01M608.5 466.4h.01M713.2 444.0h.01M712.1 442.3h.01M893.5 370.4h.01M919.4 366.6h.01M910.8 367.6h.01M954.6 373.2h.01M1025.0 729.1h.01M1057.1 647.7h.01M1024.9 684.2h.01M1047.4 688.9h.01M1057.9 645.9h.01M1062.8 665.5h.01M983.7 680.9h.01M966.1 774.6h.01M960.7 701.2h.01M1038.7 679.6h.01M1028.6 632.5h.01M1027.4 686.0h.01M985.5 700.5h.01M987.2 674.6h.01M988.3 657.3h.01M1034.5 650.9h.01M993.3 665.7h.01M1022.4 646.2h.01M989.4 628.9h.01M1012.1 692.4h.01M1005.0 632.9h.01M976.9 631.6h.01M1007.6 638.7h.01M1027.3 727.5h.01M1023.3 720.4h.01M1047.1 727.8h.01M1041.4 704.0h.01M1010.6 702.2h.01M1033.6 714.1h.01M990.2 708.6h.01M1046.4 660.0h.01M1036.4 649.8h.01M1033.4 753.8h.01M350.4 847.7h.01M291.9 817.9h.01M321.9 859.5h.01M331.5 791.7h.01M364.0 829.2h.01M352.7 718.3h.01M306.6 837.4h.01M318.6 762.6h.01M326.2 825.1h.01M315.9 839.6h.01M344.0 844.3h.01M301.7 850.5h.01M348.9 848.5h.01M353.0 761.2h.01M448.5 844.6h.01M407.5 809.5h.01M464.6 867.7h.01M485.2 870.9h.01M670.3 699.7h.01M694.4 843.8h.01M717.2 943.2h.01M520.8 976.7h.01M527.8 1007.0h.01"/>
<path stroke="#794ff4" d="M712.6 202.9h.01M719.2 180.5h.01M724.0 198.2h.01M727.8 218.4h.01M727.8 221.5h.01M724.7 226.2h.01M683.4 455.2h.01M700.0 426.7h.01M877.1 371.4h.01M861.5 366.5h.01M867.4 372.9h.01M862.6 368.3h.01M861.3 363.3h.01M864.4 367.6h.01M901.8 368.4h.01M888.2 373.9h.01M947.9 365.0h.01M944.6 362.0h.01M947.8 373.7h.01M1004.8 669.7h.01M1034.2 647.4h.01M979.3 661.6h.01M635.5 916.6h.01"/>
<path stroke="#875cf2" d="M710.8 188.2h.01M698.8 134.2h.01M739.6 149.0h.01M665.1 152.8h.01M715.5 205.9h.01M725.3 193.4h.01M714.7 179.5h.01M876.6 372.0h.01M904.5 371.6h.01M914.0 366.3h.01M929.5 375.8h.01M945.5 369.7h.01M962.3 369.8h.01M954.9 365.2h.01M990.7 709.0h.01M987.9 747.6h.01M960.9 776.6h.01M1013.1 654.5h.01M982.2 651.2h.01M981.5 686.0h.01M988.5 685.9h.01M1027.1 670.2h.01M994.5 659.3h.01M996.6 643.4h.01M993.4 748.7h.01M1010.9 676.4h.01M927.8 775.2h.01M378.9 745.5h.01M302.9 848.0h.01M654.9 699.4h.01M648.0 677.7h.01M810.4 793.7h.01M715.9 948.8h.01"/>
<path stroke="#af91e5" d="M693.9 133.1h.01M724.5 179.1h.01M736.9 146.2h.01M727.6 159.2h.01M701.6 192.5h.01M699.6 136.9h.01M701.7 143.5h.01M726.6 194.5h.01M721.4 173.5h.01M706.9 126.7h.01M679.8 159.0h.01M762.1 240.9h.01M740.5 223.1h.01M748.9 193.3h.01M787.9 223.4h.01M786.6 269.5h.01M819.0 278.9h.01M802.5 281.8h.01M777.7 303.3h.01M744.2 272.9h.01M670.6 223.8h.01M675.1 208.3h.01M678.0 210.9h.01M715.0 235.1h.01M399.1 413.3h.01M400.1 405.7h.01M398.6 424.1h.01M409.4 398.8h.01M411.9 436.1h.01M400.7 390.2h.01M410.1 393.9h.01M508.9 457.8h.01M484.9 498.9h.01M459.7 533.5h.01M490.0 568.7h.01M509.5 570.6h.01M519.4 556.9h.01M639.4 418.7h.01M623.6 462.0h.01M637.9 465.6h.01M692.1 459.2h.01M705.7 445.3h.01M687.2 439.7h.01M656.8 432.3h.01M715.1 440.0h.01M204.0 534.9h.01M198.4 513.6h.01M212.4 566.7h.01M162.1 563.6h.01M189.4 548.6h.01M174.8 534.9h.01M167.8 534.7h.01M242.2 507.9h.01M997.5 751.5h.01M1049.9 661.7h.01M1029.9 677.6h.01M993.3 771.3h.01M952.0 691.0h.01M1006.3 631.4h.01M988.3 706.8h.01M1032.7 742.4h.01M955.3 686.0h.01M972.4 697.6h.01M1046.1 714.0h.01M1025.5 659.8h.01M987.9 670.4h.01M1032.2 739.5h.01M1017.2 668.5h.01M981.0 667.5h.01M989.3 624.4h.01M968.2 683.7h.01M1046.0 658.1h.01M996.2 655.5h.01M1029.1 694.2h.01M1021.2 677.9h.01M1032.3 653.0h.01M1021.4 698.4h.01M999.5 628.5h.01M1056.9 684.8h.01M973.0 719.4h.01M988.2 698.9h.01M1047.9 689.6h.01M1060.2 669.6h.01M1025.9 721.2h.01M1020.4 684.6h.01M976.0 686.6h.01M1051.8 730.7h.01M979.6 731.3h.01M1010.4 747.0h.01M984.0 670.9h.01M1015.8 763.1h.01M917.9 779.0h.01M945.7 718.7h.01M350.4 759.9h.01M375.6 818.8h.01M377.9 799.3h.01M337.6 724.5h.01M327.4 823.5h.01M366.9 728.3h.01M347.8 752.7h.01M313.7 816.8h.01M320.7 799.3h.01M387.8 760.7h.01M324.1 759.9h.01M336.5 824.8h.01M403.8 814.9h.01M363.1 725.2h.01M327.6 854.8h.01M318.1 753.1h.01M335.9 754.7h.01M306.9 811.0h.01M390.2 761.0h.01M316.4 810.1h.01M325.2 858.4h.01M398.4 804.5h.01M325.8 734.6h.01M352.4 786.3h.01M300.0 844.1h.01M338.0 851.7h.01M302.1 824.7h.01M381.9 737.5h.01M386.5 767.3h.01M491.3 876.9h.01M419.4 838.9h.01M413.0 838.9h.01M406.5 817.4h.01M491.4 878.6h.01M499.9 880.1h.01M509.2 876.4h.01M489.0 875.3h.01M630.4 688.2h.01M640.6 702.5h.01M592.4 671.7h.01M597.8 717.8h.01M592.9 729.1h.01M555.1 768.3h.01M725.2 856.1h.01M723.4 846.6h.01M722.8 850.8h.01M515.8 1016.5h.01"/>
<path stroke="#0000ff" d="M950.3 371.6h.01"/>
<path stroke="#b89ee2" d="M683.8 134.0h.01M707.0 169.9h.01M661.5 139.9h.01M670.8 174.8h.01M711.4 128.2h.01M728.1 168.5h.01M734.8 147.0h.01M717.6 140.0h.01M720.7 177.6h.01M698.3 153.0h.01M686.5 158.3h.01M666.6 150.0h.01M664.4 154.9h.01M689.8 173.9h.01M674.9 173.5h.01M758.1 230.5h.01M756.5 197.4h.01M755.4 238.9h.01M826.9 292.5h.01M839.1 299.3h.01M750.7 267.7h.01M678.2 197.0h.01M705.1 238.3h.01M422.4 395.7h.01M398.2 424.0h.01M401.3 431.8h.01M398.3 396.5h.01M422.7 391.5h.01M430.8 419.1h.01M464.1 446.3h.01M468.4 449.8h.01M491.4 484.9h.01M485.4 507.4h.01M512.7 513.5h.01M489.0 510.2h.01M445.4 595.2h.01M445.7 561.9h.01M511.2 494.3h.01M572.4 531.0h.01M612.0 388.6h.01M603.5 417.1h.01M630.4 460.3h.01M682.8 455.7h.01M652.7 451.9h.01M720.0 447.3h.01M181.6 567.5h.01M213.0 517.5h.01M213.9 514.9h.01M169.2 526.7h.01M180.7 557.3h.01M183.8 565.2h.01M201.8 554.6h.01M187.5 544.2h.01M956.5 655.9h.01M965.7 684.4h.01M1009.6 713.2h.01M999.6 660.9h.01M1060.3 690.8h.01M1010.4 658.0h.01M1030.9 643.2h.01M983.2 638.4h.01M971.9 713.2h.01M1020.4 637.2h.01M972.8 672.5h.01M1035.7 655.2h.01M960.6 676.1h.01M1033.4 660.5h.01M1009.6 620.6h.01M979.2 643.0h.01M953.0 679.1h.01M1012.3 624.6h.01M957.4 632.9h.01M1009.8 685.1h.01M991.7 645.4h.01M1020.1 678.5h.01M1060.5 681.9h.01M1017.5 721.8h.01M989.1 702.6h.01M982.4 657.3h.01M1001.8 680.7h.01M336.5 788.0h.01M356.9 733.5h.01M400.6 772.9h.01M337.6 766.3h.01M341.8 844.3h.01M294.6 822.0h.01M358.5 758.0h.01M334.4 762.3h.01M358.4 797.1h.01M302.3 825.6h.01M332.8 807.7h.01M325.9 854.3h.01M395.9 799.7h.01M343.0 792.1h.01M342.2 743.0h.01M324.4 843.3h.01M400.3 809.2h.01M405.7 814.1h.01M340.7 727.6h.01M408.3 828.8h.01M330.0 752.1h.01M289.8 843.6h.01M336.9 749.8h.01M331.2 766.4h.01M334.2 751.1h.01M358.4 837.7h.01M353.7 829.8h.01M312.0 805.0h.01M425.6 825.0h.01M493.6 876.5h.01M489.9 875.7h.01M507.5 880.5h.01M615.1 648.3h.01M637.4 697.8h.01M653.8 676.5h.01M590.6 731.1h.01M713.9 849.5h.01M696.3 849.4h.01M704.2 846.1h.01M812.0 795.0h.01M528.0 1008.9h.01"/>
<path stroke="#3e1ffc" d="M723.4 227.4h.01"/>
<path stroke="#d3d3d3" d="M728.1 182.5h.01M719.7 187.6h.01M665.6 160.7h.01M715.5 171.0h.01M669.6 126.5h.01M685.1 118.6h.01M706.9 171.5h.01M682.1 137.7h.01M713.7 119.8h.01M727.4 160.0h.01M689.3 141.5h.01M705.3 150.3h.01M716.2 162.8h.01M721.7 152.2h.01M689.7 156.5h.01M681.1 143.5h.01M664.2 130.9h.01M671.4 168.4h.01M674.5 129.8h.01M714.4 193.0h.01M681.1 135.3h.01M703.6 127.5h.01M694.8 147.9h.01M686.0 119.7h.01M674.9 147.9h.01M720.6 127.2h.01M677.0 168.1h.01M704.6 139.2h.01M672.4 156.8h.01M694.0 167.9h.01M677.4 174.1h.01M680.5 181.1h.01M772.2 219.0h.01M747.3 232.8h.01M732.1 195.0h.01M782.8 221.7h.01M753.7 228.7h.01M822.1 233.5h.01M799.0 228.9h.01M763.7 229.2h.01M752.7 238.9h.01M813.9 218.7h.01M749.5 224.8h.01M798.2 237.5h.01M745.9 218.3h.01M741.3 200.6h.01M754.9 194.9h.01M784.7 233.5h.01M806.2 226.6h.01M785.0 203.5h.01M739.1 202.3h.01M786.3 268.8h.01M788.4 275.8h.01M803.8 280.4h.01M835.3 291.8h.01M822.5 273.2h.01M826.8 282.0h.01M799.7 279.7h.01M828.2 287.2h.01M809.5 271.8h.01M805.3 284.1h.01M789.2 305.0h.01M783.4 306.8h.01M792.0 319.2h.01M798.3 318.0h.01M793.4 306.5h.01M644.1 243.8h.01M702.7 244.9h.01M696.4 247.8h.01M722.8 230.8h.01M702.0 232.4h.01M707.7 233.9h.01M396.2 418.1h.01M382.7 415.3h.01M427.1 403.0h.01M398.8 433.0h.01M419.5 405.5h.01M411.8 401.9h.01M419.2 390.6h.01M384.0 416.8h.01M423.2 398.6h.01M418.2 392.5h.01M452.8 411.1h.01M448.6 414.4h.01M423.6 416.7h.01M428.4 416.4h.01M465.5 421.1h.01M476.5 435.5h.01M470.7 427.1h.01M479.4 439.1h.01M465.5 419.2h.01M482.1 450.7h.01M481.3 452.5h.01M463.1 448.8h.01M493.8 453.9h.01M457.9 454.7h.01M492.2 484.3h.01M493.8 491.2h.01M490.6 498.3h.01M500.7 514.0h.01M505.9 510.8h.01M514.1 530.7h.01M437.3 581.5h.01M516.6 552.3h.01M450.2 569.0h.01M446.9 559.5h.01M505.4 560.8h.01M507.5 563.1h.01M434.6 564.5h.01M479.5 573.5h.01M469.4 543.3h.01M481.5 547.7h.01M436.2 572.9h.01M503.0 572.7h.01M478.0 569.2h.01M432.9 560.0h.01M444.0 528.7h.01M429.6 544.3h.01M455.5 569.4h.01M462.1 526.3h.01M482.6 585.2h.01M514.3 547.6h.01M507.2 538.2h.01M520.3 542.0h.01M452.6 525.5h.01M520.3 502.4h.01M529.4 497.4h.01M567.7 470.5h.01M536.5 480.9h.01M528.7 484.3h.01M575.2 476.0h.01M601.1 468.2h.01M514.2 492.8h.01M593.0 548.3h.01M566.1 527.0h.01M584.5 543.4h.01M645.5 426.8h.01M612.5 389.9h.01M601.6 399.2h.01M597.6 424.8h.01M590.4 391.9h.01M595.7 396.4h.01M628.8 415.8h.01M607.5 400.7h.01M622.1 421.3h.01M602.6 405.3h.01M630.5 409.4h.01M611.9 399.1h.01M628.9 407.7h.01M627.0 430.9h.01M616.3 433.3h.01M577.5 460.9h.01M599.0 454.7h.01M624.9 449.5h.01M571.4 459.1h.01M626.8 465.5h.01M605.7 463.0h.01M632.2 461.2h.01M618.2 461.6h.01M577.7 474.4h.01M635.7 460.0h.01M697.2 455.7h.01M672.4 453.3h.01M697.2 437.5h.01M672.4 455.9h.01M681.2 425.0h.01M713.5 460.5h.01M693.2 424.9h.01M718.3 460.1h.01M708.3 454.6h.01M674.2 454.4h.01M662.6 460.8h.01M684.6 430.8h.01M691.2 437.7h.01M671.7 457.9h.01M664.9 458.5h.01M655.8 426.4h.01M720.8 447.1h.01M765.5 586.3h.01M766.7 596.0h.01M770.8 598.8h.01M774.3 597.0h.01M777.8 586.8h.01M196.1 566.3h.01M196.4 518.0h.01M165.1 549.2h.01M244.2 540.3h.01M225.5 554.2h.01M209.7 570.2h.01M185.4 559.0h.01M204.0 512.8h.01M230.5 517.0h.01M185.0 533.2h.01M187.3 509.7h.01M168.0 548.0h.01M243.6 537.8h.01M223.2 522.6h.01M210.0 566.5h.01M164.5 533.9h.01M254.0 541.0h.01M188.0 532.5h.01M179.6 537.0h.01M233.9 530.7h.01M217.8 553.2h.01M224.4 557.9h.01M188.8 520.6h.01M230.8 543.8h.01M196.9 533.5h.01M177.2 550.9h.01M236.0 547.5h.01M185.2 558.8h.01M194.7 519.7h.01M227.0 535.1h.01M173.9 553.2h.01M208.5 527.3h.01M234.6 523.8h.01M184.3 556.8h.01M174.1 525.6h.01M198.4 567.3h.01M246.5 532.6h.01M194.1 549.4h.01M209.9 517.7h.01M218.5 575.8h.01M192.9 541.0h.01M202.5 565.4h.01M158.4 551.9h.01M215.8 543.0h.01M183.9 523.1h.01M208.4 543.0h.01M164.3 542.3h.01M192.0 561.4h.01M274.5 531.8h.01M1001.5 735.5h.01M999.4 719.8h.01M1055.0 649.2h.01M975.1 726.6h.01M1021.8 669.5h.01M1003.5 759.1h.01M1066.1 655.4h.01M969.3 739.8h.01M1034.1 689.7h.01M948.5 749.5h.01M992.3 682.6h.01M997.1 647.7h.01M948.2 768.1h.01M984.0 642.1h.01M1014.3 742.3h.01M1050.0 683.5h.01M1008.2 633.0h.01M964.4 669.7h.01M969.1 706.2h.01M1028.3 755.2h.01M1057.5 705.7h.01M1017.3 685.8h.01M1014.4 745.2h.01M1010.9 739.4h.01M999.4 671.1h.01M1055.6 680.4h.01M1009.4 656.6h.01M1036.7 740.4h.01M1060.9 685.1h.01M998.6 631.6h.01M967.0 771.7h.01M978.1 741.7h.01M1021.8 693.0h.01M1046.7 644.5h.01M1005.4 738.6h.01M1026.8 697.4h.01M1023.9 680.9h.01M1004.6 778.0h.01M1048.1 722.2h.01M979.2 686.9h.01M955.4 758.5h.01M943.9 760.7h.01M1036.4 689.0h.01M980.2 713.3h.01M1049.2 715.0h.01M1004.4 677.4h.01M1023.5 732.9h.01M1062.0 687.3h.01M1062.8 685.9h.01M992.0 734.7h.01M975.1 637.6h.01M983.7 693.2h.01M994.5 657.6h.01M1057.9 661.1h.01M981.5 717.8h.01M962.7 717.2h.01M1022.2 678.3h.01M985.7 668.4h.01M983.5 665.9h.01M1001.9 763.0h.01M1004.0 686.2h.01M951.6 734.8h.01M1054.5 660.7h.01M949.2 703.9h.01M1055.0 691.2h.01M1019.6 766.4h.01M993.6 673.1h.01M982.3 707.4h.01M1007.8 752.9h.01M989.3 700.3h.01M965.8 703.9h.01M1013.6 752.7h.01M989.3 751.6h.01M1010.7 775.5h.01M979.3 633.0h.01M960.6 668.3h.01M958.9 694.6h.01M988.5 638.9h.01M1024.9 702.5h.01M1036.3 671.4h.01M962.3 661.9h.01M998.1 731.4h.01M961.3 654.0h.01M985.9 743.2h.01M1037.0 693.8h.01M980.3 722.3h.01M986.8 713.2h.01M1005.0 725.7h.01M1047.8 702.3h.01M1043.8 716.5h.01M947.5 736.6h.01M1016.3 627.2h.01M985.0 738.1h.01M1000.5 693.3h.01M978.6 648.9h.01M977.4 712.1h.01M1015.1 643.5h.01M969.3 750.5h.01M1012.2 744.2h.01M995.2 695.3h.01M1039.7 642.0h.01M960.9 694.3h.01M971.2 683.8h.01M1054.9 646.9h.01M1019.5 632.0h.01M1013.9 693.4h.01M1019.2 739.4h.01M992.7 720.8h.01M1036.7 669.4h.01M969.3 666.5h.01M1047.7 702.6h.01M979.4 705.0h.01M1009.8 748.0h.01M1026.2 684.7h.01M996.3 728.2h.01M1029.0 670.0h.01M1004.9 688.0h.01M1021.4 656.2h.01M1036.5 687.5h.01M1015.4 773.2h.01M991.8 677.7h.01M958.0 770.7h.01M1005.4 697.6h.01M987.3 636.5h.01M1025.5 636.5h.01M1050.1 713.5h.01M1020.5 759.8h.01M967.4 752.2h.01M1050.5 692.7h.01M1006.1 648.9h.01M1018.0 734.8h.01M1022.8 695.8h.01M1054.7 706.8h.01M990.5 646.4h.01M982.4 641.5h.01M1012.5 776.4h.01M1062.4 679.9h.01M1053.7 657.7h.01M1026.0 664.7h.01M1034.6 728.8h.01M938.7 763.0h.01M954.3 699.2h.01M999.4 720.5h.01M1059.7 687.7h.01M1031.3 716.8h.01M987.6 640.7h.01M974.2 705.2h.01M999.9 755.4h.01M1013.3 652.6h.01M964.1 753.9h.01M1027.6 679.5h.01M1028.1 648.3h.01M1053.7 666.4h.01M949.8 696.2h.01M957.9 763.9h.01M1050.2 728.0h.01M1046.7 699.4h.01M1025.7 637.2h.01M1054.8 691.9h.01M1011.0 685.2h.01M1019.6 629.6h.01M975.1 648.4h.01M1014.4 741.3h.01M985.1 749.6h.01M963.7 737.2h.01M1041.1 705.0h.01M960.7 668.5h.01M1061.3 681.7h.01M1064.2 681.6h.01M1013.0 631.7h.01M970.1 683.0h.01M990.2 779.8h.01M1009.8 698.3h.01M973.7 753.0h.01M949.7 759.6h.01M950.8 766.1h.01M981.3 754.0h.01M957.5 751.2h.01M999.3 767.2h.01M997.7 711.4h.01M1011.5 774.7h.01M991.7 673.7h.01M965.7 729.6h.01M1004.0 750.4h.01M980.8 718.7h.01M1064.7 686.4h.01M1028.9 681.3h.01M980.5 677.1h.01M981.7 639.7h.01M1011.5 748.6h.01M976.7 672.1h.01M965.9 780.0h.01M971.7 770.1h.01M979.1 762.9h.01M979.0 700.0h.01M1038.3 742.1h.01M983.3 685.8h.01M1043.2 657.8h.01M1038.6 740.4h.01M1007.4 626.9h.01M1008.4 777.2h.01M977.7 705.4h.01M979.5 639.1h.01M979.3 712.5h.01M977.6 704.7h.01M955.1 739.5h.01M1001.1 735.5h.01M1031.6 727.8h.01M1023.8 690.1h.01M997.6 653.7h.01M1051.5 709.7h.01M1053.3 679.7h.01M969.9 677.0h.01M972.0 664.3h.01M995.0 683.4h.01M1028.7 649.0h.01M1037.4 713.6h.01M961.1 678.9h.01M1047.7 659.1h.01M1044.4 648.5h.01M1043.6 653.2h.01M985.6 663.8h.01M955.2 714.1h.01M1059.0 649.8h.01M952.1 683.5h.01M1042.4 691.3h.01M1025.8 664.8h.01M1003.9 703.0h.01M1046.8 659.4h.01M948.4 749.6h.01M957.7 701.3h.01M1060.7 707.9h.01M985.2 763.4h.01M969.2 755.3h.01M958.8 749.4h.01M1056.3 651.9h.01M981.8 641.4h.01M1053.9 655.5h.01M988.3 720.2h.01M978.4 661.5h.01M995.6 638.2h.01M976.4 721.0h.01M973.2 699.8h.01M1037.2 694.3h.01M1037.0 675.9h.01M969.1 641.2h.01M983.0 652.8h.01M964.1 745.7h.01M985.3 720.9h.01M1016.5 652.4h.01M1004.4 775.9h.01M997.5 626.4h.01M956.5 728.5h.01M996.6 665.2h.01M948.7 699.5h.01M926.7 713.4h.01M909.1 703.6h.01M934.7 748.8h.01M913.1 750.3h.01M949.5 686.4h.01M945.9 717.6h.01M917.8 752.0h.01M931.0 752.9h.01M931.6 718.1h.01M904.5 729.9h.01M914.5 730.6h.01M909.9 711.5h.01M916.3 723.6h.01M914.8 779.0h.01M934.5 780.7h.01M943.2 731.1h.01M906.0 717.2h.01M934.2 695.5h.01M924.1 780.8h.01M934.4 774.8h.01M906.9 721.8h.01M928.0 783.1h.01M936.2 727.5h.01M913.1 738.9h.01M920.5 743.5h.01M931.2 717.8h.01M919.1 736.6h.01M929.8 784.2h.01M940.5 737.9h.01M934.5 781.7h.01M401.3 824.7h.01M387.2 792.8h.01M380.7 830.9h.01M348.9 814.5h.01M331.5 770.4h.01M355.6 735.4h.01M322.6 826.2h.01M318.9 821.6h.01M399.8 819.0h.01M325.1 855.9h.01M307.7 826.5h.01M356.9 731.0h.01M323.1 788.3h.01M394.0 808.3h.01M371.9 785.2h.01M328.5 758.8h.01M385.2 802.6h.01M358.1 783.9h.01M397.1 823.3h.01M358.4 751.4h.01M375.5 830.2h.01M301.0 851.3h.01M352.1 754.8h.01M318.8 821.0h.01M328.0 841.6h.01M297.6 815.8h.01M360.8 745.0h.01M353.7 812.9h.01M336.3 743.5h.01M337.2 818.9h.01M386.5 831.6h.01M370.7 729.2h.01M362.3 767.5h.01M350.9 754.7h.01M339.1 772.9h.01M386.7 745.2h.01M379.6 838.9h.01M377.6 854.5h.01M409.3 820.4h.01M481.5 871.9h.01M490.7 875.8h.01M657.7 712.7h.01M640.3 684.4h.01M638.1 700.3h.01M677.8 728.8h.01M676.6 708.4h.01M629.8 659.7h.01M645.0 710.7h.01M651.3 701.0h.01M659.8 701.0h.01M623.0 680.7h.01M677.3 736.7h.01M624.5 684.1h.01M647.3 706.1h.01M658.8 693.8h.01M605.8 664.3h.01M652.6 669.6h.01M610.3 646.6h.01M625.2 652.6h.01M638.7 676.3h.01M628.8 659.9h.01M640.0 658.2h.01M629.6 671.8h.01M643.5 677.9h.01M595.3 679.9h.01M608.8 699.4h.01M670.9 709.9h.01M669.8 721.5h.01M596.0 665.1h.01M639.0 684.2h.01M553.7 777.0h.01M550.9 766.4h.01M558.2 774.3h.01M567.6 761.2h.01M549.7 770.1h.01M737.2 849.7h.01M636.1 899.4h.01M629.2 916.2h.01M635.7 915.1h.01M631.2 919.8h.01M696.2 933.5h.01M519.5 990.2h.01"/>
<path stroke="#6a40f7" d="M727.0 210.2h.01M872.4 369.7h.01M875.3 373.2h.01M864.8 365.4h.01M967.7 372.9h.01M944.3 373.5h.01M936.2 359.6h.01M967.4 370.4h.01M964.4 371.3h.01M949.7 372.0h.01M967.3 719.0h.01"/>
<path stroke="#9d77ec" d="M691.2 141.0h.01M672.2 116.0h.01M686.7 156.1h.01M681.9 183.4h.01M660.9 147.1h.01M721.5 191.1h.01M725.5 187.8h.01M732.4 206.4h.01M787.1 249.9h.01M813.6 283.7h.01M799.9 278.4h.01M812.6 291.4h.01M833.1 289.6h.01M830.9 290.9h.01M837.1 285.4h.01M648.8 247.5h.01M681.3 247.6h.01M680.9 237.6h.01M459.4 583.4h.01M488.7 551.4h.01M507.8 562.7h.01M604.5 386.9h.01M597.6 438.8h.01M626.4 463.8h.01M860.4 367.7h.01M860.8 365.1h.01M904.8 369.5h.01M899.3 371.3h.01M917.1 373.6h.01M934.5 352.7h.01M934.7 364.5h.01M954.8 718.2h.01M1048.7 690.8h.01M966.7 654.9h.01M1011.2 771.9h.01M1004.8 774.2h.01M1009.3 685.5h.01M1014.6 702.8h.01M992.6 636.7h.01M981.4 692.2h.01M1029.3 631.7h.01M1032.1 630.5h.01M1038.7 666.2h.01M1021.2 666.1h.01M952.6 664.2h.01M1064.5 680.5h.01M1044.9 693.1h.01M1014.9 636.5h.01M1024.1 723.6h.01M986.3 711.2h.01M975.6 694.3h.01M1002.4 674.4h.01M1007.2 634.4h.01M1016.3 680.1h.01M1037.6 726.0h.01M978.0 723.9h.01M1054.3 657.5h.01M1062.5 684.7h.01M979.3 674.5h.01M1046.1 660.0h.01M934.2 674.3h.01M931.0 720.4h.01M323.3 851.1h.01M352.6 721.0h.01M369.2 780.4h.01M333.1 823.9h.01M375.6 763.1h.01M299.8 840.9h.01M390.6 824.4h.01M329.3 837.0h.01M365.4 829.9h.01M370.2 763.8h.01M338.1 719.5h.01M383.6 807.7h.01M320.6 761.0h.01M344.9 817.6h.01M327.0 815.9h.01M312.5 806.4h.01M323.4 806.9h.01M388.7 761.0h.01M388.9 778.2h.01M328.7 775.5h.01M500.1 881.1h.01M500.8 874.7h.01M508.3 885.4h.01M502.2 867.3h.01M663.5 694.5h.01M627.0 676.5h.01M611.7 681.8h.01M596.4 690.8h.01M538.0 1001.2h.01M532.7 1008.1h.01M521.1 1019.0h.01M526.1 1009.5h.01"/>
<path stroke="#5731fa" d="M866.7 364.4h.01M867.9 372.2h.01M935.7 367.9h.01M952.4 365.0h.01M951.4 373.4h.01M962.1 370.7h.01M1040.0 664.7h.01M974.8 704.3h.01"/>
<path stroke="#794ff4" d="M707.4 150.5h.01M681.1 116.6h.01M695.2 130.4h.01M724.3 225.0h.01M721.5 211.2h.01M723.6 213.2h.01M772.6 220.8h.01M711.0 439.4h.01M864.6 366.7h.01M864.6 367.5h.01M867.3 371.0h.01M907.9 367.9h.01M922.5 374.9h.01M937.2 361.1h.01M952.0 363.4h.01M948.4 369.4h.01M945.6 361.2h.01M1012.5 618.9h.01M1037.4 695.4h.01M1027.9 722.0h.01M1048.7 672.9h.01M1033.6 691.4h.01M968.0 689.7h.01M984.4 665.4h.01M599.7 686.7h.01M807.0 785.2h.01"/>
<path stroke="#875cf2" d="M681.6 145.3h.01M725.4 127.2h.01M691.5 116.9h.01M683.6 187.2h.01M720.5 132.6h.01M718.5 202.8h.01M725.9 212.2h.01M729.5 230.3h.01M756.2 195.6h.01M731.5 195.9h.01M823.7 274.5h.01M727.3 238.9h.01M559.3 520.0h.01M710.0 437.4h.01M862.8 367.1h.01M882.8 373.5h.01M907.4 370.2h.01M929.8 349.5h.01M950.2 375.6h.01M945.4 377.9h.01M1037.6 631.5h.01M1024.2 762.9h.01M970.5 692.8h.01M960.3 751.0h.01M984.1 639.1h.01M1002.2 710.1h.01M1004.7 668.9h.01M1016.0 639.3h.01M1036.8 648.8h.01M1013.5 616.9h.01M964.4 631.1h.01M967.6 640.8h.01M980.4 753.4h.01M361.4 766.7h.01M668.6 700.5h.01M595.4 663.8h.01M640.5 665.8h.01M801.6 793.2h.01"/>
<path stroke="#c6b9db" d="M686.6 163.7h.01M739.2 158.0h.01M741.3 236.8h.01M763.3 220.0h.01M739.6 198.6h.01M780.7 241.9h.01M644.2 247.1h.01M502.7 538.1h.01M422.3 544.7h.01M619.3 446.0h.01M188.6 552.5h.01M220.0 544.3h.01M1025.8 679.6h.01M1031.2 666.6h.01M1004.9 701.0h.01M1051.6 698.2h.01M967.1 695.7h.01M1045.2 670.2h.01M1019.9 633.6h.01M338.8 731.4h.01M396.0 773.2h.01M353.4 823.7h.01M383.9 774.2h.01M311.8 801.1h.01M391.3 812.0h.01M334.9 836.6h.01M334.6 789.4h.01M361.7 803.2h.01M315.1 840.0h.01M391.0 748.7h.01M366.0 855.5h.01M467.8 850.5h.01M663.4 696.5h.01"/>
<path stroke="#a784e9" d="M723.0 182.6h.01M696.9 129.5h.01M689.4 182.3h.01M717.0 150.0h.01M665.6 169.3h.01M690.7 132.6h.01M723.1 177.2h.01M720.8 185.0h.01M730.6 147.7h.01M679.1 133.9h.01M668.1 170.2h.01M709.3 133.2h.01M720.3 194.9h.01M700.1 162.1h.01M722.5 184.2h.01M720.1 186.4h.01M740.9 201.8h.01M748.5 190.8h.01M815.9 274.4h.01M806.8 271.8h.01M795.9 290.4h.01M829.2 279.4h.01M666.4 247.8h.01M692.5 239.7h.01M421.3 441.3h.01M385.5 405.5h.01M451.0 453.1h.01M525.3 446.2h.01M523.5 447.6h.01M490.5 519.1h.01M456.5 549.9h.01M495.5 548.6h.01M519.5 551.7h.01M508.8 550.4h.01M628.4 425.1h.01M588.8 456.4h.01M590.2 451.3h.01M723.2 447.5h.01M229.9 546.7h.01M150.7 554.4h.01M229.9 535.6h.01M196.6 573.5h.01M211.2 564.2h.01M257.3 543.7h.01M175.9 553.0h.01M166.4 535.4h.01M164.4 539.0h.01M1030.3 663.1h.01M1021.5 750.6h.01M1023.0 749.7h.01M965.5 714.7h.01M1009.0 686.5h.01M959.2 705.6h.01M998.8 637.8h.01M996.9 742.1h.01M979.9 670.6h.01M969.0 777.0h.01M1041.7 682.9h.01M1025.5 624.5h.01M1002.3 622.5h.01M1023.6 643.0h.01M1053.0 649.9h.01M1051.0 669.8h.01M968.2 637.5h.01M1057.4 715.4h.01M1034.7 698.4h.01M1009.0 686.7h.01M1032.4 640.2h.01M1017.3 649.3h.01M1016.2 622.9h.01M1023.9 740.3h.01M1053.2 650.0h.01M978.0 664.5h.01M987.2 678.1h.01M977.3 683.5h.01M982.1 660.3h.01M998.8 690.7h.01M969.8 635.5h.01M974.8 657.3h.01M1055.1 699.0h.01M1046.7 669.5h.01M995.0 716.4h.01M1018.9 631.1h.01M1009.2 704.6h.01M1013.8 632.9h.01M999.7 661.5h.01M1034.8 656.3h.01M1000.6 660.7h.01M1012.1 652.1h.01M986.5 769.6h.01M936.7 764.8h.01M354.0 717.9h.01M334.9 829.4h.01M373.5 782.1h.01M310.2 788.1h.01M324.3 777.8h.01M318.3 790.8h.01M327.1 750.5h.01M345.4 785.9h.01M313.3 780.4h.01M382.8 811.3h.01M336.7 785.5h.01M325.1 772.7h.01M386.3 783.8h.01M357.1 759.9h.01M341.4 840.8h.01M351.4 827.6h.01M378.8 819.9h.01M351.0 844.8h.01M318.7 853.7h.01M325.8 743.3h.01M377.3 783.8h.01M389.4 852.2h.01M369.6 846.2h.01M451.8 845.9h.01M436.2 839.2h.01M426.9 820.2h.01M498.5 875.7h.01M508.5 878.7h.01M494.5 872.5h.01M497.7 874.2h.01M643.7 668.6h.01M610.7 646.3h.01M633.6 695.4h.01M624.3 678.0h.01M637.6 697.9h.01M616.4 691.3h.01M679.3 735.5h.01M648.3 668.7h.01M566.9 765.7h.01M564.4 775.9h.01M733.7 717.2h.01M708.1 839.5h.01M701.6 845.8h.01M708.0 853.4h.01M721.3 838.9h.01M706.5 858.1h.01M736.7 850.9h.01M722.8 827.3h.01M627.9 926.2h.01M712.2 938.1h.01M710.6 934.2h.01M657.7 982.9h.01M534.7 1008.3h.01M520.5 1014.6h.01"/>
<path stroke="#926aef" d="M718.0 173.4h.01M687.0 174.0h.01M714.9 193.7h.01M730.0 131.4h.01M663.7 125.6h.01M740.1 149.5h.01M718.7 179.0h.01M765.2 202.7h.01M827.8 224.9h.01M803.9 275.9h.01M777.3 304.8h.01M676.9 241.5h.01M631.8 446.9h.01M604.8 429.4h.01M861.3 364.4h.01M882.7 372.0h.01M901.6 372.8h.01M1039.3 637.9h.01M947.4 727.4h.01M979.4 667.1h.01M966.1 663.4h.01M1027.2 654.1h.01M1062.5 683.8h.01M1024.0 675.2h.01M1023.0 625.7h.01M1006.8 645.2h.01M986.6 688.3h.01M1064.3 669.5h.01M1025.1 661.6h.01M983.0 680.0h.01M1009.3 701.5h.01M1003.6 693.1h.01M981.7 660.0h.01M1005.1 721.4h.01M927.2 749.4h.01M323.4 815.7h.01M357.2 799.2h.01M336.2 843.6h.01M357.8 795.4h.01M316.9 765.6h.01M374.6 743.4h.01M382.5 820.5h.01M360.6 758.5h.01M321.2 797.0h.01M370.0 741.2h.01M293.7 843.9h.01M371.3 741.3h.01M625.8 663.9h.01M614.8 701.4h.01M644.2 668.9h.01M655.0 694.7h.01M598.3 665.6h.01M611.3 652.7h.01M627.6 690.3h.01M615.5 701.3h.01M721.6 845.6h.01M806.4 787.0h.01M660.9 985.5h.01M514.0 1019.0h.01"/>
<path stroke="#bfabdf" d="M701.8 153.0h.01M681.2 154.4h.01M689.6 190.0h.01M672.6 140.5h.01M697.5 179.4h.01M781.8 223.9h.01M786.7 300.4h.01M670.9 250.5h.01M388.4 406.6h.01M400.8 417.2h.01M405.3 385.0h.01M453.8 452.7h.01M423.8 559.0h.01M516.8 564.5h.01M636.8 430.9h.01M633.4 436.0h.01M693.8 421.4h.01M717.3 457.8h.01M688.3 465.3h.01M716.0 462.0h.01M708.9 458.3h.01M719.1 447.4h.01M180.4 560.3h.01M195.0 533.1h.01M208.1 531.9h.01M187.4 549.7h.01M993.1 732.4h.01M1035.5 639.1h.01M963.9 644.5h.01M1003.2 745.1h.01M993.5 678.1h.01M1017.4 638.9h.01M1005.5 720.5h.01M1018.7 735.1h.01M1022.6 644.8h.01M1013.7 675.4h.01M971.4 751.8h.01M1033.9 672.5h.01M916.8 740.5h.01M365.4 808.5h.01M350.6 798.2h.01M378.2 819.1h.01M373.5 763.7h.01M338.1 748.9h.01M360.9 796.3h.01M351.5 763.0h.01M383.2 739.5h.01M388.5 732.0h.01M369.5 807.9h.01M353.5 846.8h.01M324.8 825.8h.01M387.7 753.0h.01M343.6 859.9h.01M364.3 829.5h.01M328.9 810.6h.01M321.2 773.9h.01M305.1 802.3h.01M318.5 852.2h.01M328.2 763.3h.01M421.6 834.1h.01M452.0 864.6h.01M496.8 879.0h.01M492.8 880.5h.01M674.9 703.2h.01M594.8 726.6h.01M521.5 1015.8h.01"/>
<path stroke="#5731fa" d="M713.0 178.0h.01"/>
<path stroke="#794ff4" d="M722.0 159.0h.01"/>
<path stroke="#d3d3d3" d="M812.0 306.0h.01"/>
<path stroke="#d3d3d3" d="M808.0 310.0h.01"/>
<path stroke="#b89ee2" d="M820.0 310.0h.01"/>
<path stroke="#b89ee2" d="M812.0 316.0h.01"/>
<path stroke="#926aef" d="M800.0 321.0h.01"/>
<path stroke="#926aef" d="M799.0 315.0h.01"/>
<path stroke="#d3d3d3" d="M742.0 282.0h.01"/>
<path stroke="#d3d3d3" d="M756.0 281.0h.01"/>
<path stroke="#d3d3d3" d="M702.0 254.0h.01"/>
<path stroke="#d3d3d3" d="M695.0 260.0h.01"/>
<path stroke="#d3d3d3" d="M703.0 260.0h.01"/>
<path stroke="#d3d3d3" d="M700.0 268.0h.01"/>
<path stroke="#d3d3d3" d="M698.0 200.0h.01"/>
<path stroke="#d3d3d3" d="M710.0 210.0h.01"/>
<path stroke="#d3d3d3" d="M674.0 209.0h.01"/>
<path stroke="#d3d3d3" d="M684.0 209.0h.01"/>
<path stroke="#af91e5" d="M708.0 222.0h.01"/>
<path stroke="#b89ee2" d="M712.0 225.0h.01"/>
<path stroke="#b89ee2" d="M716.0 227.0h.01"/>
<path stroke="#a784e9" d="M690.0 196.0h.01"/>
<path stroke="#d3d3d3" d="M542.5 210.5h.01"/>
<path stroke="#d3d3d3" d="M547.0 213.5h.01"/>
<path stroke="#d3d3d3" d="M550.0 213.5h.01"/>
<path stroke="#d3d3d3" d="M557.8 213.5h.01"/>
<path stroke="#d3d3d3" d="M544.5 216.5h.01"/>
<path stroke="#d3d3d3" d="M548.5 216.5h.01"/>
<path stroke="#d3d3d3" d="M537.0 220.0h.01"/>
<path stroke="#d3d3d3" d="M541.5 223.0h.01"/>
<path stroke="#d3d3d3" d="M537.5 224.5h.01"/>
<path stroke="#d3d3d3" d="M540.5 230.5h.01"/>
<path stroke="#d3d3d3" d="M533.0 232.0h.01"/>
<path stroke="#d3d3d3" d="M547.0 233.5h.01"/>
<path stroke="#d3d3d3" d="M553.0 235.0h.01"/>
<path stroke="#d3d3d3" d="M557.0 232.0h.01"/>
<path stroke="#d3d3d3" d="M555.0 239.0h.01"/>
<path stroke="#d3d3d3" d="M559.5 228.0h.01"/>
<path stroke="#d3d3d3" d="M564.0 219.0h.01"/>
<path stroke="#d3d3d3" d="M569.0 219.0h.01"/>
<path stroke="#d3d3d3" d="M574.0 218.2h.01"/>
<path stroke="#d3d3d3" d="M567.0 223.0h.01"/>
<path stroke="#d3d3d3" d="M571.0 222.5h.01"/>
<path stroke="#d3d3d3" d="M576.0 223.0h.01"/>
<path stroke="#d3d3d3" d="M582.0 221.5h.01"/>
<path stroke="#d3d3d3" d="M580.0 225.0h.01"/>
<path stroke="#d3d3d3" d="M585.0 225.0h.01"/>
<path stroke="#d3d3d3" d="M569.0 230.0h.01"/>
<path stroke="#d3d3d3" d="M571.0 234.0h.01"/>
<path stroke="#d3d3d3" d="M578.0 228.0h.01"/>
<path stroke="#d3d3d3" d="M586.0 228.5h.01"/>
<path stroke="#d3d3d3" d="M580.0 232.5h.01"/>
<path stroke="#d3d3d3" d="M584.5 233.0h.01"/>
<path stroke="#d3d3d3" d="M574.0 240.5h.01"/>
<path stroke="#d3d3d3" d="M568.5 244.0h.01"/>
<path stroke="#d3d3d3" d="M565.5 249.5h.01"/>
<path stroke="#d3d3d3" d="M555.8 250.5h.01"/>
<path stroke="#d3d3d3" d="M549.8 248.8h.01"/>
<path stroke="#d3d3d3" d="M541.5 246.0h.01"/>
<path stroke="#d3d3d3" d="M545.0 249.0h.01"/>
<path stroke="#d3d3d3" d="M538.5 241.0h.01"/>
<path stroke="#d3d3d3" d="M539.0 250.0h.01"/>
<path stroke="#d3d3d3" d="M545.0 255.0h.01"/>
<path stroke="#d3d3d3" d="M577.5 249.0h.01"/>
<path stroke="#d3d3d3" d="M578.0 247.5h.01"/>
<path stroke="#d3d3d3" d="M586.0 248.5h.01"/>
<path stroke="#d3d3d3" d="M590.0 245.5h.01"/>
<path stroke="#d3d3d3" d="M596.5 244.8h.01"/>
<path stroke="#d3d3d3" d="M599.0 230.5h.01"/>
<path stroke="#d3d3d3" d="M603.0 231.5h.01"/>
<path stroke="#d3d3d3" d="M600.5 236.5h.01"/>
<path stroke="#d3d3d3" d="M616.0 240.8h.01"/>
<path stroke="#d3d3d3" d="M619.5 240.8h.01"/>
<path stroke="#d3d3d3" d="M594.0 233.0h.01"/>
<path stroke="#d3d3d3" d="M633.0 243.5h.01"/>
<path stroke="#d3d3d3" d="M545.5 220.0h.01"/>
<path stroke="#d3d3d3" d="M550.0 225.0h.01"/>
<path stroke="#d3d3d3" d="M543.0 227.0h.01"/>
<path stroke="#d3d3d3" d="M562.0 233.0h.01"/>
<path stroke="#d3d3d3" d="M574.5 225.0h.01"/>
<path stroke="#d3d3d3" d="M568.0 226.0h.01"/>
<path stroke="#a784e9" d="M540.0 218.0h.01"/>
<path stroke="#a784e9" d="M552.2 219.0h.01"/>
<path stroke="#a784e9" d="M556.0 221.2h.01"/>
<path stroke="#a784e9" d="M552.0 224.0h.01"/>
<path stroke="#a784e9" d="M560.0 224.5h.01"/>
<path stroke="#a784e9" d="M565.2 223.8h.01"/>
<path stroke="#b89ee2" d="M545.8 228.0h.01"/>
<path stroke="#a784e9" d="M550.2 228.5h.01"/>
<path stroke="#b89ee2" d="M554.8 228.7h.01"/>
<path stroke="#b89ee2" d="M549.2 232.2h.01"/>
<path stroke="#b89ee2" d="M563.8 230.0h.01"/>
<path stroke="#b89ee2" d="M572.8 227.2h.01"/>
<path stroke="#b89ee2" d="M583.2 231.0h.01"/>
<path stroke="#a784e9" d="M530.5 236.2h.01"/>
<path stroke="#b89ee2" d="M541.2 238.5h.01"/>
<path stroke="#b89ee2" d="M546.2 241.2h.01"/>
<path stroke="#b89ee2" d="M560.2 246.2h.01"/>
<path stroke="#b89ee2" d="M579.2 242.3h.01"/>
<path stroke="#b89ee2" d="M572.8 248.0h.01"/>
<path stroke="#a784e9" d="M540.0 254.2h.01"/>
<path stroke="#b89ee2" d="M593.5 229.0h.01"/>
<path stroke="#9d77ec" d="M594.8 231.0h.01"/>
<path stroke="#b89ee2" d="M605.0 233.0h.01"/>
<path stroke="#b89ee2" d="M608.0 234.5h.01"/>
<path stroke="#b89ee2" d="M613.0 235.8h.01"/>
<path stroke="#b89ee2" d="M610.5 239.5h.01"/>
<path stroke="#b89ee2" d="M635.0 244.5h.01"/>
<path stroke="#af91e5" d="M638.5 245.5h.01"/>
<path stroke="#d3d3d3" d="M537.5 322.5h.01"/>
<path stroke="#d3d3d3" d="M539.5 320.5h.01"/>
<path stroke="#d3d3d3" d="M541.5 319.0h.01"/>
<path stroke="#d3d3d3" d="M544.0 315.0h.01"/>
<path stroke="#d3d3d3" d="M546.0 313.0h.01"/>
<path stroke="#d3d3d3" d="M549.0 311.0h.01"/>
<path stroke="#d3d3d3" d="M551.0 310.5h.01"/>
<path stroke="#d3d3d3" d="M552.5 312.0h.01"/>
<path stroke="#a784e9" d="M543.0 317.8h.01"/>
<path stroke="#a784e9" d="M548.5 312.5h.01"/>
<path stroke="#d3d3d3" d="M494.0 342.0h.01"/>
<path stroke="#d3d3d3" d="M493.0 354.0h.01"/>
<path stroke="#d3d3d3" d="M491.0 358.0h.01"/>
<path stroke="#d3d3d3" d="M485.0 347.0h.01"/>
<path stroke="#d3d3d3" d="M492.0 366.0h.01"/>
<path stroke="#a784e9" d="M480.0 350.0h.01"/>
<path stroke="#a784e9" d="M486.0 352.0h.01"/>
<path stroke="#a784e9" d="M485.0 357.0h.01"/>
<path stroke="#a784e9" d="M490.0 363.0h.01"/>
<path stroke="#b89ee2" d="M492.0 345.0h.01"/>
<path stroke="#b89ee2" d="M481.0 356.0h.01"/>
<path stroke="#b89ee2" d="M488.0 361.0h.01"/>
<path stroke="#b89ee2" d="M491.0 348.0h.01"/>
<path stroke="#d3d3d3" d="M505.0 394.0h.01"/>
<path stroke="#d3d3d3" d="M512.0 414.0h.01"/>
<path stroke="#b89ee2" d="M507.0 399.0h.01"/>
<path stroke="#b89ee2" d="M508.0 401.0h.01"/>
<path stroke="#d3d3d3" d="M444.0 394.0h.01"/>
<path stroke="#d3d3d3" d="M446.0 401.0h.01"/>
<path stroke="#d3d3d3" d="M456.0 389.6h.01"/>
<path stroke="#d3d3d3" d="M441.0 435.6h.01"/>
<path stroke="#a784e9" d="M452.0 392.0h.01"/>
<path stroke="#b89ee2" d="M444.0 408.0h.01"/>
<path stroke="#b89ee2" d="M450.0 411.0h.01"/>
<path stroke="#b89ee2" d="M456.0 414.0h.01"/>
<path stroke="#d3d3d3" d="M498.0 464.0h.01"/>
<path stroke="#d3d3d3" d="M517.0 465.0h.01"/>
<path stroke="#b89ee2" d="M474.0 462.0h.01"/>
<path stroke="#b89ee2" d="M480.0 464.0h.01"/>
<path stroke="#b89ee2" d="M486.0 468.0h.01"/>
<path stroke="#b89ee2" d="M507.0 464.0h.01"/>
<path stroke="#b89ee2" d="M521.0 422.0h.01"/>
<path stroke="#d3d3d3" d="M540.0 492.0h.01"/>
<path stroke="#d3d3d3" d="M546.0 495.0h.01"/>
<path stroke="#d3d3d3" d="M552.0 498.0h.01"/>
<path stroke="#d3d3d3" d="M542.0 504.0h.01"/>
<path stroke="#d3d3d3" d="M546.0 507.0h.01"/>
<path stroke="#d3d3d3" d="M550.0 509.0h.01"/>
<path stroke="#d3d3d3" d="M572.0 503.0h.01"/>
<path stroke="#d3d3d3" d="M574.0 502.0h.01"/>
<path stroke="#d3d3d3" d="M524.0 468.0h.01"/>
<path stroke="#d3d3d3" d="M528.0 467.0h.01"/>
<path stroke="#b89ee2" d="M563.0 499.0h.01"/>
<path stroke="#d3d3d3" d="M576.0 446.4h.01"/>
<path stroke="#b89ee2" d="M546.0 441.6h.01"/>
<path stroke="#b89ee2" d="M571.0 437.6h.01"/>
<path stroke="#b89ee2" d="M567.0 459.0h.01"/>
<path stroke="#a784e9" d="M586.0 451.0h.01"/>
<path stroke="#b89ee2" d="M586.0 428.6h.01"/>
<path stroke="#d3d3d3" d="M573.0 503.0h.01"/>
<path stroke="#b89ee2" d="M566.0 485.6h.01"/>
<path stroke="#b89ee2" d="M563.0 500.0h.01"/>
<path stroke="#d3d3d3" d="M733.8 537.1h.01"/>
<path stroke="#d3d3d3" d="M732.2 540.4h.01"/>
<path stroke="#d3d3d3" d="M735.6 546.8h.01"/>
<path stroke="#d3d3d3" d="M731.0 548.8h.01"/>
<path stroke="#d3d3d3" d="M753.3 546.5h.01"/>
<path stroke="#d3d3d3" d="M755.0 554.6h.01"/>
<path stroke="#d3d3d3" d="M752.5 550.0h.01"/>
<path stroke="#d3d3d3" d="M742.5 545.0h.01"/>
<path stroke="#d3d3d3" d="M749.6 549.2h.01"/>
<path stroke="#d3d3d3" d="M752.5 562.1h.01"/>
<path stroke="#d3d3d3" d="M755.4 562.1h.01"/>
<path stroke="#d3d3d3" d="M756.2 566.7h.01"/>
<path stroke="#d3d3d3" d="M761.7 567.9h.01"/>
<path stroke="#d3d3d3" d="M759.2 571.2h.01"/>
<path stroke="#d3d3d3" d="M763.3 569.6h.01"/>
<path stroke="#d3d3d3" d="M723.1 567.3h.01"/>
<path stroke="#d3d3d3" d="M729.2 571.2h.01"/>
<path stroke="#d3d3d3" d="M749.8 575.2h.01"/>
<path stroke="#d3d3d3" d="M776.2 566.7h.01"/>
<path stroke="#d3d3d3" d="M780.8 570.0h.01"/>
<path stroke="#d3d3d3" d="M784.4 564.0h.01"/>
<path stroke="#d3d3d3" d="M703.8 578.8h.01"/>
<path stroke="#d3d3d3" d="M708.8 577.1h.01"/>
<path stroke="#d3d3d3" d="M715.8 585.4h.01"/>
<path stroke="#d3d3d3" d="M721.7 587.5h.01"/>
<path stroke="#d3d3d3" d="M715.8 590.8h.01"/>
<path stroke="#d3d3d3" d="M720.0 593.3h.01"/>
<path stroke="#d3d3d3" d="M724.2 595.0h.01"/>
<path stroke="#d3d3d3" d="M727.5 596.7h.01"/>
<path stroke="#d3d3d3" d="M730.8 590.8h.01"/>
<path stroke="#d3d3d3" d="M730.8 595.8h.01"/>
<path stroke="#d3d3d3" d="M738.8 590.4h.01"/>
<path stroke="#d3d3d3" d="M738.3 595.8h.01"/>
<path stroke="#d3d3d3" d="M735.0 598.3h.01"/>
<path stroke="#d3d3d3" d="M742.5 586.2h.01"/>
<path stroke="#d3d3d3" d="M744.6 593.3h.01"/>
<path stroke="#d3d3d3" d="M745.0 598.3h.01"/>
<path stroke="#d3d3d3" d="M743.3 604.2h.01"/>
<path stroke="#d3d3d3" d="M748.3 607.1h.01"/>
<path stroke="#d3d3d3" d="M751.7 593.3h.01"/>
<path stroke="#d3d3d3" d="M752.5 598.3h.01"/>
<path stroke="#d3d3d3" d="M755.8 589.2h.01"/>
<path stroke="#d3d3d3" d="M756.7 595.8h.01"/>
<path stroke="#d3d3d3" d="M758.3 602.5h.01"/>
<path stroke="#d3d3d3" d="M754.6 608.3h.01"/>
<path stroke="#d3d3d3" d="M760.0 600.0h.01"/>
<path stroke="#d3d3d3" d="M741.7 600.0h.01"/>
<path stroke="#d3d3d3" d="M749.2 602.5h.01"/>
<path stroke="#d3d3d3" d="M733.3 594.2h.01"/>
<path stroke="#d3d3d3" d="M740.8 594.2h.01"/>
<path stroke="#d3d3d3" d="M747.5 595.8h.01"/>
<path stroke="#d3d3d3" d="M755.0 601.7h.01"/>
<path stroke="#d3d3d3" d="M761.7 598.3h.01"/>
<path stroke="#d3d3d3" d="M763.3 602.5h.01"/>
<path stroke="#b89ee2" d="M742.9 537.5h.01"/>
<path stroke="#b89ee2" d="M741.2 541.4h.01"/>
<path stroke="#b89ee2" d="M747.3 545.8h.01"/>
<path stroke="#a784e9" d="M742.1 550.4h.01"/>
<path stroke="#a784e9" d="M749.0 551.8h.01"/>
<path stroke="#b89ee2" d="M748.3 556.2h.01"/>
<path stroke="#926aef" d="M742.7 557.7h.01"/>
<path stroke="#926aef" d="M707.9 579.6h.01"/>
<path stroke="#926aef" d="M712.5 584.0h.01"/>
<path stroke="#a784e9" d="M715.0 589.2h.01"/>
<path stroke="#a784e9" d="M717.9 590.4h.01"/>
<path stroke="#a784e9" d="M730.4 600.2h.01"/>
<path stroke="#a784e9" d="M739.0 601.2h.01"/>
<path stroke="#a784e9" d="M746.7 602.5h.01"/>
<path stroke="#a784e9" d="M749.8 599.2h.01"/>
<path stroke="#a784e9" d="M753.8 605.0h.01"/>
<path stroke="#a784e9" d="M762.1 595.2h.01"/>
<path stroke="#af91e5" d="M770.8 587.1h.01"/>
<path stroke="#d3d3d3" d="M772.5 582.5h.01"/>
<path stroke="#d3d3d3" d="M779.2 598.3h.01"/>
<path stroke="#d3d3d3" d="M770.0 596.0h.01"/>
<path stroke="#d3d3d3" d="M770.5 601.0h.01"/>
<path stroke="#d3d3d3" d="M733.6 520.0h.01"/>
<path stroke="#d3d3d3" d="M774.0 632.4h.01"/>
<path stroke="#b89ee2" d="M721.0 496.0h.01"/>
<path stroke="#d3d3d3" d="M920.7 534.3h.01"/>
<path stroke="#d3d3d3" d="M919.7 538.0h.01"/>
<path stroke="#d3d3d3" d="M911.3 538.0h.01"/>
<path stroke="#d3d3d3" d="M917.3 543.7h.01"/>
<path stroke="#d3d3d3" d="M905.3 545.7h.01"/>
<path stroke="#d3d3d3" d="M913.3 551.7h.01"/>
<path stroke="#d3d3d3" d="M910.7 552.7h.01"/>
<path stroke="#d3d3d3" d="M904.7 551.3h.01"/>
<path stroke="#d3d3d3" d="M902.7 553.7h.01"/>
<path stroke="#d3d3d3" d="M902.7 559.7h.01"/>
<path stroke="#d3d3d3" d="M900.0 561.3h.01"/>
<path stroke="#d3d3d3" d="M898.0 564.3h.01"/>
<path stroke="#d3d3d3" d="M899.0 566.7h.01"/>
<path stroke="#d3d3d3" d="M896.7 570.3h.01"/>
<path stroke="#d3d3d3" d="M895.7 576.3h.01"/>
<path stroke="#d3d3d3" d="M896.3 581.3h.01"/>
<path stroke="#d3d3d3" d="M915.3 558.0h.01"/>
<path stroke="#d3d3d3" d="M909.3 566.0h.01"/>
<path stroke="#d3d3d3" d="M914.0 567.7h.01"/>
<path stroke="#d3d3d3" d="M912.7 576.0h.01"/>
<path stroke="#d3d3d3" d="M913.0 584.3h.01"/>
<path stroke="#d3d3d3" d="M912.0 589.0h.01"/>
<path stroke="#d3d3d3" d="M907.3 548.3h.01"/>
<path stroke="#b89ee2" d="M918.3 536.0h.01"/>
<path stroke="#b89ee2" d="M916.0 538.3h.01"/>
<path stroke="#b89ee2" d="M913.3 540.7h.01"/>
<path stroke="#b89ee2" d="M914.7 542.3h.01"/>
<path stroke="#b89ee2" d="M911.3 541.7h.01"/>
<path stroke="#b89ee2" d="M908.0 545.7h.01"/>
<path stroke="#b89ee2" d="M907.7 547.7h.01"/>
<path stroke="#a784e9" d="M910.3 545.3h.01"/>
<path stroke="#b89ee2" d="M903.3 556.0h.01"/>
<path stroke="#b89ee2" d="M912.5 561.0h.01"/>
<path stroke="#af91e5" d="M898.2 590.7h.01"/>
<path stroke="#b89ee2" d="M901.5 597.0h.01"/>
<path stroke="#d3d3d3" d="M856.0 361.9h.01"/>
<path stroke="#d3d3d3" d="M900.6 430.4h.01"/>
<path stroke="#d3d3d3" d="M924.8 401.1h.01"/>
<path stroke="#d3d3d3" d="M937.2 391.9h.01"/>
<path stroke="#b89ee2" d="M921.0 395.7h.01"/>
<path stroke="#b89ee2" d="M928.0 398.9h.01"/>
<path stroke="#b89ee2" d="M926.5 400.0h.01"/>
<path stroke="#af91e5" d="M930.0 397.0h.01"/>
<path stroke="#9d77ec" d="M934.0 394.6h.01"/>
<path stroke="#a784e9" d="M932.0 396.0h.01"/>
<path stroke="#b89ee2" d="M940.5 389.2h.01"/>
<path stroke="#0000ff" d="M957.3 375.6h.01"/>
<path stroke="#3e1ffc" d="M948.6 378.9h.01"/>
<path stroke="#5731fa" d="M960.5 364.3h.01"/>
<path stroke="#5731fa" d="M934.5 358.8h.01"/>
<path stroke="#5731fa" d="M935.0 365.9h.01"/>
<path stroke="#d3d3d3" d="M265.0 539.0h.01"/>
<path stroke="#d3d3d3" d="M235.0 562.4h.01"/>
<path stroke="#d3d3d3" d="M240.0 573.0h.01"/>
<path stroke="#d3d3d3" d="M244.0 569.0h.01"/>
<path stroke="#9d77ec" d="M164.0 568.0h.01"/>
<path stroke="#d3d3d3" d="M929.0 641.0h.01"/>
<path stroke="#d3d3d3" d="M960.0 632.0h.01"/>
<path stroke="#d3d3d3" d="M947.0 660.0h.01"/>
<path stroke="#d3d3d3" d="M929.0 672.0h.01"/>
<path stroke="#d3d3d3" d="M910.0 689.4h.01"/>
<path stroke="#d3d3d3" d="M897.0 696.0h.01"/>
<path stroke="#b89ee2" d="M948.0 652.0h.01"/>
<path stroke="#d3d3d3" d="M496.0 907.6h.01"/>
<path stroke="#d3d3d3" d="M316.0 754.0h.01"/>
<path stroke="#d3d3d3" d="M312.0 774.0h.01"/>
<path stroke="#b89ee2" d="M367.0 864.0h.01"/>
<path stroke="#b89ee2" d="M392.0 872.0h.01"/>
<path stroke="#b89ee2" d="M508.0 909.6h.01"/>
<path stroke="#d3d3d3" d="M610.6 783.4h.01"/>
<path stroke="#d3d3d3" d="M710.4 722.6h.01"/>
<path stroke="#d3d3d3" d="M581.6 773.6h.01"/>
<path stroke="#d3d3d3" d="M748.0 802.0h.01"/>
<path stroke="#d3d3d3" d="M749.0 788.0h.01"/>
<path stroke="#a784e9" d="M745.0 798.0h.01"/>
<path stroke="#a784e9" d="M751.0 790.0h.01"/>
<path stroke="#b89ee2" d="M750.0 793.0h.01"/>
<path stroke="#b89ee2" d="M748.0 796.0h.01"/>
<path stroke="#d3d3d3" d="M726.0 840.0h.01"/>
<path stroke="#af91e5" d="M732.0 846.0h.01"/>
<path stroke="#d3d3d3" d="M791.4 785.6h.01"/>
<path stroke="#d3d3d3" d="M608.0 841.0h.01"/>
<path stroke="#d3d3d3" d="M610.0 843.0h.01"/>
<path stroke="#d3d3d3" d="M610.0 849.0h.01"/>
<path stroke="#d3d3d3" d="M612.0 853.0h.01"/>
<path stroke="#b89ee2" d="M608.0 846.0h.01"/>
<path stroke="#b89ee2" d="M609.0 845.0h.01"/>
<path stroke="#d3d3d3" d="M628.0 876.0h.01"/>
<path stroke="#d3d3d3" d="M642.0 908.0h.01"/>
<path stroke="#d3d3d3" d="M638.0 903.0h.01"/>
<path stroke="#d3d3d3" d="M664.0 919.0h.01"/>
<path stroke="#d3d3d3" d="M670.4 921.0h.01"/>
<path stroke="#b89ee2" d="M657.0 916.6h.01"/>
<path stroke="#b89ee2" d="M659.0 917.0h.01"/>
<path stroke="#d3d3d3" d="M523.0 981.0h.01"/>
<path stroke="#d3d3d3" d="M523.0 997.0h.01"/>
<path stroke="#d3d3d3" d="M522.0 1002.0h.01"/>
<path stroke="#d3d3d3" d="M535.0 1006.0h.01"/>
<path stroke="#6a40f7" d="M525.0 1017.0h.01"/>
<path stroke="#b89ee2" d="M435.0 1046.0h.01"/>
<path stroke="#b89ee2" d="M436.5 1045.0h.01"/>
<path stroke="#a784e9" d="M438.0 1044.0h.01"/>
<path stroke="#a784e9" d="M439.5 1043.0h.01"/>
<path stroke="#a784e9" d="M441.0 1042.0h.01"/>
<path stroke="#b89ee2" d="M437.0 1045.5h.01"/>
</g>
<!-- axes -->
<g fill="#000">
<rect x="94" y="51" width="3" height="1070"/>
<rect x="94" y="1118" width="1023.9" height="3"/>
<rect x="140.3" y="1121" width="3" height="3.8"/><rect x="305.8" y="1121" width="3" height="3.8"/>
<rect x="471.3" y="1121" width="3" height="3.8"/><rect x="636.8" y="1121" width="3" height="3.8"/>
<rect x="802.3" y="1121" width="3" height="3.8"/><rect x="967.8" y="1121" width="3" height="3.8"/>
<rect x="90.2" y="275.8" width="3.8" height="3"/><rect x="90.2" y="569.8" width="3.8" height="3"/><rect x="90.2" y="863.8" width="3.8" height="3"/>
</g>
<g class="tk" text-anchor="middle">
<text transform="translate(141.8 1147.7) scale(1 1.045)">-15</text><text transform="translate(307.3 1147.7) scale(1 1.045)">-10</text><text transform="translate(472.8 1147.7) scale(1 1.045)">-5</text>
<text transform="translate(638.3 1147.7) scale(1 1.045)">0</text><text transform="translate(803.8 1147.7) scale(1 1.045)">5</text><text transform="translate(969.3 1147.7) scale(1 1.045)">10</text>
</g>
<g class="tk" text-anchor="end">
<text transform="translate(88.2 287.5) scale(1 1.045)">10</text><text transform="translate(88.2 581.5) scale(1 1.045)">0</text><text transform="translate(88.2 875.5) scale(1 1.045)">-10</text>
</g>
<text class="ax" transform="translate(528.3 1180.5) scale(1 1.045)">umapNC_1</text>
<text class="ax" style="font-size:30.5px" transform="translate(34.2 663.2) rotate(-90) scale(1 1.045)">umapNC_2</text>
<!-- legend -->
<rect x="1130.1" y="547.4" width="15.6" height="76.5" fill="url(#cb)"/>
<g fill="#fff">
<rect x="1130.1" y="553.9" width="3.1" height="1"/><rect x="1142.6" y="553.9" width="3.1" height="1"/>
<rect x="1130.1" y="571.4" width="3.1" height="1"/><rect x="1142.6" y="571.4" width="3.1" height="1"/>
<rect x="1130.1" y="588.8" width="3.1" height="1"/><rect x="1142.6" y="588.8" width="3.1" height="1"/>
<rect x="1130.1" y="606.0" width="3.1" height="1"/><rect x="1142.6" y="606.0" width="3.1" height="1"/>
</g>
<g class="lg">
<text transform="translate(1153.4 564.1) scale(1 1.045)">2.0</text><text transform="translate(1153.4 581.6) scale(1 1.045)">1.5</text><text transform="translate(1153.4 599.1) scale(1 1.045)">1.0</text>
<text transform="translate(1153.4 616.5) scale(1 1.045)">0.5</text><text transform="translate(1153.4 633.9) scale(1 1.045)">0.0</text>
</g>
</svg>
</body></html>
